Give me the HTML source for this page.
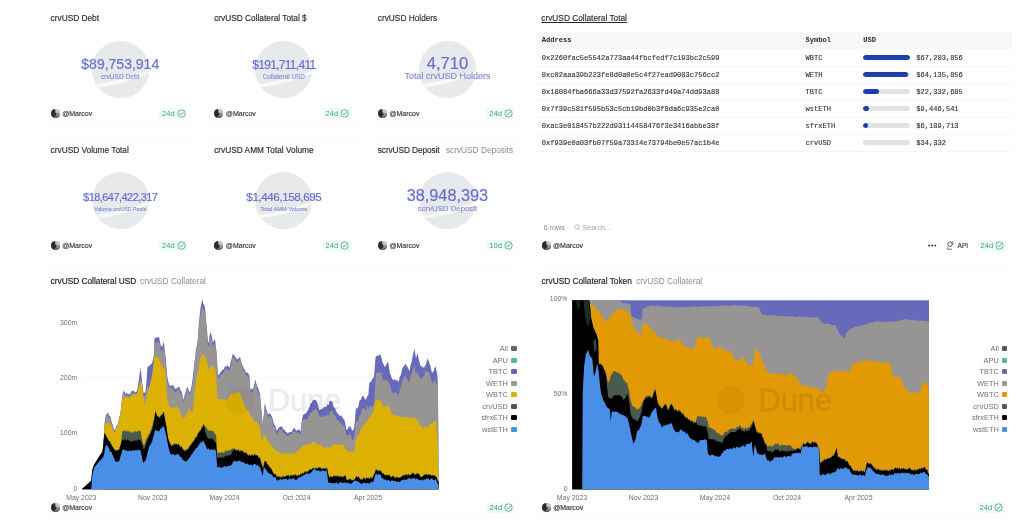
<!DOCTYPE html>
<html lang="en"><head><meta charset="utf-8"><title>crvUSD dashboard</title>
<style>
html,body{margin:0;padding:0;background:#fff;}
body{width:1024px;height:531px;overflow:hidden;font-family:"Liberation Sans",sans-serif;}
#root{position:relative;width:1024px;height:531px;overflow:hidden;background:#fff;}
.abs{position:absolute;}
.t{position:absolute;white-space:nowrap;line-height:1;}
.card{box-sizing:border-box;border:1px solid #fbfbfb;border-radius:3px;background:transparent;}
.pill{background:#f1fbf7;border-radius:2px;}
.bar{background:#e2e2e2;border-radius:3px;overflow:hidden;}
.bar i{display:block;height:100%;background:#1f3fb0;border-radius:3px;}
.m{-webkit-text-stroke:0.12px currentColor;}
.ctitle{-webkit-text-stroke:0.18px currentColor;}
.ktitle{-webkit-text-stroke:0.15px currentColor;}
.u{-webkit-text-stroke:0.15px currentColor;}
.val{-webkit-text-stroke:0.2px currentColor;}
.lab{-webkit-text-stroke:0.1px currentColor;}

</style></head>
<body>
<div id="root">
<svg class="abs" style="left:0;top:0" width="1024" height="531" viewBox="0 0 1024 531">
<line x1="82" x2="438.5" y1="377.7" y2="377.7" stroke="#f4f4f4" stroke-width="0.8"/>
<path d="M81.9,489.3 L81.9,489.2 L82.4,488.7 L82.9,488.3 L83.4,487.8 L83.9,487.4 L84.4,486.9 L84.9,486.5 L85.4,486.0 L85.9,485.6 L86.4,485.1 L86.9,484.7 L87.4,484.2 L87.9,483.8 L88.4,483.3 L88.9,482.9 L89.4,482.4 L89.9,482.0 L90.4,481.5 L90.9,481.1 L91.4,479.5 L91.9,473.8 L92.4,469.7 L92.9,468.2 L93.4,466.8 L93.9,465.3 L94.4,464.2 L94.9,463.4 L95.4,462.6 L95.9,461.8 L96.4,461.0 L96.9,460.2 L97.4,459.4 L97.9,458.6 L98.4,457.7 L98.9,457.0 L99.4,456.2 L99.9,455.5 L100.4,454.7 L100.9,454.0 L101.4,453.3 L101.9,452.5 L102.4,451.8 L102.9,448.0 L103.4,442.3 L103.9,434.9 L104.4,426.3 L104.9,420.7 L105.4,417.3 L105.9,414.7 L106.4,414.9 L106.9,414.2 L107.4,413.3 L107.9,412.2 L108.4,413.6 L108.9,415.5 L109.4,415.4 L109.9,415.9 L110.4,416.7 L110.9,418.8 L111.4,420.9 L111.9,422.9 L112.4,424.1 L112.9,425.2 L113.4,427.1 L113.9,429.1 L114.4,429.7 L114.9,430.0 L115.4,429.4 L115.9,427.3 L116.4,426.3 L116.9,425.6 L117.4,425.3 L117.9,424.0 L118.4,422.1 L118.9,419.5 L119.4,417.1 L119.9,415.2 L120.4,413.0 L120.9,408.8 L121.4,404.0 L121.9,399.7 L122.4,395.7 L122.9,392.3 L123.4,390.2 L123.9,391.6 L124.4,391.8 L124.9,392.4 L125.4,393.7 L125.9,393.7 L126.4,392.1 L126.9,393.4 L127.4,394.0 L127.9,393.8 L128.4,394.2 L128.9,394.5 L129.4,393.5 L129.9,393.5 L130.4,394.4 L130.9,392.3 L131.4,391.1 L131.9,391.3 L132.4,391.2 L132.9,390.9 L133.4,390.6 L133.9,391.1 L134.4,391.4 L134.9,391.9 L135.4,392.6 L135.9,392.2 L136.4,391.7 L136.9,390.9 L137.4,389.1 L137.9,385.9 L138.4,382.8 L138.9,379.4 L139.4,375.7 L139.9,371.8 L140.4,367.2 L140.9,370.7 L141.4,375.4 L141.9,379.9 L142.4,384.5 L142.9,388.5 L143.4,392.8 L143.9,393.0 L144.4,392.8 L144.9,392.6 L145.4,392.1 L145.9,387.3 L146.4,382.3 L146.9,375.1 L147.4,368.0 L147.9,366.0 L148.4,366.3 L148.9,366.4 L149.4,365.8 L149.9,365.3 L150.4,364.8 L150.9,364.0 L151.4,363.7 L151.9,363.4 L152.4,361.7 L152.9,359.9 L153.4,358.1 L153.9,354.2 L154.4,339.3 L154.9,337.8 L155.4,337.4 L155.9,338.5 L156.4,337.6 L156.9,336.6 L157.4,337.6 L157.9,337.8 L158.4,337.5 L158.9,336.9 L159.4,338.4 L159.9,341.8 L160.4,344.1 L160.9,346.3 L161.4,346.5 L161.9,346.3 L162.4,346.2 L162.9,344.2 L163.4,342.6 L163.9,342.4 L164.4,346.4 L164.9,350.7 L165.4,355.1 L165.9,360.0 L166.4,366.4 L166.9,373.6 L167.4,377.1 L167.9,380.3 L168.4,382.1 L168.9,383.5 L169.4,385.0 L169.9,385.7 L170.4,386.6 L170.9,385.5 L171.4,385.1 L171.9,385.8 L172.4,385.3 L172.9,385.0 L173.4,385.9 L173.9,386.8 L174.4,387.9 L174.9,388.5 L175.4,389.0 L175.9,389.3 L176.4,388.5 L176.9,387.6 L177.4,387.9 L177.9,387.6 L178.4,386.9 L178.9,386.4 L179.4,387.1 L179.9,388.5 L180.4,389.8 L180.9,391.0 L181.4,391.6 L181.9,392.8 L182.4,394.9 L182.9,397.8 L183.4,399.9 L183.9,398.4 L184.4,396.1 L184.9,394.1 L185.4,392.6 L185.9,391.2 L186.4,389.3 L186.9,387.7 L187.4,386.8 L187.9,388.1 L188.4,389.5 L188.9,390.8 L189.4,391.5 L189.9,392.2 L190.4,391.2 L190.9,389.2 L191.4,386.8 L191.9,384.1 L192.4,380.3 L192.9,376.3 L193.4,371.5 L193.9,366.8 L194.4,362.3 L194.9,359.5 L195.4,355.5 L195.9,349.9 L196.4,347.8 L196.9,346.0 L197.4,343.0 L197.9,337.8 L198.4,329.7 L198.9,322.9 L199.4,318.2 L199.9,313.0 L200.4,309.0 L200.9,305.9 L201.4,303.5 L201.9,300.4 L202.4,299.4 L202.9,301.8 L203.4,303.9 L203.9,304.4 L204.4,305.5 L204.9,306.9 L205.4,311.7 L205.9,317.3 L206.4,323.6 L206.9,328.9 L207.4,334.4 L207.9,340.3 L208.4,343.3 L208.9,341.5 L209.4,336.8 L209.9,334.4 L210.4,332.0 L210.9,333.5 L211.4,334.8 L211.9,336.7 L212.4,340.1 L212.9,342.7 L213.4,341.6 L213.9,340.6 L214.4,339.7 L214.9,339.9 L215.4,342.0 L215.9,346.8 L216.4,350.5 L216.9,357.6 L217.4,366.5 L217.9,375.4 L218.4,374.7 L218.9,374.6 L219.4,374.1 L219.9,373.0 L220.4,372.3 L220.9,371.9 L221.4,371.6 L221.9,370.7 L222.4,369.4 L222.9,369.6 L223.4,369.6 L223.9,369.2 L224.4,367.4 L224.9,366.0 L225.4,367.0 L225.9,366.8 L226.4,366.4 L226.9,365.4 L227.4,365.1 L227.9,365.9 L228.4,366.4 L228.9,366.9 L229.4,367.5 L229.9,366.3 L230.4,363.1 L230.9,361.3 L231.4,359.5 L231.9,357.9 L232.4,355.6 L232.9,353.3 L233.4,354.6 L233.9,355.1 L234.4,355.2 L234.9,356.5 L235.4,357.4 L235.9,357.5 L236.4,358.8 L236.9,359.4 L237.4,359.3 L237.9,359.0 L238.4,358.4 L238.9,358.3 L239.4,357.7 L239.9,356.5 L240.4,358.2 L240.9,360.8 L241.4,362.5 L241.9,364.0 L242.4,365.6 L242.9,366.3 L243.4,367.5 L243.9,369.3 L244.4,369.4 L244.9,369.5 L245.4,371.3 L245.9,372.4 L246.4,372.9 L246.9,372.6 L247.4,372.5 L247.9,372.7 L248.4,373.8 L248.9,375.1 L249.4,375.9 L249.9,382.3 L250.4,390.0 L250.9,389.5 L251.4,388.8 L251.9,388.0 L252.4,389.0 L252.9,389.8 L253.4,387.9 L253.9,385.6 L254.4,384.3 L254.9,380.5 L255.4,379.8 L255.9,381.8 L256.4,384.1 L256.9,386.2 L257.4,386.6 L257.9,387.8 L258.4,388.9 L258.9,390.5 L259.4,392.1 L259.9,393.4 L260.4,398.4 L260.9,404.2 L261.4,409.7 L261.9,415.6 L262.4,421.8 L262.9,424.4 L263.4,418.5 L263.9,413.7 L264.4,406.9 L264.9,403.0 L265.4,405.1 L265.9,407.4 L266.4,409.8 L266.9,411.2 L267.4,413.1 L267.9,414.2 L268.4,414.1 L268.9,413.7 L269.4,413.4 L269.9,413.5 L270.4,413.9 L270.9,414.8 L271.4,415.7 L271.9,416.6 L272.4,418.0 L272.9,419.7 L273.4,421.9 L273.9,423.7 L274.4,425.1 L274.9,424.9 L275.4,425.8 L275.9,428.1 L276.4,429.7 L276.9,430.8 L277.4,429.8 L277.9,429.0 L278.4,428.6 L278.9,427.4 L279.4,426.7 L279.9,426.8 L280.4,426.4 L280.9,426.3 L281.4,426.9 L281.9,426.9 L282.4,426.3 L282.9,428.6 L283.4,429.8 L283.9,429.5 L284.4,429.6 L284.9,430.1 L285.4,431.4 L285.9,431.9 L286.4,432.0 L286.9,432.3 L287.4,432.9 L287.9,433.8 L288.4,433.1 L288.9,431.9 L289.4,432.4 L289.9,432.2 L290.4,431.5 L290.9,432.1 L291.4,432.3 L291.9,431.8 L292.4,430.4 L292.9,429.1 L293.4,429.1 L293.9,428.4 L294.4,427.9 L294.9,428.6 L295.4,429.4 L295.9,430.3 L296.4,430.7 L296.9,430.8 L297.4,430.2 L297.9,429.8 L298.4,429.6 L298.9,429.6 L299.4,429.9 L299.9,430.8 L300.4,431.6 L300.9,428.8 L301.4,423.6 L301.9,420.0 L302.4,417.5 L302.9,415.6 L303.4,414.4 L303.9,414.2 L304.4,413.8 L304.9,413.6 L305.4,413.9 L305.9,413.4 L306.4,412.2 L306.9,411.7 L307.4,411.1 L307.9,410.6 L308.4,408.9 L308.9,407.4 L309.4,407.5 L309.9,406.3 L310.4,404.1 L310.9,403.8 L311.4,403.3 L311.9,402.0 L312.4,401.0 L312.9,400.2 L313.4,400.0 L313.9,399.8 L314.4,399.7 L314.9,399.8 L315.4,399.9 L315.9,400.1 L316.4,400.5 L316.9,401.9 L317.4,402.9 L317.9,404.3 L318.4,406.1 L318.9,408.6 L319.4,410.3 L319.9,410.0 L320.4,409.5 L320.9,409.2 L321.4,409.4 L321.9,409.1 L322.4,408.3 L322.9,408.5 L323.4,407.9 L323.9,406.4 L324.4,406.6 L324.9,407.1 L325.4,407.0 L325.9,406.9 L326.4,406.8 L326.9,405.4 L327.4,404.5 L327.9,404.3 L328.4,404.9 L328.9,404.8 L329.4,402.0 L329.9,400.9 L330.4,400.9 L330.9,400.8 L331.4,401.4 L331.9,401.2 L332.4,402.3 L332.9,403.9 L333.4,406.0 L333.9,407.1 L334.4,407.5 L334.9,408.0 L335.4,409.1 L335.9,411.3 L336.4,411.8 L336.9,412.1 L337.4,413.6 L337.9,413.9 L338.4,413.5 L338.9,414.8 L339.4,415.7 L339.9,416.5 L340.4,415.8 L340.9,415.0 L341.4,415.6 L341.9,416.5 L342.4,417.6 L342.9,418.2 L343.4,418.7 L343.9,419.4 L344.4,420.3 L344.9,421.4 L345.4,424.3 L345.9,427.1 L346.4,429.7 L346.9,429.8 L347.4,429.2 L347.9,429.0 L348.4,427.9 L348.9,426.6 L349.4,425.9 L349.9,426.3 L350.4,427.0 L350.9,427.6 L351.4,428.6 L351.9,430.2 L352.4,430.8 L352.9,430.3 L353.4,429.9 L353.9,428.9 L354.4,425.5 L354.9,419.9 L355.4,414.2 L355.9,408.5 L356.4,407.9 L356.9,408.4 L357.4,408.2 L357.9,407.7 L358.4,406.3 L358.9,403.4 L359.4,401.2 L359.9,399.8 L360.4,399.9 L360.9,399.8 L361.4,397.8 L361.9,396.7 L362.4,396.2 L362.9,395.5 L363.4,396.0 L363.9,397.1 L364.4,398.1 L364.9,399.0 L365.4,399.7 L365.9,399.3 L366.4,398.7 L366.9,396.7 L367.4,395.7 L367.9,396.1 L368.4,394.5 L368.9,388.1 L369.4,382.8 L369.9,382.0 L370.4,381.9 L370.9,381.9 L371.4,381.3 L371.9,380.1 L372.4,379.1 L372.9,378.2 L373.4,377.5 L373.9,377.3 L374.4,372.0 L374.9,365.1 L375.4,359.3 L375.9,356.1 L376.4,356.2 L376.9,355.9 L377.4,355.6 L377.9,355.6 L378.4,355.8 L378.9,355.3 L379.4,354.8 L379.9,354.2 L380.4,354.3 L380.9,355.9 L381.4,357.3 L381.9,359.4 L382.4,361.9 L382.9,363.2 L383.4,364.2 L383.9,364.8 L384.4,366.7 L384.9,366.9 L385.4,365.8 L385.9,365.0 L386.4,364.3 L386.9,363.6 L387.4,362.6 L387.9,361.1 L388.4,363.2 L388.9,367.1 L389.4,370.2 L389.9,373.1 L390.4,374.1 L390.9,375.5 L391.4,376.9 L391.9,378.2 L392.4,378.9 L392.9,379.6 L393.4,380.3 L393.9,380.0 L394.4,379.0 L394.9,379.6 L395.4,380.2 L395.9,380.6 L396.4,380.1 L396.9,379.8 L397.4,380.6 L397.9,381.3 L398.4,382.0 L398.9,380.4 L399.4,378.5 L399.9,376.2 L400.4,375.5 L400.9,374.9 L401.4,372.7 L401.9,370.6 L402.4,368.3 L402.9,367.4 L403.4,366.7 L403.9,366.0 L404.4,365.4 L404.9,364.8 L405.4,364.0 L405.9,364.1 L406.4,366.1 L406.9,366.3 L407.4,366.8 L407.9,367.8 L408.4,368.7 L408.9,369.8 L409.4,371.1 L409.9,369.7 L410.4,365.6 L410.9,364.3 L411.4,362.7 L411.9,360.6 L412.4,357.6 L412.9,354.8 L413.4,353.1 L413.9,350.9 L414.4,348.3 L414.9,351.5 L415.4,354.7 L415.9,358.0 L416.4,357.0 L416.9,355.1 L417.4,353.8 L417.9,353.9 L418.4,357.6 L418.9,359.4 L419.4,361.4 L419.9,363.8 L420.4,365.6 L420.9,366.4 L421.4,366.0 L421.9,366.5 L422.4,367.6 L422.9,367.2 L423.4,367.2 L423.9,367.8 L424.4,367.1 L424.9,366.1 L425.4,365.4 L425.9,364.3 L426.4,362.9 L426.9,359.9 L427.4,358.1 L427.9,360.0 L428.4,360.7 L428.9,361.1 L429.4,363.2 L429.9,364.7 L430.4,365.6 L430.9,368.2 L431.4,370.6 L431.9,372.8 L432.4,373.3 L432.9,371.5 L433.4,371.8 L433.9,370.6 L434.4,368.3 L434.9,367.2 L435.4,366.0 L435.9,368.1 L436.4,370.5 L436.9,372.8 L437.4,375.4 L437.9,386.3 L438.4,442.6 L438.5,489.3 L438.5,489.3 Z" fill="#676abb" />
<path d="M104.0,489.3 L104.0,433.2 L104.5,425.2 L105.0,421.2 L105.5,417.7 L106.0,415.9 L106.5,416.3 L107.0,416.0 L107.5,415.4 L108.0,414.5 L108.5,416.6 L109.0,418.0 L109.5,417.4 L110.0,417.6 L110.5,418.2 L111.0,419.9 L111.5,422.1 L112.0,424.4 L112.5,425.8 L113.0,427.5 L113.5,429.7 L114.0,431.8 L114.5,432.1 L115.0,432.2 L115.5,430.9 L116.0,428.5 L116.5,427.3 L117.0,426.9 L117.5,426.9 L118.0,425.3 L118.5,423.3 L119.0,420.7 L119.5,418.6 L120.0,416.7 L120.5,413.8 L121.0,409.1 L121.5,405.0 L122.0,401.4 L122.5,397.7 L123.0,394.2 L123.5,392.6 L124.0,393.4 L124.5,393.0 L125.0,393.9 L125.5,395.5 L126.0,395.5 L126.5,395.0 L127.0,395.7 L127.5,395.5 L128.0,395.7 L128.5,396.8 L129.0,396.9 L129.5,395.4 L130.0,395.7 L130.5,396.2 L131.0,394.2 L131.5,393.4 L132.0,393.7 L132.5,393.0 L133.0,392.3 L133.5,392.2 L134.0,392.7 L134.5,393.0 L135.0,393.5 L135.5,394.4 L136.0,394.2 L136.5,394.0 L137.0,393.0 L137.5,392.3 L138.0,389.5 L138.5,387.0 L139.0,385.6 L139.5,384.3 L140.0,382.1 L140.5,379.5 L141.0,380.4 L141.5,382.4 L142.0,384.8 L142.5,388.3 L143.0,391.2 L143.5,395.3 L144.0,396.2 L144.5,395.9 L145.0,395.7 L145.5,394.2 L146.0,389.5 L146.5,390.3 L147.0,388.7 L147.5,386.0 L148.0,386.2 L148.5,387.4 L149.0,388.0 L149.5,386.2 L150.0,384.5 L150.5,382.6 L151.0,380.8 L151.5,378.5 L152.0,375.8 L152.5,371.9 L153.0,368.4 L153.5,364.5 L154.0,357.2 L154.5,344.4 L155.0,342.7 L155.5,342.6 L156.0,343.5 L156.5,342.0 L157.0,341.5 L157.5,342.7 L158.0,342.9 L158.5,342.8 L159.0,342.1 L159.5,344.1 L160.0,346.8 L160.5,348.2 L161.0,350.8 L161.5,350.9 L162.0,350.9 L162.5,350.5 L163.0,348.5 L163.5,346.8 L164.0,347.2 L164.5,351.4 L165.0,355.7 L165.5,360.0 L166.0,365.1 L166.5,371.4 L167.0,378.2 L167.5,380.9 L168.0,384.4 L168.5,385.8 L169.0,386.8 L169.5,388.0 L170.0,388.3 L170.5,388.5 L171.0,387.6 L171.5,387.8 L172.0,388.5 L172.5,387.7 L173.0,388.0 L173.5,389.4 L174.0,390.7 L174.5,391.4 L175.0,391.8 L175.5,392.1 L176.0,392.3 L176.5,391.2 L177.0,390.7 L177.5,390.6 L178.0,389.7 L178.5,389.1 L179.0,389.1 L179.5,390.3 L180.0,391.8 L180.5,393.1 L181.0,393.9 L181.5,394.3 L182.0,395.6 L182.5,397.7 L183.0,400.6 L183.5,402.6 L184.0,400.2 L184.5,398.0 L185.0,396.2 L185.5,395.2 L186.0,393.7 L186.5,391.4 L187.0,389.3 L187.5,388.9 L188.0,390.2 L188.5,391.8 L189.0,393.1 L189.5,394.1 L190.0,395.1 L190.5,393.8 L191.0,391.8 L191.5,389.3 L192.0,386.5 L192.5,382.4 L193.0,378.7 L193.5,373.8 L194.0,368.9 L194.5,364.2 L195.0,361.0 L195.5,356.2 L196.0,351.1 L196.5,350.2 L197.0,348.6 L197.5,345.7 L198.0,339.7 L198.5,331.8 L199.0,324.9 L199.5,321.6 L200.0,317.4 L200.5,314.5 L201.0,311.9 L201.5,310.1 L202.0,307.7 L202.5,306.5 L203.0,308.7 L203.5,309.7 L204.0,310.0 L204.5,311.2 L205.0,312.1 L205.5,316.1 L206.0,321.9 L206.5,328.5 L207.0,334.0 L207.5,339.7 L208.0,345.1 L208.5,348.0 L209.0,344.8 L209.5,340.8 L210.0,338.7 L210.5,336.8 L211.0,338.0 L211.5,339.4 L212.0,342.1 L212.5,345.7 L213.0,346.9 L213.5,345.4 L214.0,344.5 L214.5,343.8 L215.0,343.5 L215.5,345.8 L216.0,350.6 L216.5,354.1 L217.0,362.4 L217.5,371.4 L218.0,378.6 L218.5,378.2 L219.0,378.2 L219.5,376.9 L220.0,375.2 L220.5,374.9 L221.0,374.7 L221.5,374.7 L222.0,374.0 L222.5,373.2 L223.0,373.3 L223.5,372.9 L224.0,372.0 L224.5,369.5 L225.0,368.9 L225.5,370.2 L226.0,369.9 L226.5,369.7 L227.0,368.5 L227.5,368.2 L228.0,368.9 L228.5,369.7 L229.0,370.3 L229.5,371.0 L230.0,369.1 L230.5,366.4 L231.0,364.8 L231.5,362.7 L232.0,360.7 L232.5,358.4 L233.0,356.9 L233.5,358.0 L234.0,358.0 L234.5,358.3 L235.0,360.0 L235.5,360.8 L236.0,360.5 L236.5,361.6 L237.0,362.2 L237.5,362.3 L238.0,361.7 L238.5,361.1 L239.0,360.9 L239.5,360.1 L240.0,358.8 L240.5,361.1 L241.0,363.4 L241.5,365.2 L242.0,366.8 L242.5,368.4 L243.0,369.4 L243.5,370.8 L244.0,372.1 L244.5,371.7 L245.0,372.1 L245.5,374.0 L246.0,375.5 L246.5,376.4 L247.0,375.6 L247.5,375.2 L248.0,375.9 L248.5,377.8 L249.0,378.9 L249.5,379.4 L250.0,386.9 L250.5,392.8 L251.0,392.4 L251.5,392.1 L252.0,391.6 L252.5,393.1 L253.0,393.5 L253.5,390.6 L254.0,388.2 L254.5,386.3 L255.0,382.3 L255.5,383.0 L256.0,385.5 L256.5,388.3 L257.0,390.2 L257.5,390.7 L258.0,392.0 L258.5,392.9 L259.0,394.7 L259.5,396.3 L260.0,397.5 L260.5,402.6 L261.0,407.9 L261.5,413.1 L262.0,418.6 L262.5,423.8 L263.0,423.8 L263.5,418.9 L264.0,414.7 L264.5,407.8 L265.0,406.2 L265.5,408.3 L266.0,410.7 L266.5,412.9 L267.0,414.3 L267.5,416.6 L268.0,417.6 L268.5,417.5 L269.0,416.6 L269.5,415.6 L270.0,415.9 L270.5,416.5 L271.0,417.4 L271.5,418.4 L272.0,419.7 L272.5,421.9 L273.0,423.9 L273.5,425.8 L274.0,427.0 L274.5,427.6 L275.0,427.0 L275.5,429.1 L276.0,432.1 L276.5,433.6 L277.0,434.6 L277.5,433.2 L278.0,432.6 L278.5,431.8 L279.0,430.2 L279.5,429.5 L280.0,430.0 L280.5,429.7 L281.0,429.5 L281.5,429.8 L282.0,429.3 L282.5,429.1 L283.0,431.7 L283.5,433.1 L284.0,433.1 L284.5,433.4 L285.0,433.9 L285.5,434.6 L286.0,434.3 L286.5,435.1 L287.0,436.0 L287.5,436.2 L288.0,436.3 L288.5,435.0 L289.0,434.5 L289.5,435.0 L290.0,434.3 L290.5,433.7 L291.0,434.5 L291.5,434.6 L292.0,434.1 L292.5,432.4 L293.0,431.8 L293.5,432.3 L294.0,431.5 L294.5,430.9 L295.0,431.3 L295.5,432.0 L296.0,432.8 L296.5,433.1 L297.0,433.0 L297.5,432.5 L298.0,432.4 L298.5,432.7 L299.0,433.1 L299.5,433.7 L300.0,434.4 L300.5,435.0 L301.0,430.8 L301.5,425.5 L302.0,423.2 L302.5,421.6 L303.0,419.9 L303.5,419.2 L304.0,419.2 L304.5,419.0 L305.0,419.3 L305.5,420.0 L306.0,419.6 L306.5,419.0 L307.0,419.0 L307.5,418.8 L308.0,418.6 L308.5,416.6 L309.0,415.5 L309.5,415.9 L310.0,414.6 L310.5,413.1 L311.0,413.0 L311.5,412.5 L312.0,411.7 L312.5,411.2 L313.0,410.7 L313.5,410.6 L314.0,410.3 L314.5,409.8 L315.0,409.5 L315.5,409.2 L316.0,409.2 L316.5,409.2 L317.0,410.2 L317.5,410.4 L318.0,411.3 L318.5,413.3 L319.0,415.9 L319.5,417.0 L320.0,416.5 L320.5,416.4 L321.0,416.8 L321.5,417.4 L322.0,416.9 L322.5,416.6 L323.0,417.2 L323.5,416.8 L324.0,415.3 L324.5,415.9 L325.0,416.2 L325.5,416.0 L326.0,416.1 L326.5,415.9 L327.0,414.9 L327.5,414.6 L328.0,414.7 L328.5,415.9 L329.0,415.4 L329.5,412.9 L330.0,412.6 L330.5,411.3 L331.0,410.8 L331.5,410.7 L332.0,410.1 L332.5,411.2 L333.0,412.7 L333.5,414.6 L334.0,415.0 L334.5,415.0 L335.0,415.2 L335.5,416.6 L336.0,418.6 L336.5,418.5 L337.0,419.2 L337.5,420.8 L338.0,420.6 L338.5,420.3 L339.0,421.7 L339.5,422.9 L340.0,424.0 L340.5,422.7 L341.0,422.0 L341.5,422.7 L342.0,423.8 L342.5,424.6 L343.0,425.1 L343.5,425.2 L344.0,425.9 L344.5,426.2 L345.0,427.7 L345.5,430.9 L346.0,433.0 L346.5,435.0 L347.0,435.0 L347.5,435.0 L348.0,435.7 L348.5,435.2 L349.0,434.4 L349.5,433.5 L350.0,434.2 L350.5,434.9 L351.0,435.6 L351.5,437.6 L352.0,440.1 L352.5,440.1 L353.0,439.4 L353.5,439.2 L354.0,438.4 L354.5,434.2 L355.0,428.5 L355.5,424.6 L356.0,420.8 L356.5,421.5 L357.0,421.6 L357.5,421.3 L358.0,421.1 L358.5,419.8 L359.0,417.3 L359.5,415.7 L360.0,414.5 L360.5,414.5 L361.0,413.5 L361.5,411.0 L362.0,409.7 L362.5,408.7 L363.0,408.2 L363.5,408.0 L364.0,408.2 L364.5,408.7 L365.0,409.1 L365.5,409.8 L366.0,409.7 L366.5,409.0 L367.0,406.7 L367.5,406.0 L368.0,406.4 L368.5,409.5 L369.0,408.0 L369.5,405.8 L370.0,405.9 L370.5,406.4 L371.0,407.0 L371.5,406.9 L372.0,406.3 L372.5,406.0 L373.0,405.7 L373.5,405.6 L374.0,404.6 L374.5,397.4 L375.0,388.9 L375.5,379.6 L376.0,373.3 L376.5,372.9 L377.0,372.6 L377.5,372.5 L378.0,373.1 L378.5,373.5 L379.0,373.0 L379.5,372.6 L380.0,371.6 L380.5,371.4 L381.0,372.9 L381.5,374.1 L382.0,376.5 L382.5,379.0 L383.0,379.8 L383.5,379.9 L384.0,379.7 L384.5,380.7 L385.0,379.7 L385.5,378.9 L386.0,379.3 L386.5,380.0 L387.0,380.7 L387.5,380.9 L388.0,380.9 L388.5,382.1 L389.0,383.3 L389.5,384.2 L390.0,385.0 L390.5,386.7 L391.0,388.8 L391.5,390.8 L392.0,392.2 L392.5,392.7 L393.0,393.0 L393.5,393.4 L394.0,392.5 L394.5,392.0 L395.0,392.8 L395.5,393.0 L396.0,393.2 L396.5,393.1 L397.0,393.6 L397.5,394.5 L398.0,395.2 L398.5,395.1 L399.0,393.1 L399.5,390.9 L400.0,388.7 L400.5,388.4 L401.0,387.2 L401.5,384.8 L402.0,382.3 L402.5,380.1 L403.0,378.7 L403.5,377.9 L404.0,377.2 L404.5,376.6 L405.0,375.9 L405.5,375.2 L406.0,376.0 L406.5,378.3 L407.0,379.1 L407.5,379.2 L408.0,379.7 L408.5,380.7 L409.0,381.9 L409.5,382.9 L410.0,380.2 L410.5,376.2 L411.0,375.1 L411.5,374.0 L412.0,372.9 L412.5,370.6 L413.0,368.9 L413.5,367.8 L414.0,366.2 L414.5,365.5 L415.0,368.8 L415.5,372.1 L416.0,375.4 L416.5,373.3 L417.0,371.6 L417.5,370.9 L418.0,372.5 L418.5,374.7 L419.0,375.2 L419.5,376.4 L420.0,378.0 L420.5,379.0 L421.0,379.1 L421.5,377.9 L422.0,377.7 L422.5,377.6 L423.0,376.7 L423.5,376.3 L424.0,376.4 L424.5,374.8 L425.0,372.8 L425.5,370.9 L426.0,370.7 L426.5,371.7 L427.0,370.9 L427.5,371.3 L428.0,373.0 L428.5,372.1 L429.0,372.1 L429.5,373.7 L430.0,375.3 L430.5,376.7 L431.0,379.4 L431.5,381.5 L432.0,383.3 L432.5,382.8 L433.0,381.8 L433.5,382.5 L434.0,381.7 L434.5,380.6 L435.0,380.1 L435.5,379.5 L436.0,383.5 L436.5,384.3 L437.0,384.0 L437.5,384.9 L438.0,393.0 L438.5,489.3 L438.5,489.3 Z" fill="#979594" />
<path d="M103.5,489.3 L103.5,446.1 L104.0,436.1 L104.5,426.2 L105.0,424.1 L105.5,424.0 L106.0,424.1 L106.5,423.8 L107.0,423.1 L107.5,422.5 L108.0,422.0 L108.5,422.9 L109.0,423.8 L109.5,424.7 L110.0,425.3 L110.5,425.4 L111.0,425.3 L111.5,425.0 L112.0,426.3 L112.5,428.0 L113.0,429.4 L113.5,430.6 L114.0,431.8 L114.5,432.1 L115.0,432.2 L115.5,430.9 L116.0,429.3 L116.5,428.1 L117.0,426.9 L117.5,426.9 L118.0,425.3 L118.5,423.3 L119.0,420.7 L119.5,418.6 L120.0,416.7 L120.5,413.8 L121.0,409.3 L121.5,405.6 L122.0,401.4 L122.5,398.8 L123.0,399.1 L123.5,399.0 L124.0,398.2 L124.5,397.1 L125.0,396.3 L125.5,397.0 L126.0,398.1 L126.5,397.4 L127.0,396.9 L127.5,397.4 L128.0,397.7 L128.5,397.8 L129.0,397.8 L129.5,397.2 L130.0,396.8 L130.5,396.4 L131.0,396.3 L131.5,396.1 L132.0,395.4 L132.5,395.2 L133.0,395.9 L133.5,395.4 L134.0,393.9 L134.5,393.8 L135.0,394.1 L135.5,394.4 L136.0,394.2 L136.5,394.0 L137.0,393.0 L137.5,392.3 L138.0,389.5 L138.5,387.0 L139.0,385.6 L139.5,384.3 L140.0,382.1 L140.5,380.4 L141.0,381.6 L141.5,383.0 L142.0,384.8 L142.5,389.3 L143.0,393.7 L143.5,397.1 L144.0,400.4 L144.5,405.6 L145.0,403.7 L145.5,400.9 L146.0,398.6 L146.5,397.2 L147.0,395.0 L147.5,392.7 L148.0,391.5 L148.5,390.6 L149.0,388.5 L149.5,386.2 L150.0,384.5 L150.5,382.6 L151.0,380.8 L151.5,378.5 L152.0,375.8 L152.5,371.9 L153.0,369.0 L153.5,364.5 L154.0,358.2 L154.5,358.0 L155.0,357.4 L155.5,356.5 L156.0,356.4 L156.5,356.7 L157.0,357.6 L157.5,358.5 L158.0,358.1 L158.5,358.0 L159.0,359.0 L159.5,360.3 L160.0,361.3 L160.5,362.6 L161.0,364.0 L161.5,364.7 L162.0,365.2 L162.5,366.7 L163.0,368.0 L163.5,368.2 L164.0,368.7 L164.5,369.7 L165.0,370.6 L165.5,371.5 L166.0,379.0 L166.5,390.8 L167.0,397.4 L167.5,399.8 L168.0,401.3 L168.5,403.2 L169.0,405.8 L169.5,406.3 L170.0,406.9 L170.5,407.5 L171.0,407.9 L171.5,407.7 L172.0,407.5 L172.5,407.3 L173.0,407.6 L173.5,408.6 L174.0,408.5 L174.5,407.7 L175.0,407.4 L175.5,407.2 L176.0,407.3 L176.5,407.3 L177.0,407.4 L177.5,407.8 L178.0,408.9 L178.5,408.8 L179.0,408.1 L179.5,408.7 L180.0,410.6 L180.5,412.1 L181.0,413.7 L181.5,415.2 L182.0,416.5 L182.5,417.6 L183.0,418.6 L183.5,417.9 L184.0,417.5 L184.5,417.3 L185.0,417.1 L185.5,416.8 L186.0,415.6 L186.5,414.3 L187.0,412.7 L187.5,411.9 L188.0,411.5 L188.5,409.9 L189.0,408.1 L189.5,408.8 L190.0,409.8 L190.5,411.2 L191.0,412.0 L191.5,411.8 L192.0,411.9 L192.5,412.1 L193.0,407.7 L193.5,403.5 L194.0,398.2 L194.5,393.4 L195.0,389.4 L195.5,385.6 L196.0,382.2 L196.5,379.0 L197.0,376.1 L197.5,373.5 L198.0,370.8 L198.5,368.7 L199.0,366.4 L199.5,362.7 L200.0,359.6 L200.5,357.6 L201.0,357.3 L201.5,356.7 L202.0,355.6 L202.5,354.3 L203.0,354.5 L203.5,354.7 L204.0,355.4 L204.5,356.1 L205.0,356.7 L205.5,357.4 L206.0,358.1 L206.5,359.9 L207.0,362.1 L207.5,364.7 L208.0,367.1 L208.5,368.7 L209.0,370.2 L209.5,368.3 L210.0,366.8 L210.5,365.5 L211.0,364.6 L211.5,365.4 L212.0,365.6 L212.5,366.0 L213.0,367.1 L213.5,367.7 L214.0,367.6 L214.5,368.5 L215.0,370.1 L215.5,370.3 L216.0,375.5 L216.5,382.9 L217.0,390.5 L217.5,398.6 L218.0,398.9 L218.5,398.6 L219.0,398.9 L219.5,399.8 L220.0,399.5 L220.5,399.1 L221.0,399.2 L221.5,399.3 L222.0,399.8 L222.5,399.8 L223.0,399.0 L223.5,399.1 L224.0,399.9 L224.5,400.0 L225.0,399.9 L225.5,399.6 L226.0,399.6 L226.5,400.3 L227.0,400.2 L227.5,398.2 L228.0,397.6 L228.5,397.9 L229.0,396.7 L229.5,394.9 L230.0,395.1 L230.5,394.9 L231.0,393.7 L231.5,393.0 L232.0,392.8 L232.5,393.1 L233.0,393.6 L233.5,394.2 L234.0,394.7 L234.5,393.7 L235.0,393.0 L235.5,393.3 L236.0,393.5 L236.5,393.6 L237.0,393.3 L237.5,392.8 L238.0,392.9 L238.5,393.2 L239.0,392.5 L239.5,392.0 L240.0,392.5 L240.5,394.3 L241.0,396.2 L241.5,397.6 L242.0,398.6 L242.5,399.9 L243.0,401.3 L243.5,402.6 L244.0,403.8 L244.5,405.3 L245.0,406.3 L245.5,406.6 L246.0,407.5 L246.5,408.9 L247.0,409.5 L247.5,409.9 L248.0,409.7 L248.5,409.9 L249.0,411.7 L249.5,413.0 L250.0,414.0 L250.5,414.9 L251.0,415.8 L251.5,416.7 L252.0,417.7 L252.5,418.5 L253.0,419.4 L253.5,420.2 L254.0,420.7 L254.5,421.1 L255.0,421.5 L255.5,421.9 L256.0,422.1 L256.5,422.1 L257.0,422.5 L257.5,423.1 L258.0,424.5 L258.5,425.6 L259.0,426.0 L259.5,426.2 L260.0,426.1 L260.5,430.5 L261.0,435.2 L261.5,439.1 L262.0,441.7 L262.5,439.2 L263.0,436.8 L263.5,434.7 L264.0,433.8 L264.5,435.0 L265.0,435.5 L265.5,435.9 L266.0,437.5 L266.5,438.8 L267.0,439.4 L267.5,440.2 L268.0,441.0 L268.5,441.6 L269.0,442.0 L269.5,443.2 L270.0,444.5 L270.5,444.5 L271.0,444.8 L271.5,446.1 L272.0,446.9 L272.5,446.7 L273.0,447.3 L273.5,448.3 L274.0,449.2 L274.5,450.0 L275.0,450.2 L275.5,450.4 L276.0,450.4 L276.5,450.5 L277.0,450.6 L277.5,451.0 L278.0,451.6 L278.5,451.8 L279.0,451.9 L279.5,452.6 L280.0,453.1 L280.5,453.2 L281.0,453.5 L281.5,453.9 L282.0,453.7 L282.5,453.2 L283.0,453.1 L283.5,453.2 L284.0,453.6 L284.5,453.9 L285.0,454.3 L285.5,454.3 L286.0,453.5 L286.5,453.4 L287.0,453.5 L287.5,453.4 L288.0,453.2 L288.5,453.3 L289.0,453.4 L289.5,453.3 L290.0,453.6 L290.5,454.4 L291.0,454.0 L291.5,452.9 L292.0,453.4 L292.5,454.3 L293.0,453.4 L293.5,452.6 L294.0,452.4 L294.5,452.6 L295.0,453.6 L295.5,453.2 L296.0,451.9 L296.5,451.6 L297.0,451.6 L297.5,451.5 L298.0,451.1 L298.5,450.5 L299.0,450.0 L299.5,449.8 L300.0,449.3 L300.5,448.5 L301.0,447.8 L301.5,447.1 L302.0,446.3 L302.5,445.8 L303.0,446.1 L303.5,445.9 L304.0,444.8 L304.5,444.4 L305.0,444.5 L305.5,444.7 L306.0,445.0 L306.5,445.2 L307.0,445.3 L307.5,444.9 L308.0,444.5 L308.5,444.4 L309.0,444.3 L309.5,444.1 L310.0,444.0 L310.5,444.0 L311.0,443.8 L311.5,443.5 L312.0,442.4 L312.5,441.6 L313.0,441.3 L313.5,441.6 L314.0,442.4 L314.5,442.7 L315.0,442.9 L315.5,443.2 L316.0,443.5 L316.5,444.1 L317.0,444.3 L317.5,443.8 L318.0,444.1 L318.5,445.1 L319.0,445.3 L319.5,445.2 L320.0,445.4 L320.5,445.7 L321.0,445.7 L321.5,445.9 L322.0,446.2 L322.5,446.6 L323.0,447.0 L323.5,447.1 L324.0,447.2 L324.5,447.7 L325.0,448.0 L325.5,447.2 L326.0,447.0 L326.5,447.6 L327.0,447.4 L327.5,446.6 L328.0,447.1 L328.5,447.9 L329.0,447.3 L329.5,447.0 L330.0,447.7 L330.5,447.8 L331.0,447.5 L331.5,446.4 L332.0,445.0 L332.5,444.9 L333.0,445.6 L333.5,444.9 L334.0,444.2 L334.5,444.4 L335.0,444.3 L335.5,444.1 L336.0,444.2 L336.5,444.7 L337.0,444.4 L337.5,444.0 L338.0,444.8 L338.5,445.4 L339.0,445.2 L339.5,445.0 L340.0,444.8 L340.5,444.9 L341.0,445.3 L341.5,444.9 L342.0,444.3 L342.5,444.4 L343.0,444.7 L343.5,445.5 L344.0,446.1 L344.5,446.4 L345.0,447.6 L345.5,449.6 L346.0,449.8 L346.5,449.5 L347.0,449.7 L347.5,450.0 L348.0,451.1 L348.5,451.8 L349.0,451.9 L349.5,451.8 L350.0,451.4 L350.5,451.4 L351.0,451.5 L351.5,451.2 L352.0,451.0 L352.5,450.9 L353.0,451.2 L353.5,452.0 L354.0,452.2 L354.5,449.7 L355.0,445.9 L355.5,442.1 L356.0,439.5 L356.5,439.2 L357.0,437.1 L357.5,435.7 L358.0,435.3 L358.5,434.9 L359.0,434.6 L359.5,433.8 L360.0,432.8 L360.5,430.7 L361.0,429.0 L361.5,428.6 L362.0,428.1 L362.5,427.1 L363.0,426.4 L363.5,425.8 L364.0,425.5 L364.5,425.2 L365.0,424.3 L365.5,423.4 L366.0,422.4 L366.5,421.7 L367.0,421.2 L367.5,420.4 L368.0,419.3 L368.5,418.6 L369.0,418.0 L369.5,417.7 L370.0,417.3 L370.5,416.4 L371.0,415.5 L371.5,414.6 L372.0,413.6 L372.5,412.5 L373.0,412.6 L373.5,411.4 L374.0,408.6 L374.5,406.0 L375.0,403.9 L375.5,401.7 L376.0,400.1 L376.5,400.2 L377.0,400.4 L377.5,400.2 L378.0,399.9 L378.5,400.4 L379.0,400.7 L379.5,400.3 L380.0,400.0 L380.5,399.9 L381.0,401.2 L381.5,402.6 L382.0,403.4 L382.5,404.1 L383.0,405.4 L383.5,406.4 L384.0,406.6 L384.5,406.7 L385.0,406.5 L385.5,406.4 L386.0,406.3 L386.5,406.4 L387.0,406.5 L387.5,405.9 L388.0,405.5 L388.5,406.4 L389.0,407.3 L389.5,408.0 L390.0,409.0 L390.5,410.2 L391.0,411.5 L391.5,413.0 L392.0,413.8 L392.5,414.2 L393.0,414.9 L393.5,415.0 L394.0,414.0 L394.5,414.0 L395.0,414.6 L395.5,415.3 L396.0,416.0 L396.5,415.8 L397.0,415.8 L397.5,416.5 L398.0,416.6 L398.5,415.9 L399.0,416.2 L399.5,417.2 L400.0,417.0 L400.5,416.6 L401.0,416.8 L401.5,416.9 L402.0,416.3 L402.5,416.1 L403.0,416.6 L403.5,417.1 L404.0,417.7 L404.5,417.8 L405.0,417.7 L405.5,417.5 L406.0,417.3 L406.5,417.2 L407.0,416.9 L407.5,416.4 L408.0,416.8 L408.5,417.7 L409.0,417.7 L409.5,417.4 L410.0,417.8 L410.5,418.1 L411.0,418.0 L411.5,417.9 L412.0,417.7 L412.5,418.0 L413.0,418.7 L413.5,418.2 L414.0,417.2 L414.5,418.4 L415.0,419.2 L415.5,418.1 L416.0,417.9 L416.5,419.5 L417.0,420.5 L417.5,420.9 L418.0,421.5 L418.5,422.2 L419.0,423.7 L419.5,425.0 L420.0,425.3 L420.5,425.4 L421.0,425.8 L421.5,425.9 L422.0,425.7 L422.5,426.7 L423.0,428.1 L423.5,428.3 L424.0,428.1 L424.5,427.3 L425.0,426.7 L425.5,426.3 L426.0,426.2 L426.5,426.4 L427.0,426.7 L427.5,427.2 L428.0,426.8 L428.5,426.4 L429.0,425.6 L429.5,424.8 L430.0,423.9 L430.5,423.9 L431.0,424.6 L431.5,423.8 L432.0,422.6 L432.5,423.0 L433.0,423.1 L433.5,422.4 L434.0,422.1 L434.5,422.4 L435.0,421.6 L435.5,420.2 L436.0,420.3 L436.5,426.9 L437.0,433.9 L437.5,440.9 L438.0,447.1 L438.5,489.3 L438.5,489.3 Z" fill="#ddb103" />
<path d="M81.9,489.3 L81.9,489.2 L82.4,488.7 L82.9,488.3 L83.4,487.8 L83.9,487.4 L84.4,486.9 L84.9,486.5 L85.4,486.0 L85.9,485.6 L86.4,485.1 L86.9,484.7 L87.4,484.2 L87.9,483.8 L88.4,483.3 L88.9,482.9 L89.4,482.4 L89.9,482.0 L90.4,481.5 L90.9,481.1 L91.4,479.5 L91.9,473.8 L92.4,469.7 L92.9,468.2 L93.4,466.8 L93.9,465.3 L94.4,464.2 L94.9,463.4 L95.4,462.6 L95.9,461.8 L96.4,461.0 L96.9,460.2 L97.4,459.4 L97.9,458.6 L98.4,457.7 L98.9,457.0 L99.4,456.2 L99.9,455.5 L100.4,454.7 L100.9,454.0 L101.4,453.3 L101.9,452.5 L102.4,451.8 L102.9,448.3 L103.4,443.3 L103.9,438.4 L104.4,433.4 L104.9,433.2 L105.4,434.1 L105.9,435.3 L106.4,436.8 L106.9,437.1 L107.4,437.7 L107.9,438.9 L108.4,439.9 L108.9,440.7 L109.4,441.0 L109.9,441.6 L110.4,442.6 L110.9,443.2 L111.4,444.3 L111.9,446.0 L112.4,446.3 L112.9,446.5 L113.4,448.1 L113.9,448.8 L114.4,448.8 L114.9,450.1 L115.4,450.4 L115.9,450.3 L116.4,449.8 L116.9,449.5 L117.4,450.3 L117.9,450.3 L118.4,449.8 L118.9,449.5 L119.4,449.0 L119.9,446.7 L120.4,445.2 L120.9,443.8 L121.4,439.4 L121.9,434.7 L122.4,430.2 L122.9,431.0 L123.4,431.5 L123.9,431.5 L124.4,430.5 L124.9,429.7 L125.4,430.7 L125.9,431.5 L126.4,431.9 L126.9,431.4 L127.4,430.8 L127.9,430.1 L128.4,431.0 L128.9,431.9 L129.4,431.3 L129.9,431.6 L130.4,432.6 L130.9,432.5 L131.4,432.4 L131.9,432.4 L132.4,432.6 L132.9,432.5 L133.4,431.1 L133.9,431.4 L134.4,432.6 L134.9,431.9 L135.4,431.3 L135.9,431.1 L136.4,431.5 L136.9,431.7 L137.4,431.8 L137.9,431.1 L138.4,429.9 L138.9,430.4 L139.4,430.8 L139.9,431.1 L140.4,430.9 L140.9,432.0 L141.4,435.4 L141.9,439.1 L142.4,440.6 L142.9,443.1 L143.4,444.7 L143.9,444.9 L144.4,444.4 L144.9,443.5 L145.4,442.1 L145.9,440.0 L146.4,438.0 L146.9,438.7 L147.4,437.8 L147.9,435.2 L148.4,434.5 L148.9,434.3 L149.4,433.2 L149.9,432.1 L150.4,431.1 L150.9,430.0 L151.4,428.7 L151.9,427.0 L152.4,425.9 L152.9,423.4 L153.4,421.2 L153.9,419.9 L154.4,418.2 L154.9,413.8 L155.4,410.9 L155.9,411.7 L156.4,413.4 L156.9,415.0 L157.4,415.4 L157.9,415.8 L158.4,416.3 L158.9,417.3 L159.4,417.2 L159.9,416.0 L160.4,415.8 L160.9,415.5 L161.4,414.4 L161.9,414.1 L162.4,414.3 L162.9,412.5 L163.4,411.4 L163.9,412.2 L164.4,415.2 L164.9,418.1 L165.4,421.2 L165.9,423.8 L166.4,426.2 L166.9,429.7 L167.4,433.2 L167.9,436.7 L168.4,439.1 L168.9,440.1 L169.4,441.2 L169.9,442.4 L170.4,443.6 L170.9,444.9 L171.4,445.4 L171.9,444.7 L172.4,444.4 L172.9,444.3 L173.4,444.4 L173.9,444.0 L174.4,443.3 L174.9,443.4 L175.4,443.5 L175.9,443.4 L176.4,443.4 L176.9,443.6 L177.4,444.5 L177.9,444.2 L178.4,443.6 L178.9,443.8 L179.4,444.6 L179.9,446.2 L180.4,446.5 L180.9,446.3 L181.4,445.8 L181.9,446.5 L182.4,448.0 L182.9,448.5 L183.4,448.9 L183.9,449.4 L184.4,450.0 L184.9,450.5 L185.4,450.4 L185.9,449.7 L186.4,448.9 L186.9,449.2 L187.4,449.1 L187.9,448.4 L188.4,447.9 L188.9,447.4 L189.4,445.9 L189.9,445.0 L190.4,444.6 L190.9,444.4 L191.4,443.8 L191.9,442.5 L192.4,442.0 L192.9,441.5 L193.4,440.5 L193.9,440.0 L194.4,439.7 L194.9,438.3 L195.4,437.2 L195.9,436.7 L196.4,436.4 L196.9,436.0 L197.4,434.3 L197.9,433.1 L198.4,432.1 L198.9,432.1 L199.4,431.5 L199.9,429.9 L200.4,429.9 L200.9,429.8 L201.4,427.8 L201.9,427.1 L202.4,427.1 L202.9,425.5 L203.4,423.4 L203.9,423.8 L204.4,425.1 L204.9,426.2 L205.4,426.9 L205.9,427.2 L206.4,427.3 L206.9,428.9 L207.4,429.7 L207.9,429.5 L208.4,430.4 L208.9,431.1 L209.4,430.0 L209.9,430.3 L210.4,431.5 L210.9,430.5 L211.4,430.2 L211.9,431.2 L212.4,431.1 L212.9,430.9 L213.4,431.4 L213.9,432.2 L214.4,433.3 L214.9,434.1 L215.4,434.4 L215.9,433.7 L216.4,439.5 L216.9,449.0 L217.4,452.9 L217.9,453.0 L218.4,453.1 L218.9,452.6 L219.4,452.2 L219.9,452.1 L220.4,452.7 L220.9,453.1 L221.4,452.6 L221.9,452.1 L222.4,451.6 L222.9,452.3 L223.4,452.7 L223.9,452.9 L224.4,452.2 L224.9,451.2 L225.4,450.4 L225.9,450.3 L226.4,450.7 L226.9,451.5 L227.4,451.5 L227.9,450.3 L228.4,450.0 L228.9,450.1 L229.4,450.9 L229.9,450.6 L230.4,449.4 L230.9,450.1 L231.4,449.4 L231.9,447.3 L232.4,447.9 L232.9,449.2 L233.4,448.9 L233.9,448.5 L234.4,447.8 L234.9,449.0 L235.4,449.5 L235.9,449.1 L236.4,449.5 L236.9,450.1 L237.4,450.2 L237.9,449.6 L238.4,448.6 L238.9,449.9 L239.4,450.8 L239.9,450.9 L240.4,450.2 L240.9,449.7 L241.4,450.4 L241.9,450.4 L242.4,450.0 L242.9,450.8 L243.4,451.5 L243.9,452.2 L244.4,452.0 L244.9,451.9 L245.4,452.4 L245.9,452.4 L246.4,452.0 L246.9,453.5 L247.4,454.3 L247.9,454.2 L248.4,454.7 L248.9,455.0 L249.4,454.1 L249.9,454.5 L250.4,455.9 L250.9,454.7 L251.4,454.3 L251.9,455.0 L252.4,454.6 L252.9,454.3 L253.4,455.3 L253.9,454.8 L254.4,453.5 L254.9,454.0 L255.4,454.4 L255.9,454.7 L256.4,454.9 L256.9,454.9 L257.4,454.7 L257.9,455.4 L258.4,456.6 L258.9,457.4 L259.4,457.6 L259.9,456.8 L260.4,459.0 L260.9,461.6 L261.4,462.7 L261.9,464.3 L262.4,466.3 L262.9,467.7 L263.4,465.7 L263.9,464.1 L264.4,461.5 L264.9,460.2 L265.4,460.9 L265.9,461.2 L266.4,461.3 L266.9,463.0 L267.4,464.1 L267.9,464.0 L268.4,464.5 L268.9,465.3 L269.4,466.4 L269.9,467.0 L270.4,467.4 L270.9,467.7 L271.4,468.4 L271.9,469.7 L272.4,470.8 L272.9,471.7 L273.4,472.6 L273.9,473.3 L274.4,473.9 L274.9,473.7 L275.4,473.7 L275.9,474.0 L276.4,475.5 L276.9,477.0 L277.4,476.2 L277.9,475.8 L278.4,475.6 L278.9,476.4 L279.4,476.7 L279.9,476.2 L280.4,476.6 L280.9,477.0 L281.4,476.6 L281.9,476.6 L282.4,477.0 L282.9,475.7 L283.4,475.4 L283.9,476.7 L284.4,476.4 L284.9,475.9 L285.4,476.1 L285.9,475.8 L286.4,475.2 L286.9,475.0 L287.4,475.0 L287.9,475.1 L288.4,474.9 L288.9,475.0 L289.4,476.2 L289.9,475.9 L290.4,474.5 L290.9,474.7 L291.4,475.0 L291.9,475.6 L292.4,475.2 L292.9,474.6 L293.4,474.6 L293.9,474.6 L294.4,474.7 L294.9,474.6 L295.4,474.4 L295.9,474.0 L296.4,474.9 L296.9,475.8 L297.4,475.6 L297.9,475.1 L298.4,474.3 L298.9,475.0 L299.4,475.1 L299.9,474.3 L300.4,473.5 L300.9,473.1 L301.4,474.0 L301.9,473.6 L302.4,472.1 L302.9,472.8 L303.4,473.1 L303.9,473.0 L304.4,471.7 L304.9,470.7 L305.4,471.9 L305.9,471.9 L306.4,471.0 L306.9,470.9 L307.4,471.1 L307.9,471.6 L308.4,470.9 L308.9,470.0 L309.4,469.5 L309.9,469.0 L310.4,468.5 L310.9,469.6 L311.4,469.6 L311.9,468.5 L312.4,468.2 L312.9,468.0 L313.4,467.4 L313.9,467.4 L314.4,468.1 L314.9,468.1 L315.4,468.1 L315.9,468.2 L316.4,467.8 L316.9,467.4 L317.4,468.2 L317.9,468.0 L318.4,467.1 L318.9,466.9 L319.4,467.1 L319.9,468.1 L320.4,467.5 L320.9,467.1 L321.4,468.8 L321.9,468.8 L322.4,467.9 L322.9,468.1 L323.4,468.2 L323.9,468.1 L324.4,468.0 L324.9,467.9 L325.4,468.1 L325.9,468.3 L326.4,468.6 L326.9,467.1 L327.4,469.0 L327.9,471.9 L328.4,474.3 L328.9,475.8 L329.4,476.9 L329.9,476.9 L330.4,476.0 L330.9,476.0 L331.4,476.3 L331.9,477.0 L332.4,476.4 L332.9,475.7 L333.4,475.7 L333.9,475.7 L334.4,475.6 L334.9,475.4 L335.4,475.5 L335.9,476.2 L336.4,475.8 L336.9,475.3 L337.4,475.6 L337.9,475.8 L338.4,475.9 L338.9,476.2 L339.4,476.3 L339.9,476.2 L340.4,475.9 L340.9,475.6 L341.4,476.4 L341.9,476.7 L342.4,476.6 L342.9,476.6 L343.4,476.4 L343.9,476.0 L344.4,475.6 L344.9,475.2 L345.4,475.0 L345.9,476.2 L346.4,479.1 L346.9,479.3 L347.4,479.2 L347.9,479.7 L348.4,479.4 L348.9,479.0 L349.4,479.1 L349.9,478.8 L350.4,478.3 L350.9,479.5 L351.4,480.0 L351.9,479.4 L352.4,479.6 L352.9,480.0 L353.4,480.1 L353.9,479.7 L354.4,479.1 L354.9,478.6 L355.4,477.7 L355.9,476.6 L356.4,476.0 L356.9,475.9 L357.4,477.2 L357.9,477.1 L358.4,475.9 L358.9,476.7 L359.4,477.6 L359.9,478.7 L360.4,479.0 L360.9,479.0 L361.4,478.9 L361.9,479.1 L362.4,479.5 L362.9,478.4 L363.4,477.6 L363.9,477.3 L364.4,477.5 L364.9,478.0 L365.4,479.0 L365.9,478.5 L366.4,477.1 L366.9,477.5 L367.4,477.8 L367.9,478.1 L368.4,477.7 L368.9,477.5 L369.4,478.6 L369.9,478.2 L370.4,476.9 L370.9,476.8 L371.4,477.4 L371.9,478.8 L372.4,477.8 L372.9,476.5 L373.4,475.7 L373.9,474.5 L374.4,473.3 L374.9,472.5 L375.4,471.1 L375.9,469.0 L376.4,469.3 L376.9,469.8 L377.4,470.3 L377.9,470.4 L378.4,470.2 L378.9,470.7 L379.4,470.5 L379.9,469.6 L380.4,470.5 L380.9,471.5 L381.4,471.2 L381.9,472.1 L382.4,474.0 L382.9,473.1 L383.4,472.9 L383.9,473.5 L384.4,474.4 L384.9,474.9 L385.4,475.3 L385.9,474.9 L386.4,474.0 L386.9,475.1 L387.4,475.4 L387.9,474.6 L388.4,474.7 L388.9,475.0 L389.4,474.6 L389.9,475.2 L390.4,476.3 L390.9,476.6 L391.4,476.7 L391.9,476.7 L392.4,476.1 L392.9,475.6 L393.4,475.5 L393.9,476.2 L394.4,477.5 L394.9,477.3 L395.4,477.3 L395.9,477.6 L396.4,477.0 L396.9,476.5 L397.4,477.3 L397.9,477.5 L398.4,477.2 L398.9,477.5 L399.4,477.5 L399.9,476.9 L400.4,477.0 L400.9,477.0 L401.4,476.4 L401.9,475.8 L402.4,475.3 L402.9,475.5 L403.4,475.2 L403.9,474.3 L404.4,474.8 L404.9,475.4 L405.4,474.7 L405.9,474.3 L406.4,473.9 L406.9,474.8 L407.4,475.1 L407.9,474.6 L408.4,474.1 L408.9,474.0 L409.4,474.8 L409.9,475.2 L410.4,475.1 L410.9,474.1 L411.4,473.6 L411.9,473.7 L412.4,473.0 L412.9,472.3 L413.4,472.7 L413.9,473.5 L414.4,474.4 L414.9,473.8 L415.4,473.9 L415.9,474.8 L416.4,473.9 L416.9,472.9 L417.4,473.0 L417.9,473.3 L418.4,473.5 L418.9,473.8 L419.4,474.4 L419.9,475.7 L420.4,476.4 L420.9,476.8 L421.4,476.7 L421.9,476.5 L422.4,476.2 L422.9,475.7 L423.4,475.3 L423.9,475.1 L424.4,474.6 L424.9,474.2 L425.4,474.4 L425.9,474.1 L426.4,473.5 L426.9,474.5 L427.4,474.8 L427.9,474.3 L428.4,474.1 L428.9,474.1 L429.4,474.9 L429.9,474.7 L430.4,473.9 L430.9,474.9 L431.4,475.4 L431.9,475.2 L432.4,475.1 L432.9,475.0 L433.4,475.0 L433.9,475.1 L434.4,475.2 L434.9,475.7 L435.4,476.1 L435.9,476.3 L436.4,476.7 L436.9,477.7 L437.4,479.9 L437.9,480.9 L438.4,480.0 L438.5,489.3 L438.5,489.3 Z" fill="#4b5a4e" />
<path d="M81.9,489.3 L81.9,489.2 L82.4,488.7 L82.9,488.3 L83.4,487.8 L83.9,487.4 L84.4,486.9 L84.9,486.5 L85.4,486.0 L85.9,485.6 L86.4,485.1 L86.9,484.7 L87.4,484.2 L87.9,483.8 L88.4,483.3 L88.9,482.9 L89.4,482.4 L89.9,482.0 L90.4,481.5 L90.9,481.1 L91.4,479.5 L91.9,473.8 L92.4,469.7 L92.9,468.2 L93.4,466.8 L93.9,465.3 L94.4,464.2 L94.9,463.4 L95.4,462.6 L95.9,461.8 L96.4,461.0 L96.9,460.2 L97.4,459.4 L97.9,458.6 L98.4,457.7 L98.9,457.0 L99.4,456.2 L99.9,455.5 L100.4,454.7 L100.9,454.0 L101.4,453.3 L101.9,452.5 L102.4,451.8 L102.9,448.5 L103.4,443.6 L103.9,438.6 L104.4,433.7 L104.9,433.5 L105.4,434.4 L105.9,435.6 L106.4,437.1 L106.9,437.5 L107.4,438.0 L107.9,439.2 L108.4,440.2 L108.9,441.0 L109.4,441.3 L109.9,442.0 L110.4,442.9 L110.9,443.6 L111.4,444.7 L111.9,446.4 L112.4,446.7 L112.9,446.9 L113.4,448.5 L113.9,449.2 L114.4,449.2 L114.9,450.5 L115.4,450.9 L115.9,450.8 L116.4,450.3 L116.9,450.0 L117.4,450.8 L117.9,450.8 L118.4,450.2 L118.9,450.0 L119.4,449.4 L119.9,447.2 L120.4,445.7 L120.9,444.3 L121.4,442.3 L121.9,440.7 L122.4,439.2 L122.9,440.0 L123.4,440.5 L123.9,440.5 L124.4,439.5 L124.9,438.7 L125.4,439.7 L125.9,440.5 L126.4,440.9 L126.9,440.4 L127.4,439.8 L127.9,439.1 L128.4,440.0 L128.9,440.9 L129.4,440.3 L129.9,440.6 L130.4,441.6 L130.9,441.5 L131.4,441.4 L131.9,441.4 L132.4,441.6 L132.9,441.5 L133.4,440.1 L133.9,440.4 L134.4,441.6 L134.9,440.9 L135.4,440.3 L135.9,440.1 L136.4,440.5 L136.9,440.7 L137.4,440.8 L137.9,440.1 L138.4,438.9 L138.9,439.4 L139.4,439.8 L139.9,440.1 L140.4,439.9 L140.9,441.0 L141.4,442.4 L141.9,443.6 L142.4,444.6 L142.9,447.1 L143.4,448.7 L143.9,448.9 L144.4,448.4 L144.9,447.5 L145.4,446.1 L145.9,444.0 L146.4,441.6 L146.9,441.8 L147.4,440.8 L147.9,438.2 L148.4,437.5 L148.9,437.3 L149.4,436.2 L149.9,435.1 L150.4,434.1 L150.9,433.0 L151.4,431.7 L151.9,430.0 L152.4,428.9 L152.9,426.4 L153.4,423.4 L153.9,421.1 L154.4,419.2 L154.9,414.8 L155.4,411.9 L155.9,412.7 L156.4,414.4 L156.9,416.0 L157.4,416.4 L157.9,416.8 L158.4,417.3 L158.9,418.3 L159.4,418.2 L159.9,417.0 L160.4,416.8 L160.9,416.5 L161.4,415.4 L161.9,415.1 L162.4,415.3 L162.9,413.5 L163.4,412.4 L163.9,413.2 L164.4,416.2 L164.9,419.1 L165.4,422.2 L165.9,424.8 L166.4,427.2 L166.9,430.7 L167.4,434.2 L167.9,437.7 L168.4,440.1 L168.9,441.1 L169.4,442.2 L169.9,443.4 L170.4,444.6 L170.9,445.9 L171.4,446.4 L171.9,445.7 L172.4,445.4 L172.9,445.3 L173.4,445.4 L173.9,445.0 L174.4,444.3 L174.9,444.4 L175.4,444.5 L175.9,444.4 L176.4,444.4 L176.9,444.6 L177.4,445.5 L177.9,445.2 L178.4,444.6 L178.9,444.8 L179.4,445.6 L179.9,447.2 L180.4,447.5 L180.9,447.3 L181.4,446.8 L181.9,447.5 L182.4,449.0 L182.9,449.5 L183.4,449.9 L183.9,450.4 L184.4,451.0 L184.9,451.5 L185.4,451.4 L185.9,450.7 L186.4,449.9 L186.9,450.2 L187.4,450.1 L187.9,449.4 L188.4,448.9 L188.9,448.4 L189.4,446.9 L189.9,446.0 L190.4,445.6 L190.9,445.4 L191.4,444.8 L191.9,443.5 L192.4,443.0 L192.9,442.5 L193.4,441.5 L193.9,441.0 L194.4,440.7 L194.9,439.3 L195.4,438.2 L195.9,437.7 L196.4,437.4 L196.9,437.0 L197.4,435.3 L197.9,434.1 L198.4,433.1 L198.9,433.1 L199.4,432.5 L199.9,430.9 L200.4,430.9 L200.9,430.8 L201.4,428.8 L201.9,428.1 L202.4,428.1 L202.9,426.5 L203.4,424.9 L203.9,426.0 L204.4,428.0 L204.9,430.2 L205.4,432.1 L205.9,433.7 L206.4,435.0 L206.9,436.9 L207.4,437.7 L207.9,437.5 L208.4,438.4 L208.9,439.1 L209.4,438.0 L209.9,438.3 L210.4,439.5 L210.9,438.5 L211.4,438.2 L211.9,439.2 L212.4,439.1 L212.9,438.9 L213.4,439.4 L213.9,440.2 L214.4,441.3 L214.9,442.1 L215.4,442.4 L215.9,441.7 L216.4,447.5 L216.9,455.0 L217.4,457.9 L217.9,458.0 L218.4,458.1 L218.9,457.6 L219.4,457.2 L219.9,457.1 L220.4,457.7 L220.9,458.1 L221.4,457.6 L221.9,457.1 L222.4,456.6 L222.9,457.3 L223.4,457.7 L223.9,457.9 L224.4,457.2 L224.9,456.2 L225.4,455.4 L225.9,455.3 L226.4,455.7 L226.9,456.5 L227.4,456.5 L227.9,455.3 L228.4,455.0 L228.9,455.1 L229.4,455.9 L229.9,455.6 L230.4,454.4 L230.9,455.1 L231.4,454.4 L231.9,452.3 L232.4,451.3 L232.9,450.6 L233.4,449.9 L233.9,449.5 L234.4,448.8 L234.9,450.0 L235.4,450.5 L235.9,450.1 L236.4,450.5 L236.9,451.1 L237.4,451.2 L237.9,450.6 L238.4,449.6 L238.9,450.9 L239.4,451.8 L239.9,451.9 L240.4,451.2 L240.9,450.7 L241.4,451.4 L241.9,451.3 L242.4,451.0 L242.9,451.8 L243.4,452.5 L243.9,453.1 L244.4,453.0 L244.9,452.9 L245.4,453.4 L245.9,453.4 L246.4,453.0 L246.9,454.5 L247.4,455.3 L247.9,455.2 L248.4,455.7 L248.9,456.0 L249.4,455.0 L249.9,455.5 L250.4,456.8 L250.9,455.7 L251.4,455.2 L251.9,455.9 L252.4,455.5 L252.9,455.2 L253.4,456.2 L253.9,455.8 L254.4,454.4 L254.9,454.9 L255.4,455.4 L255.9,455.7 L256.4,455.8 L256.9,455.9 L257.4,455.6 L257.9,456.3 L258.4,457.6 L258.9,458.3 L259.4,458.5 L259.9,457.8 L260.4,460.0 L260.9,462.5 L261.4,463.6 L261.9,465.3 L262.4,467.2 L262.9,468.6 L263.4,466.7 L263.9,465.0 L264.4,462.5 L264.9,461.1 L265.4,461.8 L265.9,462.2 L266.4,462.2 L266.9,463.9 L267.4,465.0 L267.9,464.9 L268.4,465.4 L268.9,466.2 L269.4,467.3 L269.9,467.9 L270.4,468.3 L270.9,468.6 L271.4,469.4 L271.9,470.6 L272.4,471.7 L272.9,472.6 L273.4,473.5 L273.9,474.2 L274.4,474.8 L274.9,474.6 L275.4,474.6 L275.9,474.9 L276.4,476.4 L276.9,477.9 L277.4,477.1 L277.9,476.7 L278.4,476.5 L278.9,477.3 L279.4,477.6 L279.9,477.1 L280.4,477.5 L280.9,477.9 L281.4,477.5 L281.9,477.5 L282.4,477.9 L282.9,476.6 L283.4,476.3 L283.9,477.6 L284.4,477.3 L284.9,476.8 L285.4,477.0 L285.9,476.7 L286.4,476.0 L286.9,475.9 L287.4,475.9 L287.9,475.9 L288.4,475.8 L288.9,475.8 L289.4,477.1 L289.9,476.8 L290.4,475.4 L290.9,475.5 L291.4,475.9 L291.9,476.5 L292.4,476.0 L292.9,475.5 L293.4,475.5 L293.9,475.5 L294.4,475.5 L294.9,475.5 L295.4,475.3 L295.9,474.9 L296.4,475.7 L296.9,476.6 L297.4,476.5 L297.9,476.0 L298.4,475.2 L298.9,475.9 L299.4,476.0 L299.9,475.2 L300.4,474.4 L300.9,473.9 L301.4,474.9 L301.9,474.4 L302.4,472.9 L302.9,473.6 L303.4,474.0 L303.9,473.8 L304.4,472.5 L304.9,471.6 L305.4,472.7 L305.9,472.7 L306.4,471.8 L306.9,471.7 L307.4,471.9 L307.9,472.4 L308.4,471.7 L308.9,470.8 L309.4,470.3 L309.9,469.8 L310.4,469.3 L310.9,470.4 L311.4,470.4 L311.9,469.3 L312.4,469.0 L312.9,468.8 L313.4,468.2 L313.9,468.2 L314.4,468.9 L314.9,468.9 L315.4,468.9 L315.9,469.0 L316.4,468.6 L316.9,468.2 L317.4,469.0 L317.9,468.8 L318.4,467.9 L318.9,467.7 L319.4,467.9 L319.9,468.8 L320.4,468.3 L320.9,467.9 L321.4,469.5 L321.9,469.6 L322.4,468.6 L322.9,468.9 L323.4,469.0 L323.9,468.9 L324.4,468.8 L324.9,468.7 L325.4,468.9 L325.9,469.1 L326.4,469.4 L326.9,467.9 L327.4,469.7 L327.9,472.7 L328.4,475.0 L328.9,476.6 L329.4,477.7 L329.9,477.6 L330.4,476.7 L330.9,476.7 L331.4,477.0 L331.9,477.8 L332.4,477.2 L332.9,476.5 L333.4,476.4 L333.9,476.4 L334.4,476.4 L334.9,476.1 L335.4,476.2 L335.9,477.0 L336.4,476.5 L336.9,476.0 L337.4,476.4 L337.9,476.5 L338.4,476.6 L338.9,476.9 L339.4,477.0 L339.9,477.0 L340.4,476.6 L340.9,476.4 L341.4,477.1 L341.9,477.4 L342.4,477.4 L342.9,477.3 L343.4,477.1 L343.9,476.7 L344.4,476.3 L344.9,475.9 L345.4,475.7 L345.9,476.9 L346.4,479.8 L346.9,480.1 L347.4,479.9 L347.9,480.5 L348.4,480.1 L348.9,479.7 L349.4,479.8 L349.9,479.5 L350.4,479.0 L350.9,480.3 L351.4,480.7 L351.9,480.1 L352.4,480.3 L352.9,480.7 L353.4,480.8 L353.9,480.4 L354.4,479.8 L354.9,479.3 L355.4,478.5 L355.9,477.3 L356.4,476.7 L356.9,476.6 L357.4,477.9 L357.9,477.8 L358.4,476.6 L358.9,477.4 L359.4,478.3 L359.9,479.4 L360.4,479.7 L360.9,479.7 L361.4,479.6 L361.9,479.8 L362.4,480.2 L362.9,479.0 L363.4,478.2 L363.9,478.0 L364.4,478.2 L364.9,478.7 L365.4,479.7 L365.9,479.2 L366.4,477.7 L366.9,478.2 L367.4,478.5 L367.9,478.8 L368.4,478.4 L368.9,478.2 L369.4,479.2 L369.9,478.9 L370.4,477.6 L370.9,477.5 L371.4,478.0 L371.9,479.5 L372.4,478.5 L372.9,477.2 L373.4,476.3 L373.9,475.1 L374.4,473.9 L374.9,473.2 L375.4,471.7 L375.9,469.7 L376.4,469.9 L376.9,470.4 L377.4,471.0 L377.9,471.1 L378.4,470.9 L378.9,471.4 L379.4,471.2 L379.9,470.2 L380.4,471.1 L380.9,472.1 L381.4,471.8 L381.9,472.8 L382.4,474.6 L382.9,473.8 L383.4,473.5 L383.9,474.1 L384.4,475.0 L384.9,475.6 L385.4,475.9 L385.9,475.5 L386.4,474.6 L386.9,475.7 L387.4,476.0 L387.9,475.2 L388.4,475.4 L388.9,475.6 L389.4,475.2 L389.9,475.8 L390.4,477.0 L390.9,477.2 L391.4,477.3 L391.9,477.3 L392.4,476.7 L392.9,476.2 L393.4,476.1 L393.9,476.9 L394.4,478.1 L394.9,477.9 L395.4,477.9 L395.9,478.2 L396.4,477.6 L396.9,477.1 L397.4,477.9 L397.9,478.1 L398.4,477.8 L398.9,478.1 L399.4,478.1 L399.9,477.5 L400.4,477.5 L400.9,477.6 L401.4,477.0 L401.9,476.4 L402.4,475.9 L402.9,476.1 L403.4,475.8 L403.9,474.9 L404.4,475.4 L404.9,476.0 L405.4,475.3 L405.9,474.8 L406.4,474.5 L406.9,475.4 L407.4,475.7 L407.9,475.2 L408.4,474.7 L408.9,474.5 L409.4,475.4 L409.9,475.7 L410.4,475.6 L410.9,474.7 L411.4,474.2 L411.9,474.3 L412.4,473.5 L412.9,472.8 L413.4,473.3 L413.9,474.0 L414.4,475.0 L414.9,474.4 L415.4,474.4 L415.9,475.4 L416.4,474.5 L416.9,473.4 L417.4,473.6 L417.9,473.8 L418.4,474.1 L418.9,474.3 L419.4,474.9 L419.9,476.2 L420.4,477.0 L420.9,477.4 L421.4,477.2 L421.9,477.1 L422.4,476.7 L422.9,476.2 L423.4,475.8 L423.9,475.6 L424.4,475.1 L424.9,474.7 L425.4,474.9 L425.9,474.7 L426.4,474.0 L426.9,475.0 L427.4,475.3 L427.9,474.8 L428.4,474.6 L428.9,474.6 L429.4,475.4 L429.9,475.2 L430.4,474.4 L430.9,475.4 L431.4,475.9 L431.9,475.7 L432.4,475.6 L432.9,475.5 L433.4,475.6 L433.9,475.6 L434.4,475.7 L434.9,476.2 L435.4,476.6 L435.9,476.8 L436.4,477.2 L436.9,478.2 L437.4,480.4 L437.9,481.4 L438.4,480.5 L438.5,489.3 L438.5,489.3 Z" fill="#000000" />
<path d="M91.2,489.3 L91.2,489.2 L91.7,483.2 L92.2,476.0 L92.7,473.8 L93.2,471.5 L93.7,469.3 L94.2,467.4 L94.7,466.8 L95.2,466.2 L95.7,465.6 L96.2,465.0 L96.7,464.4 L97.2,463.8 L97.7,463.2 L98.2,462.6 L98.7,462.0 L99.2,461.5 L99.7,461.0 L100.2,460.5 L100.7,459.9 L101.2,459.4 L101.7,458.9 L102.2,458.4 L102.7,457.8 L103.2,456.9 L103.7,456.0 L104.2,454.0 L104.7,450.3 L105.2,446.8 L105.7,446.0 L106.2,445.3 L106.7,444.9 L107.2,445.4 L107.7,446.0 L108.2,446.8 L108.7,447.7 L109.2,449.0 L109.7,450.6 L110.2,451.4 L110.7,452.0 L111.2,451.9 L111.7,452.3 L112.2,454.1 L112.7,455.6 L113.2,456.4 L113.7,457.2 L114.2,458.1 L114.7,459.7 L115.2,461.5 L115.7,461.7 L116.2,461.3 L116.7,461.4 L117.2,461.6 L117.7,461.8 L118.2,461.6 L118.7,461.4 L119.2,460.7 L119.7,459.4 L120.2,457.5 L120.7,455.8 L121.2,454.5 L121.7,452.8 L122.2,450.3 L122.7,449.7 L123.2,450.3 L123.7,449.7 L124.2,448.9 L124.7,450.0 L125.2,450.7 L125.7,450.0 L126.2,449.9 L126.7,450.6 L127.2,451.1 L127.7,451.3 L128.2,451.2 L128.7,450.9 L129.2,450.8 L129.7,450.8 L130.2,450.7 L130.7,450.8 L131.2,451.1 L131.7,450.9 L132.2,450.4 L132.7,450.2 L133.2,450.0 L133.7,450.4 L134.2,450.7 L134.7,450.7 L135.2,450.4 L135.7,450.0 L136.2,450.1 L136.7,450.5 L137.2,450.4 L137.7,450.2 L138.2,449.7 L138.7,449.4 L139.2,449.9 L139.7,450.2 L140.2,450.2 L140.7,451.6 L141.2,453.3 L141.7,455.9 L142.2,458.8 L142.7,461.1 L143.2,462.9 L143.7,462.3 L144.2,461.7 L144.7,461.3 L145.2,460.8 L145.7,460.5 L146.2,458.8 L146.7,456.3 L147.2,454.1 L147.7,452.1 L148.2,450.6 L148.7,448.3 L149.2,446.2 L149.7,445.4 L150.2,445.4 L150.7,444.5 L151.2,443.2 L151.7,442.3 L152.2,441.2 L152.7,439.1 L153.2,437.0 L153.7,435.8 L154.2,433.9 L154.7,431.5 L155.2,430.0 L155.7,430.3 L156.2,430.6 L156.7,430.8 L157.2,430.8 L157.7,430.8 L158.2,430.7 L158.7,431.0 L159.2,431.5 L159.7,430.4 L160.2,429.1 L160.7,428.5 L161.2,428.1 L161.7,428.5 L162.2,428.1 L162.7,426.6 L163.2,426.0 L163.7,425.9 L164.2,427.3 L164.7,429.1 L165.2,431.3 L165.7,433.4 L166.2,435.5 L166.7,437.9 L167.2,440.8 L167.7,443.5 L168.2,446.1 L168.7,448.4 L169.2,450.1 L169.7,451.8 L170.2,453.5 L170.7,454.2 L171.2,454.3 L171.7,454.4 L172.2,454.4 L172.7,454.2 L173.2,454.1 L173.7,454.1 L174.2,454.7 L174.7,455.2 L175.2,455.3 L175.7,455.0 L176.2,454.1 L176.7,454.3 L177.2,455.1 L177.7,454.4 L178.2,453.5 L178.7,454.3 L179.2,455.2 L179.7,456.4 L180.2,456.9 L180.7,456.4 L181.2,456.9 L181.7,457.9 L182.2,458.8 L182.7,459.7 L183.2,459.9 L183.7,460.2 L184.2,460.7 L184.7,461.1 L185.2,461.3 L185.7,461.5 L186.2,461.4 L186.7,460.9 L187.2,460.4 L187.7,460.1 L188.2,459.8 L188.7,458.7 L189.2,458.0 L189.7,457.7 L190.2,456.9 L190.7,455.7 L191.2,455.1 L191.7,454.6 L192.2,454.0 L192.7,453.3 L193.2,451.8 L193.7,451.0 L194.2,451.2 L194.7,450.5 L195.2,449.3 L195.7,448.6 L196.2,448.0 L196.7,448.0 L197.2,447.8 L197.7,446.8 L198.2,445.8 L198.7,445.2 L199.2,444.4 L199.7,443.4 L200.2,442.7 L200.7,442.2 L201.2,442.4 L201.7,442.4 L202.2,441.6 L202.7,441.0 L203.2,440.7 L203.7,441.3 L204.2,442.5 L204.7,443.6 L205.2,444.7 L205.7,445.4 L206.2,446.4 L206.7,448.2 L207.2,449.3 L207.7,448.9 L208.2,448.6 L208.7,448.4 L209.2,449.1 L209.7,450.0 L210.2,450.1 L210.7,450.1 L211.2,449.2 L211.7,449.1 L212.2,450.1 L212.7,450.3 L213.2,450.1 L213.7,449.6 L214.2,449.1 L214.7,449.5 L215.2,449.9 L215.7,450.3 L216.2,453.4 L216.7,460.6 L217.2,467.1 L217.7,467.6 L218.2,467.3 L218.7,466.7 L219.2,466.5 L219.7,466.5 L220.2,467.4 L220.7,468.0 L221.2,468.0 L221.7,467.7 L222.2,467.2 L222.7,467.1 L223.2,467.2 L223.7,466.7 L224.2,466.2 L224.7,466.2 L225.2,466.3 L225.7,466.4 L226.2,466.6 L226.7,466.8 L227.2,466.6 L227.7,466.4 L228.2,466.1 L228.7,465.8 L229.2,466.0 L229.7,465.9 L230.2,465.6 L230.7,465.7 L231.2,465.3 L231.7,464.7 L232.2,463.9 L232.7,462.9 L233.2,461.9 L233.7,460.9 L234.2,460.6 L234.7,460.8 L235.2,461.3 L235.7,462.1 L236.2,461.7 L236.7,461.0 L237.2,461.4 L237.7,461.6 L238.2,461.0 L238.7,460.6 L239.2,460.7 L239.7,460.9 L240.2,461.1 L240.7,461.6 L241.2,462.2 L241.7,461.7 L242.2,461.5 L242.7,462.2 L243.2,462.5 L243.7,462.0 L244.2,462.4 L244.7,463.4 L245.2,463.7 L245.7,464.0 L246.2,463.7 L246.7,463.4 L247.2,463.6 L247.7,463.8 L248.2,464.1 L248.7,464.5 L249.2,465.0 L249.7,465.0 L250.2,464.8 L250.7,464.8 L251.2,464.8 L251.7,465.3 L252.2,465.6 L252.7,465.6 L253.2,464.9 L253.7,463.7 L254.2,463.7 L254.7,463.9 L255.2,464.0 L255.7,464.5 L256.2,465.1 L256.7,465.4 L257.2,465.3 L257.7,465.3 L258.2,465.6 L258.7,466.1 L259.2,466.7 L259.7,467.0 L260.2,467.9 L260.7,469.5 L261.2,471.1 L261.7,472.6 L262.2,474.4 L262.7,476.3 L263.2,472.2 L263.7,466.5 L264.2,467.1 L264.7,468.4 L265.2,468.5 L265.7,468.9 L266.2,469.8 L266.7,470.7 L267.2,471.5 L267.7,472.2 L268.2,472.7 L268.7,473.1 L269.2,473.5 L269.7,473.9 L270.2,474.1 L270.7,474.1 L271.2,474.3 L271.7,474.7 L272.2,475.3 L272.7,476.0 L273.2,476.7 L273.7,477.3 L274.2,477.1 L274.7,477.0 L275.2,477.0 L275.7,478.0 L276.2,479.5 L276.7,480.2 L277.2,480.5 L277.7,480.5 L278.2,480.3 L278.7,480.1 L279.2,479.8 L279.7,479.5 L280.2,479.1 L280.7,478.7 L281.2,479.4 L281.7,480.4 L282.2,479.8 L282.7,479.2 L283.2,478.8 L283.7,478.8 L284.2,479.4 L284.7,479.2 L285.2,478.5 L285.7,478.7 L286.2,479.1 L286.7,479.3 L287.2,479.5 L287.7,479.8 L288.2,479.7 L288.7,479.1 L289.2,478.7 L289.7,478.5 L290.2,478.6 L290.7,478.8 L291.2,479.3 L291.7,479.6 L292.2,478.7 L292.7,478.1 L293.2,478.2 L293.7,478.3 L294.2,478.6 L294.7,479.2 L295.2,479.9 L295.7,479.8 L296.2,479.7 L296.7,479.8 L297.2,479.4 L297.7,478.3 L298.2,477.8 L298.7,478.0 L299.2,477.4 L299.7,476.7 L300.2,476.9 L300.7,477.0 L301.2,476.9 L301.7,476.6 L302.2,475.9 L302.7,475.5 L303.2,475.4 L303.7,475.3 L304.2,475.1 L304.7,474.7 L305.2,474.3 L305.7,473.9 L306.2,473.6 L306.7,473.2 L307.2,473.3 L307.7,473.7 L308.2,473.9 L308.7,474.0 L309.2,473.8 L309.7,473.6 L310.2,473.4 L310.7,473.1 L311.2,472.6 L311.7,472.0 L312.2,471.2 L312.7,470.6 L313.2,469.9 L313.7,468.9 L314.2,468.8 L314.7,469.7 L315.2,470.0 L315.7,469.4 L316.2,469.7 L316.7,470.7 L317.2,470.9 L317.7,470.9 L318.2,470.3 L318.7,470.0 L319.2,470.9 L319.7,471.3 L320.2,471.2 L320.7,471.3 L321.2,471.5 L321.7,470.9 L322.2,470.1 L322.7,470.4 L323.2,470.6 L323.7,470.6 L324.2,470.9 L324.7,471.6 L325.2,471.3 L325.7,470.3 L326.2,470.2 L326.7,470.2 L327.2,473.4 L327.7,478.3 L328.2,482.6 L328.7,482.5 L329.2,482.8 L329.7,482.9 L330.2,482.9 L330.7,482.7 L331.2,482.4 L331.7,483.1 L332.2,483.6 L332.7,483.3 L333.2,483.2 L333.7,483.3 L334.2,483.3 L334.7,483.3 L335.2,483.2 L335.7,483.1 L336.2,482.6 L336.7,482.3 L337.2,483.2 L337.7,483.8 L338.2,483.9 L338.7,483.3 L339.2,482.3 L339.7,482.3 L340.2,482.7 L340.7,482.5 L341.2,482.3 L341.7,482.2 L342.2,482.4 L342.7,483.0 L343.2,483.1 L343.7,483.0 L344.2,482.6 L344.7,482.3 L345.2,482.7 L345.7,483.1 L346.2,483.3 L346.7,483.1 L347.2,482.4 L347.7,482.5 L348.2,483.1 L348.7,483.2 L349.2,483.2 L349.7,483.4 L350.2,483.5 L350.7,483.7 L351.2,483.8 L351.7,483.6 L352.2,483.1 L352.7,482.5 L353.2,482.0 L353.7,481.3 L354.2,481.2 L354.7,481.1 L355.2,480.5 L355.7,480.3 L356.2,481.0 L356.7,481.3 L357.2,480.9 L357.7,481.3 L358.2,481.8 L358.7,482.2 L359.2,482.6 L359.7,482.5 L360.2,482.8 L360.7,483.7 L361.2,484.0 L361.7,483.8 L362.2,483.6 L362.7,483.5 L363.2,483.0 L363.7,482.5 L364.2,482.6 L364.7,482.8 L365.2,483.3 L365.7,483.3 L366.2,482.9 L366.7,483.0 L367.2,483.1 L367.7,483.4 L368.2,483.6 L368.7,483.3 L369.2,483.2 L369.7,483.4 L370.2,483.0 L370.7,482.4 L371.2,482.0 L371.7,481.6 L372.2,481.8 L372.7,482.1 L373.2,482.2 L373.7,480.9 L374.2,478.6 L374.7,476.6 L375.2,475.0 L375.7,473.4 L376.2,473.1 L376.7,474.4 L377.2,475.2 L377.7,474.4 L378.2,473.9 L378.7,473.8 L379.2,474.1 L379.7,474.6 L380.2,474.9 L380.7,475.0 L381.2,476.3 L381.7,477.5 L382.2,477.9 L382.7,478.3 L383.2,478.5 L383.7,479.1 L384.2,479.9 L384.7,479.5 L385.2,478.7 L385.7,479.7 L386.2,480.5 L386.7,480.3 L387.2,480.3 L387.7,480.5 L388.2,480.2 L388.7,479.5 L389.2,480.2 L389.7,481.3 L390.2,481.4 L390.7,481.4 L391.2,480.8 L391.7,480.4 L392.2,480.3 L392.7,480.4 L393.2,480.7 L393.7,481.0 L394.2,481.3 L394.7,481.1 L395.2,480.9 L395.7,481.1 L396.2,481.4 L396.7,482.0 L397.2,482.0 L397.7,481.8 L398.2,481.5 L398.7,481.2 L399.2,481.9 L399.7,482.3 L400.2,482.0 L400.7,481.3 L401.2,480.2 L401.7,480.0 L402.2,480.4 L402.7,480.2 L403.2,479.8 L403.7,479.6 L404.2,479.5 L404.7,479.4 L405.2,479.5 L405.7,480.0 L406.2,480.0 L406.7,479.7 L407.2,479.2 L407.7,478.7 L408.2,478.4 L408.7,478.2 L409.2,478.2 L409.7,478.3 L410.2,478.5 L410.7,478.7 L411.2,478.8 L411.7,478.7 L412.2,478.6 L412.7,478.4 L413.2,478.3 L413.7,478.4 L414.2,478.3 L414.7,478.1 L415.2,478.6 L415.7,479.5 L416.2,479.1 L416.7,478.3 L417.2,478.7 L417.7,479.0 L418.2,479.5 L418.7,480.0 L419.2,480.3 L419.7,480.3 L420.2,479.9 L420.7,480.1 L421.2,480.6 L421.7,480.2 L422.2,479.8 L422.7,479.4 L423.2,479.5 L423.7,480.5 L424.2,480.2 L424.7,478.9 L425.2,479.2 L425.7,479.9 L426.2,478.8 L426.7,478.0 L427.2,478.2 L427.7,478.4 L428.2,478.7 L428.7,479.1 L429.2,479.7 L429.7,479.7 L430.2,479.6 L430.7,479.1 L431.2,478.6 L431.7,478.3 L432.2,478.5 L432.7,479.4 L433.2,479.8 L433.7,479.9 L434.2,480.1 L434.7,480.4 L435.2,479.5 L435.7,478.9 L436.2,479.8 L436.7,481.4 L437.2,482.6 L437.7,484.0 L438.2,485.1 L438.5,489.3 L438.5,489.3 Z" fill="#4a8fe7" />
<circle cx="239.6" cy="400.5" r="14.2" fill="#000" opacity="0.035"/>
<text x="267.9" y="411.0" font-family="Liberation Sans, sans-serif" font-size="30.7" fill="#000" stroke="#000" stroke-width="0.90" stroke-linejoin="round" opacity="0.072" letter-spacing="0.00">Dune</text>
<rect x="572.2" y="300.3" width="356.8" height="189.0" fill="#676abb"/>
<path d="M572.2,489.3 L572.2,300.3 L572.7,300.3 L573.2,300.3 L573.7,300.3 L574.2,300.3 L574.7,300.3 L575.2,300.3 L575.7,300.3 L576.2,300.3 L576.7,300.3 L577.2,300.3 L577.7,300.3 L578.2,300.3 L578.7,300.3 L579.2,300.3 L579.7,300.3 L580.2,300.3 L580.7,300.3 L581.2,300.3 L581.7,300.3 L582.2,300.3 L582.7,300.3 L583.2,300.3 L583.7,300.3 L584.2,300.3 L584.7,300.3 L585.2,300.3 L585.7,300.3 L586.2,300.3 L586.7,300.3 L587.2,300.3 L587.7,300.3 L588.2,300.3 L588.7,300.3 L589.2,300.3 L589.7,300.3 L590.2,300.3 L590.7,300.3 L591.2,300.3 L591.7,300.3 L592.2,300.3 L592.7,300.3 L593.2,300.3 L593.7,300.3 L594.2,300.3 L594.7,300.3 L595.2,300.3 L595.7,300.3 L596.2,300.3 L596.7,300.3 L597.2,300.3 L597.7,300.3 L598.2,300.3 L598.7,300.3 L599.2,300.3 L599.7,300.3 L600.2,300.3 L600.7,300.3 L601.2,300.3 L601.7,300.3 L602.2,300.3 L602.7,300.3 L603.2,300.3 L603.7,300.3 L604.2,300.3 L604.7,300.3 L605.2,300.3 L605.7,300.3 L606.2,300.3 L606.7,300.3 L607.2,300.3 L607.7,300.3 L608.2,300.3 L608.7,300.3 L609.2,300.3 L609.7,300.3 L610.2,300.3 L610.7,300.3 L611.2,300.3 L611.7,300.3 L612.2,300.3 L612.7,300.3 L613.2,300.3 L613.7,300.3 L614.2,300.3 L614.7,300.3 L615.2,300.3 L615.7,300.3 L616.2,300.7 L616.7,300.9 L617.2,301.1 L617.7,301.2 L618.2,301.3 L618.7,301.3 L619.2,301.3 L619.7,301.3 L620.2,301.3 L620.7,301.6 L621.2,301.9 L621.7,302.2 L622.2,302.6 L622.7,303.0 L623.2,303.2 L623.7,303.1 L624.2,303.1 L624.7,303.1 L625.2,303.2 L625.7,303.3 L626.2,303.4 L626.7,303.5 L627.2,303.5 L627.7,303.7 L628.2,303.9 L628.7,304.1 L629.2,304.2 L629.7,304.3 L630.2,304.4 L630.7,309.0 L631.2,314.8 L631.7,316.2 L632.2,316.6 L632.7,317.0 L633.2,317.2 L633.7,317.5 L634.2,317.7 L634.7,317.9 L635.2,318.0 L635.7,318.2 L636.2,318.4 L636.7,318.7 L637.2,319.0 L637.7,319.4 L638.2,319.5 L638.7,319.6 L639.2,319.5 L639.7,319.4 L640.2,319.4 L640.7,319.4 L641.2,319.4 L641.7,319.0 L642.2,313.5 L642.7,308.2 L643.2,308.3 L643.7,308.4 L644.2,308.4 L644.7,308.2 L645.2,308.1 L645.7,307.7 L646.2,307.2 L646.7,306.7 L647.2,306.5 L647.7,306.4 L648.2,306.3 L648.7,306.3 L649.2,306.3 L649.7,306.2 L650.2,305.8 L650.7,305.4 L651.2,305.3 L651.7,305.6 L652.2,306.0 L652.7,306.0 L653.2,305.8 L653.7,305.6 L654.2,305.7 L654.7,305.9 L655.2,306.1 L655.7,306.0 L656.2,305.9 L656.7,305.8 L657.2,305.8 L657.7,305.8 L658.2,305.8 L658.7,305.8 L659.2,305.8 L659.7,306.0 L660.2,306.1 L660.7,306.3 L661.2,306.4 L661.7,306.5 L662.2,306.7 L662.7,306.5 L663.2,306.3 L663.7,306.2 L664.2,306.5 L664.7,306.7 L665.2,306.8 L665.7,306.7 L666.2,306.6 L666.7,306.6 L667.2,306.8 L667.7,307.0 L668.2,306.9 L668.7,306.8 L669.2,306.8 L669.7,306.7 L670.2,306.7 L670.7,306.7 L671.2,306.7 L671.7,306.7 L672.2,306.7 L672.7,306.7 L673.2,306.7 L673.7,306.8 L674.2,307.1 L674.7,307.3 L675.2,307.3 L675.7,307.2 L676.2,307.0 L676.7,306.9 L677.2,306.7 L677.7,306.7 L678.2,307.0 L678.7,307.3 L679.2,307.5 L679.7,307.4 L680.2,307.3 L680.7,307.0 L681.2,306.8 L681.7,306.5 L682.2,306.6 L682.7,306.9 L683.2,307.2 L683.7,307.2 L684.2,307.1 L684.7,307.0 L685.2,306.9 L685.7,306.9 L686.2,306.8 L686.7,306.8 L687.2,306.9 L687.7,307.0 L688.2,307.2 L688.7,307.3 L689.2,307.2 L689.7,306.9 L690.2,306.6 L690.7,306.7 L691.2,306.8 L691.7,306.9 L692.2,306.9 L692.7,306.9 L693.2,306.8 L693.7,306.7 L694.2,306.6 L694.7,306.5 L695.2,306.5 L695.7,306.5 L696.2,306.6 L696.7,306.8 L697.2,306.9 L697.7,306.9 L698.2,306.8 L698.7,306.7 L699.2,306.6 L699.7,306.6 L700.2,306.5 L700.7,306.5 L701.2,306.5 L701.7,306.5 L702.2,306.3 L702.7,306.2 L703.2,306.3 L703.7,306.6 L704.2,306.8 L704.7,306.5 L705.2,306.1 L705.7,305.9 L706.2,306.2 L706.7,306.4 L707.2,306.5 L707.7,306.4 L708.2,306.3 L708.7,306.2 L709.2,306.1 L709.7,306.0 L710.2,306.1 L710.7,306.2 L711.2,306.4 L711.7,306.4 L712.2,306.4 L712.7,306.3 L713.2,306.1 L713.7,305.8 L714.2,305.8 L714.7,305.9 L715.2,306.1 L715.7,306.1 L716.2,305.9 L716.7,305.8 L717.2,305.9 L717.7,306.2 L718.2,306.5 L718.7,306.2 L719.2,306.0 L719.7,305.8 L720.2,305.8 L720.7,305.8 L721.2,305.8 L721.7,305.7 L722.2,305.7 L722.7,305.6 L723.2,305.5 L723.7,305.4 L724.2,305.4 L724.7,305.5 L725.2,305.5 L725.7,305.5 L726.2,305.5 L726.7,305.5 L727.2,305.7 L727.7,305.9 L728.2,306.0 L728.7,306.1 L729.2,306.2 L729.7,306.0 L730.2,305.8 L730.7,305.5 L731.2,305.4 L731.7,305.3 L732.2,305.2 L732.7,305.4 L733.2,305.6 L733.7,305.7 L734.2,305.5 L734.7,305.3 L735.2,305.2 L735.7,305.3 L736.2,305.4 L736.7,305.6 L737.2,305.7 L737.7,305.8 L738.2,305.7 L738.7,305.4 L739.2,305.2 L739.7,305.4 L740.2,305.6 L740.7,305.8 L741.2,305.8 L741.7,305.8 L742.2,305.7 L742.7,305.6 L743.2,305.4 L743.7,305.5 L744.2,305.6 L744.7,305.7 L745.2,305.9 L745.7,306.1 L746.2,306.3 L746.7,306.2 L747.2,306.0 L747.7,305.9 L748.2,306.0 L748.7,306.1 L749.2,306.2 L749.7,306.5 L750.2,306.7 L750.7,306.9 L751.2,307.0 L751.7,307.2 L752.2,307.2 L752.7,307.1 L753.2,307.0 L753.7,307.1 L754.2,307.2 L754.7,307.3 L755.2,307.1 L755.7,306.9 L756.2,306.8 L756.7,307.0 L757.2,307.2 L757.7,307.3 L758.2,307.3 L758.7,307.4 L759.2,307.7 L759.7,308.6 L760.2,310.6 L760.7,312.0 L761.2,313.5 L761.7,314.4 L762.2,314.6 L762.7,314.8 L763.2,314.8 L763.7,314.6 L764.2,314.3 L764.7,314.3 L765.2,314.5 L765.7,314.8 L766.2,315.0 L766.7,315.2 L767.2,315.4 L767.7,315.4 L768.2,315.4 L768.7,315.3 L769.2,315.3 L769.7,315.2 L770.2,315.2 L770.7,315.0 L771.2,314.9 L771.7,315.1 L772.2,315.4 L772.7,315.8 L773.2,315.6 L773.7,315.3 L774.2,314.9 L774.7,315.3 L775.2,315.8 L775.7,316.1 L776.2,316.0 L776.7,316.0 L777.2,316.0 L777.7,316.0 L778.2,316.0 L778.7,316.0 L779.2,315.9 L779.7,315.9 L780.2,315.8 L780.7,315.7 L781.2,315.5 L781.7,315.7 L782.2,315.8 L782.7,315.9 L783.2,316.1 L783.7,316.2 L784.2,316.4 L784.7,316.4 L785.2,316.4 L785.7,316.4 L786.2,316.3 L786.7,316.2 L787.2,316.4 L787.7,316.6 L788.2,316.8 L788.7,316.5 L789.2,316.2 L789.7,316.0 L790.2,316.1 L790.7,316.2 L791.2,316.3 L791.7,316.2 L792.2,316.2 L792.7,316.2 L793.2,316.3 L793.7,316.4 L794.2,316.6 L794.7,316.9 L795.2,317.1 L795.7,317.1 L796.2,317.1 L796.7,317.0 L797.2,316.8 L797.7,316.5 L798.2,316.4 L798.7,316.5 L799.2,316.6 L799.7,316.6 L800.2,316.5 L800.7,316.5 L801.2,316.6 L801.7,316.9 L802.2,317.2 L802.7,317.1 L803.2,317.0 L803.7,316.9 L804.2,316.8 L804.7,316.8 L805.2,316.8 L805.7,316.8 L806.2,316.9 L806.7,317.1 L807.2,317.3 L807.7,317.5 L808.2,317.4 L808.7,317.3 L809.2,317.1 L809.7,317.2 L810.2,317.4 L810.7,317.5 L811.2,317.5 L811.7,317.5 L812.2,317.4 L812.7,317.4 L813.2,317.3 L813.7,317.3 L814.2,317.4 L814.7,317.4 L815.2,317.4 L815.7,317.3 L816.2,317.3 L816.7,317.2 L817.2,317.2 L817.7,317.1 L818.2,317.4 L818.7,318.3 L819.2,319.1 L819.7,319.8 L820.2,320.4 L820.7,321.1 L821.2,321.9 L821.7,322.6 L822.2,323.1 L822.7,323.1 L823.2,323.1 L823.7,323.5 L824.2,323.9 L824.7,324.1 L825.2,324.0 L825.7,323.9 L826.2,323.8 L826.7,323.8 L827.2,323.7 L827.7,323.7 L828.2,323.7 L828.7,323.7 L829.2,323.9 L829.7,324.0 L830.2,324.2 L830.7,324.5 L831.2,324.9 L831.7,325.1 L832.2,325.0 L832.7,324.8 L833.2,324.8 L833.7,325.0 L834.2,325.2 L834.7,325.2 L835.2,325.1 L835.7,325.0 L836.2,326.2 L836.7,327.5 L837.2,328.8 L837.7,329.9 L838.2,330.9 L838.7,332.0 L839.2,333.2 L839.7,334.3 L840.2,334.9 L840.7,335.3 L841.2,335.7 L841.7,336.1 L842.2,336.6 L842.7,337.0 L843.2,337.5 L843.7,338.0 L844.2,338.4 L844.7,338.1 L845.2,336.5 L845.7,334.8 L846.2,333.1 L846.7,332.2 L847.2,331.9 L847.7,331.5 L848.2,331.1 L848.7,330.6 L849.2,330.2 L849.7,329.8 L850.2,329.3 L850.7,328.9 L851.2,328.5 L851.7,328.4 L852.2,328.3 L852.7,328.1 L853.2,327.7 L853.7,327.5 L854.2,327.3 L854.7,326.8 L855.2,326.4 L855.7,326.3 L856.2,326.4 L856.7,326.5 L857.2,326.5 L857.7,326.4 L858.2,326.3 L858.7,326.1 L859.2,326.0 L859.7,325.8 L860.2,325.8 L860.7,325.8 L861.2,325.8 L861.7,325.6 L862.2,325.5 L862.7,325.2 L863.2,324.8 L863.7,324.4 L864.2,324.5 L864.7,324.6 L865.2,324.8 L865.7,324.4 L866.2,324.0 L866.7,323.7 L867.2,323.6 L867.7,323.5 L868.2,323.5 L868.7,323.6 L869.2,323.7 L869.7,323.5 L870.2,323.0 L870.7,322.6 L871.2,322.4 L871.7,322.4 L872.2,322.4 L872.7,322.4 L873.2,322.3 L873.7,322.3 L874.2,322.0 L874.7,321.7 L875.2,321.5 L875.7,321.4 L876.2,321.2 L876.7,321.3 L877.2,321.5 L877.7,321.7 L878.2,321.7 L878.7,321.6 L879.2,321.5 L879.7,321.6 L880.2,321.6 L880.7,321.7 L881.2,321.7 L881.7,321.7 L882.2,321.8 L882.7,321.8 L883.2,321.8 L883.7,321.9 L884.2,321.9 L884.7,321.9 L885.2,321.8 L885.7,321.8 L886.2,321.8 L886.7,321.9 L887.2,321.9 L887.7,321.9 L888.2,321.7 L888.7,321.5 L889.2,321.4 L889.7,321.5 L890.2,321.6 L890.7,321.6 L891.2,321.5 L891.7,321.4 L892.2,321.6 L892.7,321.8 L893.2,322.0 L893.7,321.8 L894.2,321.7 L894.7,321.6 L895.2,321.5 L895.7,321.4 L896.2,321.4 L896.7,321.4 L897.2,321.4 L897.7,321.2 L898.2,321.0 L898.7,320.7 L899.2,320.5 L899.7,320.3 L900.2,320.2 L900.7,320.2 L901.2,320.2 L901.7,320.1 L902.2,319.9 L902.7,319.7 L903.2,319.5 L903.7,319.4 L904.2,319.2 L904.7,319.1 L905.2,319.0 L905.7,319.0 L906.2,319.1 L906.7,319.3 L907.2,319.5 L907.7,319.7 L908.2,319.8 L908.7,319.9 L909.2,319.7 L909.7,319.4 L910.2,319.4 L910.7,319.7 L911.2,320.0 L911.7,320.0 L912.2,319.8 L912.7,319.7 L913.2,319.8 L913.7,320.0 L914.2,320.2 L914.7,320.2 L915.2,320.2 L915.7,320.2 L916.2,320.3 L916.7,320.4 L917.2,320.5 L917.7,320.6 L918.2,320.8 L918.7,320.8 L919.2,320.7 L919.7,320.6 L920.2,320.6 L920.7,320.7 L921.2,320.7 L921.7,320.9 L922.2,321.0 L922.7,321.1 L923.2,320.9 L923.7,320.7 L924.2,320.6 L924.7,320.8 L925.2,320.9 L925.7,321.1 L926.2,321.2 L926.7,321.4 L927.2,321.6 L927.7,321.6 L928.2,321.7 L928.7,321.8 L929.0,321.9 L929.0,489.3 Z" fill="#979594" />
<path d="M572.2,489.3 L572.2,300.3 L572.7,300.3 L573.2,300.3 L573.7,300.3 L574.2,300.3 L574.7,300.3 L575.2,300.3 L575.7,300.3 L576.2,300.3 L576.7,300.3 L577.2,300.3 L577.7,300.3 L578.2,300.3 L578.7,300.3 L579.2,300.3 L579.7,300.3 L580.2,300.3 L580.7,300.3 L581.2,300.3 L581.7,300.3 L582.2,300.3 L582.7,300.3 L583.2,300.3 L583.7,300.3 L584.2,300.3 L584.7,300.3 L585.2,300.3 L585.7,300.3 L586.2,300.3 L586.7,300.3 L587.2,300.3 L587.7,300.3 L588.2,300.3 L588.7,300.3 L589.2,300.3 L589.7,303.4 L590.2,303.8 L590.7,304.3 L591.2,304.5 L591.7,304.3 L592.2,304.4 L592.7,305.0 L593.2,305.4 L593.7,305.4 L594.2,305.5 L594.7,305.7 L595.2,306.2 L595.7,307.1 L596.2,308.1 L596.7,309.1 L597.2,310.0 L597.7,310.4 L598.2,310.9 L598.7,311.4 L599.2,311.9 L599.7,312.4 L600.2,313.1 L600.7,313.9 L601.2,314.7 L601.7,315.5 L602.2,316.2 L602.7,316.8 L603.2,317.4 L603.7,318.1 L604.2,318.8 L604.7,319.5 L605.2,320.1 L605.7,320.9 L606.2,321.8 L606.7,322.3 L607.2,321.7 L607.7,320.8 L608.2,319.9 L608.7,319.1 L609.2,318.4 L609.7,317.9 L610.2,317.1 L610.7,316.1 L611.2,315.2 L611.7,314.2 L612.2,313.5 L612.7,313.2 L613.2,313.0 L613.7,312.6 L614.2,312.2 L614.7,312.0 L615.2,311.5 L615.7,310.8 L616.2,310.2 L616.7,309.5 L617.2,309.2 L617.7,309.3 L618.2,309.4 L618.7,309.3 L619.2,309.5 L619.7,309.7 L620.2,309.8 L620.7,309.6 L621.2,309.5 L621.7,309.4 L622.2,309.3 L622.7,309.3 L623.2,309.5 L623.7,310.2 L624.2,310.7 L624.7,311.1 L625.2,311.1 L625.7,310.7 L626.2,310.6 L626.7,311.1 L627.2,311.6 L627.7,311.8 L628.2,312.0 L628.7,312.1 L629.2,312.1 L629.7,313.9 L630.2,315.7 L630.7,317.7 L631.2,319.6 L631.7,321.1 L632.2,322.5 L632.7,324.1 L633.2,325.8 L633.7,327.8 L634.2,329.3 L634.7,329.6 L635.2,330.1 L635.7,331.1 L636.2,331.9 L636.7,332.2 L637.2,332.6 L637.7,332.8 L638.2,333.1 L638.7,333.5 L639.2,333.9 L639.7,334.6 L640.2,335.2 L640.7,335.4 L641.2,332.9 L641.7,329.9 L642.2,327.1 L642.7,324.4 L643.2,324.3 L643.7,324.7 L644.2,324.7 L644.7,324.1 L645.2,323.5 L645.7,323.0 L646.2,323.2 L646.7,323.7 L647.2,324.1 L647.7,324.3 L648.2,324.8 L648.7,325.7 L649.2,326.6 L649.7,327.3 L650.2,327.8 L650.7,328.0 L651.2,328.4 L651.7,329.1 L652.2,329.7 L652.7,330.3 L653.2,330.6 L653.7,330.8 L654.2,331.3 L654.7,332.2 L655.2,333.2 L655.7,334.1 L656.2,334.8 L656.7,335.1 L657.2,335.4 L657.7,335.5 L658.2,335.9 L658.7,336.7 L659.2,337.1 L659.7,337.3 L660.2,337.5 L660.7,337.8 L661.2,338.0 L661.7,338.1 L662.2,338.3 L662.7,338.7 L663.2,339.0 L663.7,339.2 L664.2,339.1 L664.7,338.6 L665.2,338.4 L665.7,338.8 L666.2,339.0 L666.7,338.7 L667.2,339.0 L667.7,340.1 L668.2,340.5 L668.7,339.8 L669.2,339.5 L669.7,340.0 L670.2,340.4 L670.7,340.8 L671.2,341.0 L671.7,341.0 L672.2,340.9 L672.7,340.8 L673.2,340.9 L673.7,341.4 L674.2,341.7 L674.7,341.6 L675.2,341.2 L675.7,340.8 L676.2,340.4 L676.7,339.9 L677.2,339.2 L677.7,338.1 L678.2,338.5 L678.7,339.2 L679.2,340.0 L679.7,340.7 L680.2,341.4 L680.7,341.8 L681.2,342.4 L681.7,343.3 L682.2,344.1 L682.7,344.7 L683.2,345.4 L683.7,346.0 L684.2,346.3 L684.7,345.8 L685.2,345.6 L685.7,346.1 L686.2,346.4 L686.7,346.2 L687.2,346.4 L687.7,347.2 L688.2,347.7 L688.7,347.6 L689.2,347.8 L689.7,348.4 L690.2,348.7 L690.7,348.6 L691.2,348.7 L691.7,349.2 L692.2,349.3 L692.7,348.7 L693.2,348.7 L693.7,349.5 L694.2,348.1 L694.7,346.3 L695.2,344.8 L695.7,343.6 L696.2,341.9 L696.7,339.6 L697.2,337.6 L697.7,336.6 L698.2,336.8 L698.7,337.4 L699.2,337.6 L699.7,337.3 L700.2,337.1 L700.7,337.2 L701.2,337.3 L701.7,337.2 L702.2,337.4 L702.7,338.0 L703.2,338.2 L703.7,337.9 L704.2,337.7 L704.7,337.9 L705.2,338.1 L705.7,338.1 L706.2,338.1 L706.7,338.1 L707.2,338.0 L707.7,337.5 L708.2,337.2 L708.7,337.1 L709.2,337.9 L709.7,339.3 L710.2,340.6 L710.7,342.1 L711.2,343.4 L711.7,344.5 L712.2,345.4 L712.7,346.1 L713.2,347.1 L713.7,348.6 L714.2,349.9 L714.7,350.0 L715.2,349.3 L715.7,348.2 L716.2,347.7 L716.7,348.0 L717.2,348.1 L717.7,347.9 L718.2,347.4 L718.7,346.3 L719.2,345.6 L719.7,345.6 L720.2,345.8 L720.7,346.7 L721.2,347.5 L721.7,348.0 L722.2,348.5 L722.7,349.2 L723.2,349.7 L723.7,349.9 L724.2,349.9 L724.7,350.1 L725.2,350.5 L725.7,351.2 L726.2,351.4 L726.7,351.0 L727.2,350.8 L727.7,350.9 L728.2,351.1 L728.7,351.3 L729.2,351.3 L729.7,351.0 L730.2,351.0 L730.7,351.2 L731.2,351.3 L731.7,352.2 L732.2,353.7 L732.7,355.3 L733.2,356.8 L733.7,358.0 L734.2,359.0 L734.7,359.6 L735.2,360.4 L735.7,360.6 L736.2,360.8 L736.7,361.0 L737.2,361.1 L737.7,361.1 L738.2,361.0 L738.7,360.5 L739.2,360.2 L739.7,360.3 L740.2,360.0 L740.7,359.2 L741.2,358.5 L741.7,357.8 L742.2,357.1 L742.7,356.6 L743.2,356.7 L743.7,357.8 L744.2,358.9 L744.7,360.0 L745.2,360.6 L745.7,360.8 L746.2,361.5 L746.7,363.1 L747.2,364.4 L747.7,365.1 L748.2,365.0 L748.7,364.9 L749.2,364.8 L749.7,364.6 L750.2,364.8 L750.7,365.6 L751.2,366.1 L751.7,366.1 L752.2,365.9 L752.7,365.6 L753.2,362.3 L753.7,359.2 L754.2,356.1 L754.7,352.7 L755.2,349.8 L755.7,348.3 L756.2,349.4 L756.7,350.0 L757.2,350.4 L757.7,350.6 L758.2,351.1 L758.7,352.3 L759.2,353.5 L759.7,354.9 L760.2,356.1 L760.7,356.7 L761.2,357.7 L761.7,359.1 L762.2,360.5 L762.7,361.8 L763.2,363.1 L763.7,364.4 L764.2,365.7 L764.7,366.7 L765.2,368.1 L765.7,369.5 L766.2,370.1 L766.7,370.2 L767.2,370.7 L767.7,371.6 L768.2,372.3 L768.7,372.6 L769.2,373.1 L769.7,373.6 L770.2,373.8 L770.7,373.8 L771.2,373.9 L771.7,374.0 L772.2,373.9 L772.7,373.2 L773.2,373.1 L773.7,373.8 L774.2,374.2 L774.7,374.3 L775.2,374.1 L775.7,373.7 L776.2,373.4 L776.7,373.1 L777.2,373.0 L777.7,373.2 L778.2,373.6 L778.7,374.3 L779.2,374.8 L779.7,375.1 L780.2,374.9 L780.7,374.1 L781.2,373.7 L781.7,373.9 L782.2,374.1 L782.7,374.3 L783.2,374.4 L783.7,374.1 L784.2,374.2 L784.7,374.8 L785.2,375.3 L785.7,375.5 L786.2,375.7 L786.7,375.8 L787.2,375.3 L787.7,374.2 L788.2,373.8 L788.7,374.1 L789.2,374.1 L789.7,373.6 L790.2,372.9 L790.7,371.9 L791.2,372.0 L791.7,373.1 L792.2,374.0 L792.7,374.5 L793.2,375.0 L793.7,375.3 L794.2,375.7 L794.7,376.0 L795.2,376.3 L795.7,376.8 L796.2,377.2 L796.7,377.4 L797.2,378.1 L797.7,378.5 L798.2,379.5 L798.7,381.2 L799.2,382.5 L799.7,383.3 L800.2,384.1 L800.7,384.4 L801.2,384.2 L801.7,384.3 L802.2,384.8 L802.7,385.6 L803.2,386.2 L803.7,386.3 L804.2,386.1 L804.7,385.4 L805.2,385.0 L805.7,385.0 L806.2,385.4 L806.7,386.2 L807.2,386.6 L807.7,386.3 L808.2,386.4 L808.7,387.1 L809.2,387.4 L809.7,387.1 L810.2,387.0 L810.7,387.4 L811.2,387.4 L811.7,386.8 L812.2,386.8 L812.7,387.7 L813.2,388.0 L813.7,387.5 L814.2,387.4 L814.7,387.7 L815.2,388.0 L815.7,388.2 L816.2,388.3 L816.7,388.2 L817.2,388.2 L817.7,388.2 L818.2,388.5 L818.7,389.2 L819.2,389.6 L819.7,389.7 L820.2,390.0 L820.7,390.7 L821.2,391.2 L821.7,391.7 L822.2,391.9 L822.7,391.9 L823.2,391.4 L823.7,390.1 L824.2,389.3 L824.7,389.2 L825.2,388.8 L825.7,388.0 L826.2,385.9 L826.7,382.9 L827.2,380.5 L827.7,378.9 L828.2,377.1 L828.7,374.9 L829.2,373.7 L829.7,373.0 L830.2,372.5 L830.7,372.3 L831.2,372.3 L831.7,372.2 L832.2,372.1 L832.7,371.7 L833.2,371.3 L833.7,370.9 L834.2,371.0 L834.7,371.5 L835.2,371.6 L835.7,371.2 L836.2,371.0 L836.7,371.2 L837.2,371.2 L837.7,370.9 L838.2,370.9 L838.7,371.2 L839.2,371.7 L839.7,372.2 L840.2,372.3 L840.7,371.7 L841.2,371.4 L841.7,371.4 L842.2,371.5 L842.7,371.6 L843.2,371.7 L843.7,371.5 L844.2,371.3 L844.7,370.9 L845.2,370.7 L845.7,370.7 L846.2,370.7 L846.7,370.8 L847.2,371.1 L847.7,371.6 L848.2,371.9 L848.7,371.8 L849.2,371.8 L849.7,371.2 L850.2,370.2 L850.7,369.1 L851.2,368.1 L851.7,367.4 L852.2,366.3 L852.7,364.6 L853.2,363.3 L853.7,363.4 L854.2,363.4 L854.7,363.0 L855.2,362.9 L855.7,363.3 L856.2,363.2 L856.7,362.5 L857.2,362.2 L857.7,362.3 L858.2,362.4 L858.7,362.3 L859.2,362.2 L859.7,362.2 L860.2,362.1 L860.7,361.8 L861.2,361.3 L861.7,360.7 L862.2,360.4 L862.7,360.6 L863.2,360.8 L863.7,361.0 L864.2,361.2 L864.7,361.4 L865.2,361.2 L865.7,360.6 L866.2,360.4 L866.7,360.9 L867.2,361.3 L867.7,361.3 L868.2,361.1 L868.7,360.6 L869.2,360.3 L869.7,360.3 L870.2,360.6 L870.7,361.0 L871.2,361.4 L871.7,361.5 L872.2,361.4 L872.7,361.2 L873.2,361.2 L873.7,361.6 L874.2,361.6 L874.7,361.2 L875.2,361.1 L875.7,361.6 L876.2,361.9 L876.7,361.9 L877.2,362.1 L877.7,362.4 L878.2,362.6 L878.7,362.6 L879.2,362.3 L879.7,361.7 L880.2,361.6 L880.7,362.1 L881.2,362.3 L881.7,361.9 L882.2,361.9 L882.7,362.3 L883.2,362.7 L883.7,362.9 L884.2,363.1 L884.7,363.1 L885.2,362.9 L885.7,362.3 L886.2,362.2 L886.7,362.7 L887.2,363.0 L887.7,362.7 L888.2,362.6 L888.7,363.0 L889.2,363.3 L889.7,363.3 L890.2,363.4 L890.7,364.8 L891.2,367.2 L891.7,369.9 L892.2,372.2 L892.7,374.1 L893.2,376.2 L893.7,376.8 L894.2,376.9 L894.7,376.6 L895.2,376.5 L895.7,376.4 L896.2,376.6 L896.7,377.0 L897.2,377.1 L897.7,376.6 L898.2,376.6 L898.7,377.2 L899.2,377.4 L899.7,377.0 L900.2,376.6 L900.7,377.7 L901.2,379.1 L901.7,381.0 L902.2,382.4 L902.7,382.9 L903.2,383.9 L903.7,385.5 L904.2,386.7 L904.7,387.6 L905.2,388.1 L905.7,387.9 L906.2,388.3 L906.7,389.5 L907.2,390.3 L907.7,390.7 L908.2,391.3 L908.7,392.2 L909.2,392.7 L909.7,392.5 L910.2,392.5 L910.7,393.0 L911.2,393.4 L911.7,393.6 L912.2,393.5 L912.7,393.0 L913.2,392.5 L913.7,392.1 L914.2,392.0 L914.7,392.2 L915.2,392.6 L915.7,393.0 L916.2,393.0 L916.7,392.2 L917.2,392.0 L917.7,392.6 L918.2,392.9 L918.7,392.8 L919.2,392.8 L919.7,393.0 L920.2,391.3 L920.7,389.3 L921.2,387.6 L921.7,386.5 L922.2,384.8 L922.7,382.6 L923.2,382.4 L923.7,382.8 L924.2,383.0 L924.7,383.0 L925.2,383.1 L925.7,383.5 L926.2,383.6 L926.7,383.4 L927.2,383.3 L927.7,385.1 L928.2,388.9 L928.7,392.6 L929.0,394.9 L929.0,489.3 Z" fill="#e19905" />
<path d="M572.2,489.3 L572.2,300.3 L572.7,300.3 L573.2,300.3 L573.7,300.3 L574.2,300.3 L574.7,300.3 L575.2,300.3 L575.7,300.3 L576.2,300.3 L576.7,300.3 L577.2,300.3 L577.7,300.3 L578.2,300.3 L578.7,300.3 L579.2,300.3 L579.7,300.3 L580.2,300.3 L580.7,300.3 L581.2,300.3 L581.7,300.3 L582.2,300.3 L582.7,300.3 L583.2,300.3 L583.7,300.3 L584.2,300.3 L584.7,300.3 L585.2,300.3 L585.7,300.3 L586.2,300.3 L586.7,300.3 L587.2,300.3 L587.7,300.3 L588.2,300.3 L588.7,300.3 L589.2,300.3 L589.7,303.4 L590.2,308.1 L590.7,314.0 L591.2,318.5 L591.7,320.5 L592.2,322.4 L592.7,324.4 L593.2,326.9 L593.7,328.7 L594.2,329.3 L594.7,330.6 L595.2,332.2 L595.7,332.6 L596.2,333.5 L596.7,335.1 L597.2,337.1 L597.7,339.0 L598.2,340.6 L598.7,364.4 L599.2,364.5 L599.7,363.8 L600.2,363.7 L600.7,364.4 L601.2,364.5 L601.7,365.1 L602.2,365.7 L602.7,366.4 L603.2,367.0 L603.7,368.9 L604.2,369.9 L604.7,370.2 L605.2,371.7 L605.7,373.4 L606.2,374.4 L606.7,376.4 L607.2,379.4 L607.7,381.0 L608.2,382.4 L608.7,381.8 L609.2,380.8 L609.7,379.9 L610.2,378.0 L610.7,376.1 L611.2,375.0 L611.7,374.3 L612.2,373.6 L612.7,372.7 L613.2,371.8 L613.7,371.0 L614.2,371.5 L614.7,371.6 L615.2,371.6 L615.7,371.3 L616.2,371.5 L616.7,372.6 L617.2,372.8 L617.7,372.7 L618.2,372.3 L618.7,372.6 L619.2,373.7 L619.7,373.5 L620.2,373.7 L620.7,374.5 L621.2,375.0 L621.7,375.5 L622.2,376.4 L622.7,377.8 L623.2,379.5 L623.7,379.5 L624.2,379.9 L624.7,380.9 L625.2,381.8 L625.7,382.5 L626.2,382.8 L626.7,383.0 L627.2,383.1 L627.7,386.2 L628.2,388.3 L628.7,388.9 L629.2,391.1 L629.7,394.4 L630.2,397.7 L630.7,400.5 L631.2,402.8 L631.7,404.4 L632.2,404.8 L632.7,406.0 L633.2,406.5 L633.7,406.8 L634.2,407.2 L634.7,407.1 L635.2,406.8 L635.7,407.9 L636.2,408.7 L636.7,409.1 L637.2,409.7 L637.7,409.5 L638.2,408.6 L638.7,408.4 L639.2,408.7 L639.7,408.0 L640.2,407.1 L640.7,405.9 L641.2,405.5 L641.7,404.5 L642.2,402.5 L642.7,401.4 L643.2,400.7 L643.7,398.9 L644.2,398.2 L644.7,398.7 L645.2,397.3 L645.7,396.0 L646.2,396.0 L646.7,395.8 L647.2,396.1 L647.7,395.5 L648.2,395.4 L648.7,395.9 L649.2,395.7 L649.7,395.4 L650.2,395.8 L650.7,396.2 L651.2,396.5 L651.7,397.1 L652.2,397.4 L652.7,395.8 L653.2,393.7 L653.7,391.8 L654.2,391.0 L654.7,389.5 L655.2,388.6 L655.7,391.2 L656.2,393.7 L656.7,396.2 L657.2,399.3 L657.7,402.3 L658.2,403.5 L658.7,404.1 L659.2,404.9 L659.7,405.4 L660.2,405.9 L660.7,406.5 L661.2,407.2 L661.7,408.1 L662.2,408.0 L662.7,407.4 L663.2,406.5 L663.7,405.4 L664.2,404.7 L664.7,404.4 L665.2,403.8 L665.7,403.6 L666.2,404.6 L666.7,405.9 L667.2,407.4 L667.7,408.5 L668.2,409.5 L668.7,408.9 L669.2,407.5 L669.7,406.0 L670.2,404.9 L670.7,403.9 L671.2,403.5 L671.7,404.1 L672.2,404.8 L672.7,405.6 L673.2,406.8 L673.7,408.0 L674.2,409.3 L674.7,409.7 L675.2,408.9 L675.7,408.8 L676.2,409.0 L676.7,409.7 L677.2,410.4 L677.7,410.9 L678.2,410.5 L678.7,410.1 L679.2,409.6 L679.7,410.6 L680.2,411.0 L680.7,410.9 L681.2,411.7 L681.7,412.7 L682.2,413.4 L682.7,413.4 L683.2,412.9 L683.7,413.9 L684.2,415.1 L684.7,416.5 L685.2,416.5 L685.7,416.5 L686.2,417.7 L686.7,417.6 L687.2,416.6 L687.7,418.3 L688.2,419.3 L688.7,419.1 L689.2,419.1 L689.7,419.3 L690.2,420.3 L690.7,420.6 L691.2,420.4 L691.7,420.6 L692.2,420.7 L692.7,420.6 L693.2,421.6 L693.7,422.5 L694.2,421.8 L694.7,421.8 L695.2,422.4 L695.7,422.0 L696.2,420.0 L696.7,418.2 L697.2,416.8 L697.7,416.1 L698.2,415.7 L698.7,416.0 L699.2,416.8 L699.7,416.6 L700.2,416.3 L700.7,415.9 L701.2,416.4 L701.7,417.0 L702.2,416.7 L702.7,416.6 L703.2,416.5 L703.7,417.1 L704.2,417.3 L704.7,417.0 L705.2,416.6 L705.7,416.6 L706.2,418.1 L706.7,418.7 L707.2,420.3 L707.7,421.6 L708.2,423.6 L708.7,426.8 L709.2,427.6 L709.7,427.7 L710.2,427.4 L710.7,427.8 L711.2,428.6 L711.7,428.5 L712.2,428.5 L712.7,428.9 L713.2,429.4 L713.7,429.8 L714.2,429.5 L714.7,429.7 L715.2,430.3 L715.7,431.8 L716.2,432.8 L716.7,432.7 L717.2,432.4 L717.7,432.4 L718.2,433.8 L718.7,433.9 L719.2,433.2 L719.7,434.4 L720.2,434.9 L720.7,434.3 L721.2,435.2 L721.7,436.2 L722.2,435.5 L722.7,435.1 L723.2,435.2 L723.7,433.5 L724.2,432.5 L724.7,432.4 L725.2,431.9 L725.7,431.4 L726.2,432.0 L726.7,432.1 L727.2,432.1 L727.7,430.7 L728.2,430.0 L728.7,430.2 L729.2,429.8 L729.7,429.3 L730.2,428.9 L730.7,428.7 L731.2,428.7 L731.7,428.4 L732.2,428.3 L732.7,428.5 L733.2,428.5 L733.7,428.7 L734.2,429.2 L734.7,429.1 L735.2,428.5 L735.7,428.5 L736.2,428.1 L736.7,427.2 L737.2,426.9 L737.7,426.7 L738.2,426.7 L738.7,426.4 L739.2,425.9 L739.7,425.4 L740.2,425.4 L740.7,426.1 L741.2,427.4 L741.7,428.3 L742.2,427.2 L742.7,427.4 L743.2,428.5 L743.7,428.4 L744.2,428.5 L744.7,429.2 L745.2,428.3 L745.7,427.3 L746.2,427.9 L746.7,428.3 L747.2,428.5 L747.7,427.9 L748.2,427.2 L748.7,426.5 L749.2,427.2 L749.7,427.8 L750.2,425.3 L750.7,424.4 L751.2,424.7 L751.7,423.3 L752.2,422.0 L752.7,420.9 L753.2,419.6 L753.7,420.7 L754.2,421.8 L754.7,423.7 L755.2,426.0 L755.7,427.7 L756.2,429.6 L756.7,431.3 L757.2,431.4 L757.7,431.6 L758.2,432.7 L758.7,432.7 L759.2,432.1 L759.7,432.8 L760.2,433.1 L760.7,432.6 L761.2,432.7 L761.7,433.6 L762.2,436.1 L762.7,437.3 L763.2,437.7 L763.7,438.9 L764.2,440.5 L764.7,442.5 L765.2,443.2 L765.7,443.6 L766.2,443.5 L766.7,444.4 L767.2,445.9 L767.7,446.0 L768.2,446.0 L768.7,446.2 L769.2,445.8 L769.7,445.4 L770.2,445.4 L770.7,446.1 L771.2,447.2 L771.7,446.6 L772.2,446.2 L772.7,445.8 L773.2,445.6 L773.7,445.4 L774.2,445.1 L774.7,444.3 L775.2,443.0 L775.7,444.0 L776.2,444.5 L776.7,444.0 L777.2,443.6 L777.7,443.3 L778.2,443.6 L778.7,444.4 L779.2,445.6 L779.7,445.4 L780.2,445.4 L780.7,445.5 L781.2,445.1 L781.7,444.7 L782.2,445.0 L782.7,444.9 L783.2,444.6 L783.7,445.2 L784.2,445.4 L784.7,445.2 L785.2,444.9 L785.7,445.0 L786.2,446.0 L786.7,446.1 L787.2,445.3 L787.7,444.7 L788.2,444.8 L788.7,446.1 L789.2,445.5 L789.7,444.7 L790.2,445.0 L790.7,445.4 L791.2,446.3 L791.7,446.7 L792.2,447.3 L792.7,448.5 L793.2,448.6 L793.7,448.6 L794.2,448.7 L794.7,448.9 L795.2,449.1 L795.7,449.1 L796.2,448.8 L796.7,447.7 L797.2,447.8 L797.7,448.0 L798.2,447.8 L798.7,447.9 L799.2,448.3 L799.7,448.5 L800.2,448.8 L800.7,449.1 L801.2,447.2 L801.7,445.4 L802.2,445.7 L802.7,444.6 L803.2,442.6 L803.7,442.9 L804.2,443.5 L804.7,443.7 L805.2,443.9 L805.7,443.9 L806.2,443.2 L806.7,442.3 L807.2,441.5 L807.7,441.8 L808.2,442.1 L808.7,442.3 L809.2,442.6 L809.7,443.0 L810.2,443.4 L810.7,443.5 L811.2,443.3 L811.7,441.9 L812.2,441.1 L812.7,441.2 L813.2,441.9 L813.7,442.3 L814.2,441.6 L814.7,441.6 L815.2,442.2 L815.7,442.0 L816.2,441.9 L816.7,443.0 L817.2,443.8 L817.7,444.7 L818.2,446.6 L818.7,447.4 L819.2,448.7 L819.7,456.7 L820.2,462.8 L820.7,462.1 L821.2,461.8 L821.7,461.5 L822.2,460.8 L822.7,460.7 L823.2,461.1 L823.7,459.7 L824.2,458.8 L824.7,458.8 L825.2,459.2 L825.7,459.5 L826.2,459.3 L826.7,458.6 L827.2,457.6 L827.7,458.0 L828.2,458.3 L828.7,458.2 L829.2,457.8 L829.7,457.4 L830.2,457.2 L830.7,457.1 L831.2,457.1 L831.7,456.3 L832.2,455.6 L832.7,455.5 L833.2,455.2 L833.7,454.9 L834.2,453.7 L834.7,452.7 L835.2,451.8 L835.7,450.5 L836.2,448.9 L836.7,447.0 L837.2,451.7 L837.7,456.4 L838.2,456.3 L838.7,456.4 L839.2,456.8 L839.7,456.7 L840.2,456.9 L840.7,457.7 L841.2,458.1 L841.7,458.3 L842.2,458.2 L842.7,458.4 L843.2,459.0 L843.7,458.9 L844.2,458.8 L844.7,458.6 L845.2,459.7 L845.7,460.9 L846.2,461.3 L846.7,461.0 L847.2,460.3 L847.7,461.2 L848.2,462.3 L848.7,463.7 L849.2,464.6 L849.7,465.2 L850.2,465.1 L850.7,465.7 L851.2,466.8 L851.7,467.5 L852.2,468.4 L852.7,469.4 L853.2,470.5 L853.7,470.8 L854.2,469.8 L854.7,469.6 L855.2,470.0 L855.7,471.0 L856.2,471.1 L856.7,469.9 L857.2,469.7 L857.7,469.9 L858.2,471.0 L858.7,471.2 L859.2,471.0 L859.7,470.8 L860.2,470.7 L860.7,470.7 L861.2,470.3 L861.7,470.0 L862.2,471.0 L862.7,471.0 L863.2,470.4 L863.7,470.8 L864.2,471.3 L864.7,472.1 L865.2,470.9 L865.7,468.1 L866.2,465.7 L866.7,463.4 L867.2,462.1 L867.7,462.1 L868.2,462.5 L868.7,463.2 L869.2,463.6 L869.7,463.7 L870.2,463.1 L870.7,463.1 L871.2,463.4 L871.7,464.5 L872.2,465.2 L872.7,465.3 L873.2,466.3 L873.7,467.2 L874.2,467.0 L874.7,467.6 L875.2,468.3 L875.7,468.5 L876.2,468.9 L876.7,469.9 L877.2,469.4 L877.7,468.7 L878.2,468.8 L878.7,469.0 L879.2,469.3 L879.7,470.0 L880.2,470.2 L880.7,469.7 L881.2,469.5 L881.7,469.7 L882.2,470.4 L882.7,470.6 L883.2,470.3 L883.7,469.5 L884.2,469.6 L884.7,470.8 L885.2,470.2 L885.7,469.3 L886.2,469.6 L886.7,469.9 L887.2,470.3 L887.7,470.2 L888.2,470.3 L888.7,470.8 L889.2,470.1 L889.7,469.4 L890.2,470.3 L890.7,470.0 L891.2,469.1 L891.7,468.8 L892.2,469.0 L892.7,469.7 L893.2,469.9 L893.7,469.6 L894.2,468.3 L894.7,467.7 L895.2,467.4 L895.7,467.5 L896.2,467.7 L896.7,468.3 L897.2,467.7 L897.7,467.3 L898.2,468.8 L898.7,468.5 L899.2,466.9 L899.7,468.1 L900.2,468.9 L900.7,469.0 L901.2,468.4 L901.7,468.0 L902.2,468.7 L902.7,468.4 L903.2,467.4 L903.7,468.3 L904.2,468.8 L904.7,468.5 L905.2,468.8 L905.7,469.1 L906.2,469.0 L906.7,469.0 L907.2,468.9 L907.7,469.1 L908.2,468.8 L908.7,468.0 L909.2,467.7 L909.7,467.6 L910.2,468.0 L910.7,468.8 L911.2,469.9 L911.7,469.7 L912.2,469.7 L912.7,469.8 L913.2,469.9 L913.7,470.0 L914.2,469.1 L914.7,469.5 L915.2,470.8 L915.7,470.1 L916.2,469.6 L916.7,469.4 L917.2,469.2 L917.7,469.0 L918.2,469.5 L918.7,469.1 L919.2,468.3 L919.7,468.2 L920.2,468.4 L920.7,468.7 L921.2,467.9 L921.7,467.1 L922.2,468.1 L922.7,468.3 L923.2,467.9 L923.7,467.3 L924.2,466.8 L924.7,466.6 L925.2,467.7 L925.7,468.7 L926.2,469.0 L926.7,469.2 L927.2,469.4 L927.7,471.4 L928.2,472.8 L928.7,473.4 L929.0,473.8 L929.0,489.3 Z" fill="#4b5a4e" />
<path d="M572.2,489.3 L572.2,300.3 L572.7,300.3 L573.2,300.3 L573.7,300.3 L574.2,300.3 L574.7,300.3 L575.2,300.3 L575.7,300.3 L576.2,300.3 L576.7,300.3 L577.2,300.3 L577.7,300.3 L578.2,300.3 L578.7,300.3 L579.2,300.3 L579.7,300.3 L580.2,300.3 L580.7,300.3 L581.2,300.3 L581.7,300.3 L582.2,300.3 L582.7,300.3 L583.2,300.3 L583.7,300.3 L584.2,300.3 L584.7,300.3 L585.2,300.3 L585.7,300.3 L586.2,300.3 L586.7,300.3 L587.2,300.3 L587.7,300.3 L588.2,300.3 L588.7,300.3 L589.2,300.3 L589.7,303.4 L590.2,308.1 L590.7,314.0 L591.2,318.5 L591.7,320.5 L592.2,322.4 L592.7,324.4 L593.2,326.9 L593.7,328.7 L594.2,329.3 L594.7,330.6 L595.2,332.2 L595.7,332.6 L596.2,333.5 L596.7,335.1 L597.2,337.1 L597.7,339.0 L598.2,340.6 L598.7,364.4 L599.2,364.5 L599.7,363.8 L600.2,363.7 L600.7,364.4 L601.2,364.5 L601.7,365.1 L602.2,365.7 L602.7,366.4 L603.2,367.0 L603.7,368.9 L604.2,369.9 L604.7,370.2 L605.2,371.7 L605.7,373.4 L606.2,375.8 L606.7,381.3 L607.2,387.8 L607.7,392.9 L608.2,396.9 L608.7,397.7 L609.2,398.1 L609.7,398.6 L610.2,398.1 L610.7,397.5 L611.2,397.8 L611.7,398.5 L612.2,398.5 L612.7,397.4 L613.2,396.3 L613.7,395.3 L614.2,395.6 L614.7,395.5 L615.2,395.3 L615.7,394.8 L616.2,394.8 L616.7,395.6 L617.2,395.6 L617.7,395.3 L618.2,394.8 L618.7,394.8 L619.2,395.7 L619.7,395.3 L620.2,395.3 L620.7,395.9 L621.2,396.2 L621.7,396.5 L622.2,397.2 L622.7,398.3 L623.2,399.8 L623.7,399.6 L624.2,399.3 L624.7,398.8 L625.2,398.2 L625.7,397.4 L626.2,396.2 L626.7,394.9 L627.2,393.5 L627.7,395.1 L628.2,396.8 L628.7,398.7 L629.2,402.1 L629.7,406.6 L630.2,410.7 L630.7,413.4 L631.2,415.6 L631.7,417.2 L632.2,417.5 L632.7,418.6 L633.2,419.0 L633.7,419.3 L634.2,419.6 L634.7,419.5 L635.2,419.1 L635.7,420.1 L636.2,420.8 L636.7,421.1 L637.2,421.5 L637.7,420.8 L638.2,419.4 L638.7,418.7 L639.2,418.5 L639.7,417.3 L640.2,415.9 L640.7,414.2 L641.2,413.1 L641.7,411.0 L642.2,408.0 L642.7,405.7 L643.2,404.0 L643.7,401.1 L644.2,400.2 L644.7,400.6 L645.2,399.3 L645.7,397.8 L646.2,397.9 L646.7,397.7 L647.2,397.9 L647.7,397.3 L648.2,397.1 L648.7,397.6 L649.2,397.3 L649.7,397.1 L650.2,397.5 L650.7,397.8 L651.2,398.0 L651.7,398.6 L652.2,398.9 L652.7,397.3 L653.2,395.1 L653.7,393.2 L654.2,392.3 L654.7,390.9 L655.2,389.9 L655.7,392.4 L656.2,394.9 L656.7,397.4 L657.2,400.5 L657.7,403.5 L658.2,404.6 L658.7,405.2 L659.2,405.9 L659.7,406.4 L660.2,406.9 L660.7,407.5 L661.2,408.2 L661.7,409.1 L662.2,409.0 L662.7,408.4 L663.2,407.5 L663.7,406.4 L664.2,405.7 L664.7,405.4 L665.2,404.8 L665.7,404.6 L666.2,405.6 L666.7,406.9 L667.2,408.4 L667.7,409.5 L668.2,410.5 L668.7,409.9 L669.2,408.5 L669.7,407.0 L670.2,405.9 L670.7,404.9 L671.2,404.5 L671.7,405.1 L672.2,405.8 L672.7,406.6 L673.2,407.8 L673.7,409.0 L674.2,410.3 L674.7,410.7 L675.2,409.9 L675.7,409.8 L676.2,410.0 L676.7,410.7 L677.2,411.4 L677.7,411.9 L678.2,411.5 L678.7,411.1 L679.2,410.6 L679.7,411.6 L680.2,412.0 L680.7,411.9 L681.2,412.7 L681.7,413.7 L682.2,414.4 L682.7,414.4 L683.2,413.9 L683.7,414.9 L684.2,416.1 L684.7,417.5 L685.2,417.5 L685.7,417.5 L686.2,418.7 L686.7,418.6 L687.2,417.6 L687.7,419.3 L688.2,420.3 L688.7,420.1 L689.2,420.1 L689.7,420.3 L690.2,421.3 L690.7,421.6 L691.2,421.4 L691.7,421.6 L692.2,421.7 L692.7,421.6 L693.2,422.6 L693.7,423.5 L694.2,422.8 L694.7,422.8 L695.2,423.4 L695.7,423.0 L696.2,422.1 L696.7,422.9 L697.2,424.2 L697.7,425.1 L698.2,424.8 L698.7,425.1 L699.2,425.9 L699.7,425.7 L700.2,425.5 L700.7,425.0 L701.2,425.6 L701.7,426.2 L702.2,426.0 L702.7,425.9 L703.2,425.9 L703.7,426.4 L704.2,426.7 L704.7,426.4 L705.2,426.0 L705.7,426.0 L706.2,427.5 L706.7,428.2 L707.2,430.2 L707.7,432.1 L708.2,434.8 L708.7,438.7 L709.2,439.4 L709.7,439.3 L710.2,438.9 L710.7,439.0 L711.2,439.6 L711.7,439.3 L712.2,439.1 L712.7,439.2 L713.2,439.6 L713.7,439.8 L714.2,439.2 L714.7,439.2 L715.2,439.6 L715.7,441.0 L716.2,441.7 L716.7,441.5 L717.2,441.0 L717.7,440.8 L718.2,442.1 L718.7,442.0 L719.2,441.1 L719.7,442.1 L720.2,442.5 L720.7,441.8 L721.2,442.5 L721.7,443.3 L722.2,442.3 L722.7,441.5 L723.2,441.3 L723.7,439.1 L724.2,437.7 L724.7,437.2 L725.2,436.3 L725.7,435.4 L726.2,435.9 L726.7,436.1 L727.2,436.0 L727.7,434.6 L728.2,433.8 L728.7,434.0 L729.2,433.6 L729.7,433.0 L730.2,432.6 L730.7,432.4 L731.2,432.3 L731.7,432.0 L732.2,431.8 L732.7,432.0 L733.2,432.0 L733.7,432.1 L734.2,432.6 L734.7,432.5 L735.2,431.8 L735.7,431.8 L736.2,431.4 L736.7,430.5 L737.2,430.1 L737.7,429.9 L738.2,429.8 L738.7,429.5 L739.2,429.0 L739.7,428.4 L740.2,428.4 L740.7,429.1 L741.2,430.4 L741.7,431.3 L742.2,430.2 L742.7,430.4 L743.2,431.5 L743.7,431.4 L744.2,431.5 L744.7,432.2 L745.2,431.3 L745.7,430.3 L746.2,430.9 L746.7,431.3 L747.2,431.5 L747.7,430.9 L748.2,430.2 L748.7,429.5 L749.2,430.2 L749.7,430.8 L750.2,428.3 L750.7,427.4 L751.2,427.7 L751.7,426.3 L752.2,424.9 L752.7,423.5 L753.2,422.0 L753.7,422.9 L754.2,423.7 L754.7,425.3 L755.2,427.4 L755.7,428.9 L756.2,430.6 L756.7,432.3 L757.2,432.4 L757.7,432.6 L758.2,433.7 L758.7,433.7 L759.2,433.1 L759.7,433.8 L760.2,434.1 L760.7,433.6 L761.2,433.7 L761.7,434.6 L762.2,437.1 L762.7,438.3 L763.2,438.7 L763.7,439.9 L764.2,441.5 L764.7,443.5 L765.2,444.2 L765.7,444.6 L766.2,445.2 L766.7,447.6 L767.2,450.6 L767.7,451.1 L768.2,451.2 L768.7,451.4 L769.2,451.1 L769.7,450.7 L770.2,450.8 L770.7,451.5 L771.2,452.7 L771.7,452.2 L772.2,451.9 L772.7,451.5 L773.2,451.3 L773.7,451.2 L774.2,451.0 L774.7,450.2 L775.2,449.0 L775.7,450.0 L776.2,450.5 L776.7,450.0 L777.2,449.6 L777.7,449.3 L778.2,449.6 L778.7,450.4 L779.2,451.6 L779.7,451.4 L780.2,451.4 L780.7,451.5 L781.2,451.1 L781.7,450.7 L782.2,451.0 L782.7,450.9 L783.2,450.6 L783.7,451.2 L784.2,451.4 L784.7,451.2 L785.2,450.9 L785.7,451.0 L786.2,452.0 L786.7,452.1 L787.2,451.3 L787.7,450.7 L788.2,450.8 L788.7,452.1 L789.2,451.5 L789.7,450.7 L790.2,450.8 L790.7,450.5 L791.2,450.7 L791.7,450.4 L792.2,450.4 L792.7,450.9 L793.2,450.5 L793.7,450.5 L794.2,450.5 L794.7,450.7 L795.2,450.8 L795.7,450.8 L796.2,450.3 L796.7,449.2 L797.2,449.2 L797.7,449.3 L798.2,449.0 L798.7,449.1 L799.2,449.4 L799.7,449.5 L800.2,449.8 L800.7,450.1 L801.2,448.2 L801.7,446.4 L802.2,446.7 L802.7,445.6 L803.2,443.6 L803.7,443.9 L804.2,444.5 L804.7,444.7 L805.2,444.8 L805.7,444.8 L806.2,444.1 L806.7,443.3 L807.2,442.4 L807.7,442.8 L808.2,443.0 L808.7,443.2 L809.2,443.6 L809.7,443.9 L810.2,444.4 L810.7,444.4 L811.2,444.2 L811.7,442.9 L812.2,442.1 L812.7,442.1 L813.2,442.8 L813.7,443.3 L814.2,442.5 L814.7,442.6 L815.2,443.1 L815.7,443.0 L816.2,442.9 L816.7,443.9 L817.2,444.7 L817.7,445.6 L818.2,447.5 L818.7,448.3 L819.2,449.7 L819.7,457.6 L820.2,463.7 L820.7,463.0 L821.2,462.7 L821.7,462.4 L822.2,461.7 L822.7,461.7 L823.2,462.1 L823.7,460.6 L824.2,459.7 L824.7,459.7 L825.2,460.1 L825.7,460.4 L826.2,460.2 L826.7,459.5 L827.2,458.5 L827.7,458.9 L828.2,459.2 L828.7,459.1 L829.2,458.7 L829.7,458.3 L830.2,458.1 L830.7,458.0 L831.2,458.0 L831.7,457.1 L832.2,456.5 L832.7,456.3 L833.2,456.1 L833.7,455.8 L834.2,454.6 L834.7,453.5 L835.2,452.6 L835.7,451.3 L836.2,449.8 L836.7,447.9 L837.2,452.5 L837.7,457.3 L838.2,457.2 L838.7,457.3 L839.2,457.6 L839.7,457.5 L840.2,457.8 L840.7,458.5 L841.2,458.9 L841.7,459.1 L842.2,459.0 L842.7,459.3 L843.2,459.8 L843.7,459.8 L844.2,459.6 L844.7,459.4 L845.2,460.5 L845.7,461.7 L846.2,462.1 L846.7,461.8 L847.2,461.2 L847.7,462.0 L848.2,463.2 L848.7,464.5 L849.2,465.4 L849.7,466.0 L850.2,465.9 L850.7,466.5 L851.2,467.6 L851.7,468.3 L852.2,469.2 L852.7,470.2 L853.2,471.3 L853.7,471.6 L854.2,470.6 L854.7,470.4 L855.2,470.8 L855.7,471.8 L856.2,471.8 L856.7,470.7 L857.2,470.5 L857.7,470.7 L858.2,471.7 L858.7,472.0 L859.2,471.8 L859.7,471.6 L860.2,471.5 L860.7,471.5 L861.2,471.0 L861.7,470.7 L862.2,471.7 L862.7,471.8 L863.2,471.2 L863.7,471.5 L864.2,472.0 L864.7,472.9 L865.2,471.6 L865.7,468.8 L866.2,466.5 L866.7,464.1 L867.2,462.8 L867.7,462.9 L868.2,463.2 L868.7,463.9 L869.2,464.3 L869.7,464.4 L870.2,463.8 L870.7,463.8 L871.2,464.1 L871.7,465.2 L872.2,466.0 L872.7,466.1 L873.2,467.0 L873.7,468.0 L874.2,467.7 L874.7,468.3 L875.2,469.1 L875.7,469.2 L876.2,469.6 L876.7,470.6 L877.2,470.1 L877.7,469.4 L878.2,469.5 L878.7,469.7 L879.2,470.0 L879.7,470.7 L880.2,470.9 L880.7,470.3 L881.2,470.2 L881.7,470.4 L882.2,471.1 L882.7,471.3 L883.2,471.0 L883.7,470.2 L884.2,470.3 L884.7,471.5 L885.2,470.8 L885.7,470.0 L886.2,470.2 L886.7,470.6 L887.2,471.0 L887.7,470.8 L888.2,470.9 L888.7,471.4 L889.2,470.7 L889.7,470.1 L890.2,470.9 L890.7,470.7 L891.2,469.7 L891.7,469.5 L892.2,469.6 L892.7,470.4 L893.2,470.5 L893.7,470.2 L894.2,469.0 L894.7,468.3 L895.2,468.0 L895.7,468.1 L896.2,468.3 L896.7,468.9 L897.2,468.3 L897.7,467.9 L898.2,469.4 L898.7,469.1 L899.2,467.6 L899.7,468.7 L900.2,469.5 L900.7,469.6 L901.2,469.1 L901.7,468.6 L902.2,469.3 L902.7,469.0 L903.2,468.0 L903.7,468.9 L904.2,469.4 L904.7,469.1 L905.2,469.3 L905.7,469.7 L906.2,469.6 L906.7,469.5 L907.2,469.5 L907.7,469.7 L908.2,469.4 L908.7,468.6 L909.2,468.3 L909.7,468.2 L910.2,468.6 L910.7,469.4 L911.2,470.5 L911.7,470.3 L912.2,470.2 L912.7,470.4 L913.2,470.5 L913.7,470.5 L914.2,469.7 L914.7,470.1 L915.2,471.4 L915.7,470.6 L916.2,470.1 L916.7,470.0 L917.2,469.7 L917.7,469.5 L918.2,470.0 L918.7,469.7 L919.2,468.8 L919.7,468.8 L920.2,468.9 L920.7,469.2 L921.2,468.4 L921.7,467.7 L922.2,468.7 L922.7,468.8 L923.2,468.4 L923.7,467.8 L924.2,467.3 L924.7,467.1 L925.2,468.2 L925.7,469.2 L926.2,469.5 L926.7,469.8 L927.2,469.9 L927.7,471.9 L928.2,473.3 L928.7,473.9 L929.0,474.3 L929.0,489.3 Z" fill="#000000" />
<path d="M583.6,300.3 L588.9,300.3 L590.2,317 L588.6,327 L586.4,322 L584.6,312 Z" fill="#1c2f25"/>
<path d="M575.6,300.3 L580.4,300.3 L580,308 L577.5,309.5 Z" fill="#14231b"/>
<path d="M593.2,341 L596,338.5 L596.6,349 L594.4,352.5 Z" fill="#2f4639"/>
<path d="M582.2,489.3 L582.2,489.3 L582.7,393.2 L583.2,383.2 L583.7,374.3 L584.2,365.4 L584.7,362.5 L585.2,358.9 L585.7,354.5 L586.2,353.3 L586.7,352.7 L587.2,351.5 L587.7,350.1 L588.2,350.6 L588.7,351.8 L589.2,353.6 L589.7,355.0 L590.2,355.9 L590.7,356.9 L591.2,357.8 L591.7,357.7 L592.2,358.6 L592.7,363.1 L593.2,368.2 L593.7,373.9 L594.2,376.5 L594.7,374.5 L595.2,372.9 L595.7,371.4 L596.2,368.8 L596.7,366.0 L597.2,363.8 L597.7,365.7 L598.2,369.0 L598.7,371.9 L599.2,377.1 L599.7,382.3 L600.2,387.6 L600.7,390.9 L601.2,394.1 L601.7,395.5 L602.2,396.5 L602.7,398.5 L603.2,400.1 L603.7,401.1 L604.2,401.8 L604.7,402.3 L605.2,403.8 L605.7,405.0 L606.2,405.7 L606.7,406.5 L607.2,407.3 L607.7,407.9 L608.2,408.3 L608.7,408.6 L609.2,408.8 L609.7,409.1 L610.2,413.5 L610.7,420.8 L611.2,417.7 L611.7,412.2 L612.2,411.2 L612.7,411.5 L613.2,411.5 L613.7,411.4 L614.2,411.8 L614.7,412.3 L615.2,411.7 L615.7,411.3 L616.2,411.5 L616.7,411.8 L617.2,411.9 L617.7,412.2 L618.2,412.5 L618.7,413.0 L619.2,413.4 L619.7,413.8 L620.2,414.1 L620.7,414.2 L621.2,414.3 L621.7,414.3 L622.2,414.8 L622.7,415.6 L623.2,415.4 L623.7,415.0 L624.2,415.4 L624.7,415.8 L625.2,416.2 L625.7,416.6 L626.2,417.2 L626.7,417.7 L627.2,418.1 L627.7,418.6 L628.2,420.4 L628.7,422.6 L629.2,424.8 L629.7,427.3 L630.2,429.8 L630.7,432.2 L631.2,434.4 L631.7,436.4 L632.2,438.7 L632.7,441.2 L633.2,443.3 L633.7,443.4 L634.2,441.9 L634.7,440.9 L635.2,440.6 L635.7,438.6 L636.2,436.0 L636.7,433.3 L637.2,430.7 L637.7,430.7 L638.2,430.6 L638.7,430.2 L639.2,429.4 L639.7,428.0 L640.2,427.0 L640.7,426.3 L641.2,425.1 L641.7,422.6 L642.2,419.8 L642.7,417.0 L643.2,415.9 L643.7,415.9 L644.2,415.8 L644.7,415.8 L645.2,416.0 L645.7,416.3 L646.2,416.7 L646.7,416.4 L647.2,416.4 L647.7,417.0 L648.2,417.7 L648.7,418.0 L649.2,417.4 L649.7,416.7 L650.2,415.8 L650.7,415.0 L651.2,413.5 L651.7,412.2 L652.2,411.8 L652.7,411.2 L653.2,410.4 L653.7,409.8 L654.2,409.4 L654.7,408.7 L655.2,408.0 L655.7,407.5 L656.2,408.6 L656.7,412.4 L657.2,415.6 L657.7,418.0 L658.2,419.9 L658.7,421.4 L659.2,422.3 L659.7,423.0 L660.2,423.7 L660.7,424.6 L661.2,426.1 L661.7,427.3 L662.2,426.9 L662.7,426.4 L663.2,425.8 L663.7,425.6 L664.2,425.5 L664.7,425.6 L665.2,425.5 L665.7,425.0 L666.2,424.7 L666.7,424.8 L667.2,424.7 L667.7,424.3 L668.2,424.6 L668.7,425.1 L669.2,424.0 L669.7,423.2 L670.2,423.7 L670.7,423.7 L671.2,423.0 L671.7,423.6 L672.2,424.4 L672.7,426.2 L673.2,428.1 L673.7,429.0 L674.2,429.9 L674.7,430.4 L675.2,431.0 L675.7,432.0 L676.2,432.1 L676.7,431.7 L677.2,432.0 L677.7,432.4 L678.2,432.3 L678.7,432.1 L679.2,431.4 L679.7,430.7 L680.2,430.2 L680.7,429.6 L681.2,429.2 L681.7,429.7 L682.2,430.5 L682.7,431.1 L683.2,431.6 L683.7,431.7 L684.2,431.7 L684.7,431.5 L685.2,432.1 L685.7,433.2 L686.2,433.5 L686.7,434.0 L687.2,433.6 L687.7,433.6 L688.2,434.7 L688.7,435.8 L689.2,437.0 L689.7,437.7 L690.2,438.1 L690.7,438.6 L691.2,439.0 L691.7,438.9 L692.2,438.7 L692.7,439.9 L693.2,440.5 L693.7,440.0 L694.2,439.9 L694.7,440.1 L695.2,440.9 L695.7,441.7 L696.2,441.7 L696.7,441.8 L697.2,442.7 L697.7,443.1 L698.2,442.7 L698.7,441.9 L699.2,440.9 L699.7,440.5 L700.2,440.3 L700.7,440.3 L701.2,440.3 L701.7,440.0 L702.2,439.9 L702.7,440.0 L703.2,440.0 L703.7,439.9 L704.2,439.5 L704.7,438.9 L705.2,439.6 L705.7,440.2 L706.2,440.1 L706.7,439.8 L707.2,444.2 L707.7,452.5 L708.2,454.3 L708.7,454.5 L709.2,454.7 L709.7,455.3 L710.2,455.7 L710.7,455.5 L711.2,455.1 L711.7,454.5 L712.2,454.6 L712.7,455.1 L713.2,455.0 L713.7,454.8 L714.2,455.6 L714.7,456.2 L715.2,456.3 L715.7,456.1 L716.2,455.7 L716.7,456.0 L717.2,456.6 L717.7,456.7 L718.2,456.5 L718.7,456.7 L719.2,456.7 L719.7,456.2 L720.2,456.0 L720.7,455.8 L721.2,454.8 L721.7,453.2 L722.2,452.9 L722.7,453.0 L723.2,451.7 L723.7,450.6 L724.2,451.0 L724.7,451.0 L725.2,450.3 L725.7,449.8 L726.2,449.4 L726.7,449.1 L727.2,449.0 L727.7,448.9 L728.2,448.9 L728.7,449.4 L729.2,449.4 L729.7,448.8 L730.2,448.4 L730.7,448.1 L731.2,448.6 L731.7,449.3 L732.2,449.0 L732.7,448.6 L733.2,447.6 L733.7,447.2 L734.2,447.6 L734.7,448.1 L735.2,448.5 L735.7,448.0 L736.2,447.3 L736.7,446.7 L737.2,446.4 L737.7,447.0 L738.2,447.4 L738.7,447.5 L739.2,447.5 L739.7,447.4 L740.2,447.2 L740.7,446.9 L741.2,446.5 L741.7,446.2 L742.2,446.1 L742.7,445.8 L743.2,445.3 L743.7,445.6 L744.2,446.5 L744.7,446.6 L745.2,446.5 L745.7,445.4 L746.2,444.4 L746.7,444.3 L747.2,444.1 L747.7,443.8 L748.2,443.7 L748.7,443.8 L749.2,443.9 L749.7,444.0 L750.2,443.2 L750.7,442.4 L751.2,441.9 L751.7,441.6 L752.2,446.7 L752.7,451.7 L753.2,456.8 L753.7,453.6 L754.2,448.3 L754.7,444.4 L755.2,445.9 L755.7,447.4 L756.2,448.9 L756.7,450.6 L757.2,452.3 L757.7,453.9 L758.2,453.7 L758.7,453.3 L759.2,454.2 L759.7,454.9 L760.2,454.5 L760.7,454.4 L761.2,454.7 L761.7,454.7 L762.2,454.6 L762.7,454.9 L763.2,455.4 L763.7,454.3 L764.2,453.4 L764.7,453.8 L765.2,454.2 L765.7,455.5 L766.2,457.4 L766.7,459.4 L767.2,460.6 L767.7,460.4 L768.2,460.2 L768.7,460.1 L769.2,460.7 L769.7,461.3 L770.2,461.9 L770.7,461.5 L771.2,460.4 L771.7,460.3 L772.2,460.5 L772.7,460.2 L773.2,459.6 L773.7,458.1 L774.2,457.1 L774.7,458.0 L775.2,457.7 L775.7,456.6 L776.2,457.0 L776.7,457.8 L777.2,457.3 L777.7,456.9 L778.2,457.3 L778.7,457.5 L779.2,457.5 L779.7,457.4 L780.2,457.2 L780.7,457.0 L781.2,456.7 L781.7,457.5 L782.2,457.9 L782.7,457.2 L783.2,456.7 L783.7,456.4 L784.2,456.1 L784.7,455.8 L785.2,456.4 L785.7,457.1 L786.2,456.6 L786.7,456.2 L787.2,456.6 L787.7,456.6 L788.2,456.2 L788.7,456.0 L789.2,455.8 L789.7,456.1 L790.2,456.5 L790.7,456.7 L791.2,455.9 L791.7,454.6 L792.2,453.7 L792.7,453.4 L793.2,453.6 L793.7,453.5 L794.2,453.2 L794.7,452.9 L795.2,453.0 L795.7,453.1 L796.2,453.3 L796.7,453.2 L797.2,452.7 L797.7,452.8 L798.2,453.4 L798.7,452.9 L799.2,452.0 L799.7,452.9 L800.2,453.6 L800.7,452.9 L801.2,451.0 L801.7,448.6 L802.2,446.7 L802.7,445.7 L803.2,446.3 L803.7,447.0 L804.2,446.8 L804.7,446.6 L805.2,446.6 L805.7,446.5 L806.2,446.0 L806.7,446.1 L807.2,446.6 L807.7,446.8 L808.2,447.1 L808.7,447.2 L809.2,447.3 L809.7,447.1 L810.2,447.0 L810.7,447.2 L811.2,447.0 L811.7,446.7 L812.2,447.2 L812.7,447.8 L813.2,446.9 L813.7,446.3 L814.2,446.6 L814.7,446.7 L815.2,446.6 L815.7,446.9 L816.2,447.5 L816.7,447.1 L817.2,446.6 L817.7,446.5 L818.2,447.5 L818.7,448.3 L819.2,452.7 L819.7,475.5 L820.2,475.1 L820.7,474.6 L821.2,475.0 L821.7,475.8 L822.2,474.6 L822.7,473.6 L823.2,473.9 L823.7,474.3 L824.2,475.0 L824.7,475.2 L825.2,475.1 L825.7,474.7 L826.2,474.3 L826.7,473.9 L827.2,473.5 L827.7,473.2 L828.2,473.2 L828.7,474.0 L829.2,473.8 L829.7,473.0 L830.2,473.6 L830.7,474.6 L831.2,473.5 L831.7,472.7 L832.2,472.7 L832.7,472.6 L833.2,472.3 L833.7,472.4 L834.2,472.4 L834.7,472.0 L835.2,471.6 L835.7,471.5 L836.2,471.2 L836.7,469.9 L837.2,468.9 L837.7,468.3 L838.2,468.3 L838.7,468.5 L839.2,469.1 L839.7,469.7 L840.2,468.8 L840.7,468.1 L841.2,468.1 L841.7,468.3 L842.2,468.9 L842.7,469.0 L843.2,468.8 L843.7,468.2 L844.2,467.6 L844.7,467.9 L845.2,468.0 L845.7,467.5 L846.2,467.2 L846.7,467.7 L847.2,468.4 L847.7,469.0 L848.2,469.1 L848.7,469.0 L849.2,469.2 L849.7,469.8 L850.2,471.2 L850.7,472.3 L851.2,472.9 L851.7,473.7 L852.2,474.5 L852.7,474.4 L853.2,474.1 L853.7,474.7 L854.2,475.1 L854.7,475.1 L855.2,475.0 L855.7,474.7 L856.2,474.7 L856.7,474.9 L857.2,475.1 L857.7,475.3 L858.2,475.7 L858.7,475.8 L859.2,474.8 L859.7,474.3 L860.2,474.3 L860.7,475.0 L861.2,475.9 L861.7,475.7 L862.2,475.1 L862.7,475.0 L863.2,475.1 L863.7,475.5 L864.2,475.9 L864.7,476.1 L865.2,474.9 L865.7,472.2 L866.2,470.7 L866.7,469.5 L867.2,467.9 L867.7,467.4 L868.2,467.3 L868.7,467.3 L869.2,467.6 L869.7,467.6 L870.2,467.8 L870.7,468.5 L871.2,469.3 L871.7,469.1 L872.2,469.3 L872.7,470.8 L873.2,471.6 L873.7,471.5 L874.2,471.8 L874.7,472.5 L875.2,473.1 L875.7,473.7 L876.2,473.8 L876.7,474.0 L877.2,474.1 L877.7,474.0 L878.2,473.8 L878.7,473.8 L879.2,474.2 L879.7,474.7 L880.2,475.3 L880.7,475.1 L881.2,474.9 L881.7,474.4 L882.2,474.3 L882.7,474.5 L883.2,474.8 L883.7,475.1 L884.2,475.2 L884.7,475.3 L885.2,475.8 L885.7,476.1 L886.2,475.6 L886.7,475.4 L887.2,475.8 L887.7,475.9 L888.2,475.9 L888.7,475.2 L889.2,474.3 L889.7,474.2 L890.2,474.3 L890.7,475.2 L891.2,475.4 L891.7,474.7 L892.2,474.5 L892.7,474.6 L893.2,474.8 L893.7,475.1 L894.2,473.7 L894.7,472.7 L895.2,473.0 L895.7,473.3 L896.2,473.5 L896.7,473.4 L897.2,472.9 L897.7,473.2 L898.2,473.6 L898.7,473.0 L899.2,472.7 L899.7,473.4 L900.2,473.8 L900.7,473.5 L901.2,473.0 L901.7,472.3 L902.2,472.7 L902.7,473.3 L903.2,473.0 L903.7,472.7 L904.2,472.5 L904.7,472.8 L905.2,473.7 L905.7,473.5 L906.2,472.5 L906.7,472.7 L907.2,473.2 L907.7,473.0 L908.2,472.9 L908.7,473.3 L909.2,473.6 L909.7,473.6 L910.2,473.7 L910.7,473.8 L911.2,474.3 L911.7,474.8 L912.2,474.3 L912.7,474.1 L913.2,474.8 L913.7,475.2 L914.2,475.2 L914.7,474.8 L915.2,474.3 L915.7,473.8 L916.2,473.4 L916.7,474.0 L917.2,474.5 L917.7,474.1 L918.2,474.0 L918.7,474.2 L919.2,474.1 L919.7,473.9 L920.2,473.1 L920.7,472.2 L921.2,473.0 L921.7,473.6 L922.2,472.7 L922.7,472.2 L923.2,472.3 L923.7,472.1 L924.2,471.8 L924.7,472.1 L925.2,473.0 L925.7,473.7 L926.2,474.2 L926.7,474.3 L927.2,474.5 L927.7,475.0 L928.2,475.8 L928.7,476.8 L929.0,477.2 L929.0,489.3 Z" fill="#4a8fe7" />
<circle cx="730.3" cy="400.5" r="14.2" fill="#000" opacity="0.040"/>
<text x="758.6" y="411.0" font-family="Liberation Sans, sans-serif" font-size="30.7" fill="#000" stroke="#000" stroke-width="0.90" stroke-linejoin="round" opacity="0.075" letter-spacing="0.00">Dune</text>
</svg>
<div class="abs card" style="left:45.0px;top:5.2px;width:150.5px;height:122.0px"></div>
<svg class="abs" style="left:91.7px;top:40.6px" width="57.2" height="57.2" viewBox="0 0 60 60"><circle cx="30" cy="30" r="30" fill="#e8e9ea"/><path d="M3.3,45.1 Q 31,41.8 59.5,31.2 L59.9,34.4 Q 32,45.6 4.8,48.9 Z" fill="#f8f8f8"/></svg>
<div class="t ktitle" style="left:50.60px;top:14px;font-size:8.30px;color:#2b2b2b;">crvUSD Debt</div>
<div class="t val" style="left:81.32px;top:57px;font-size:14.00px;color:#6670d4;">$89,753,914</div>
<div class="t lab" style="left:101.00px;top:74px;font-size:6.60px;color:#7f88dc;">crvUSD Debt</div>
<svg class="abs" style="left:50.8px;top:108.8px" width="9.2" height="9.2" viewBox="0 0 20 20"><defs><clipPath id="av1"><circle cx="10" cy="10" r="10"/></clipPath></defs><g clip-path="url(#av1)"><rect width="20" height="20" fill="#8f918b"/><path d="M0,0 L9,0 C7,3 10,5 9,8 C12,9 13,12 11,14 C9,17 5,18 3,20 L0,20 Z" fill="#2b2b29"/><path d="M9,0 L20,0 L20,9 C17,10 15,8 13,8.5 C11,6 10,3 9,0 Z" fill="#c9cbc6"/><path d="M3,20 C7,17 12,17 20,13 L20,20 Z" fill="#5d5f58"/></g></svg><div class="t u" style="left:62.20px;top:110px;font-size:7.00px;color:#333333;">@Marcov</div>
<div class="abs pill" style="left:159.0px;top:108.0px;width:28.0px;height:10.5px"></div><div class="t" style="left:162.00px;top:110px;font-size:7.60px;color:#3d9f83;">24d</div><svg class="abs" style="left:176.7px;top:108.8px" width="9.0" height="9.0" viewBox="0 0 16 16"><path d="M8.00,1.00 L10.26,2.55 L12.95,3.05 L13.45,5.74 L15.00,8.00 L13.45,10.26 L12.95,12.95 L10.26,13.45 L8.00,15.00 L5.74,13.45 L3.05,12.95 L2.55,10.26 L1.00,8.00 L2.55,5.74 L3.05,3.05 L5.74,2.55 Z" fill="none" stroke="#3d9f83" stroke-width="1.4" stroke-linejoin="round"/><path d="M5,8.2 L7.2,10.3 L11,6" fill="none" stroke="#3d9f83" stroke-width="1.5" stroke-linecap="round" stroke-linejoin="round"/></svg>
<div class="abs card" style="left:208.6px;top:5.2px;width:150.5px;height:122.0px"></div>
<svg class="abs" style="left:255.3px;top:40.6px" width="57.2" height="57.2" viewBox="0 0 60 60"><circle cx="30" cy="30" r="30" fill="#e8e9ea"/><path d="M3.3,45.1 Q 31,41.8 59.5,31.2 L59.9,34.4 Q 32,45.6 4.8,48.9 Z" fill="#f8f8f8"/></svg>
<div class="t ktitle" style="left:214.20px;top:14px;font-size:8.30px;color:#2b2b2b;">crvUSD Collateral Total $</div>
<div class="t val" style="left:252.24px;top:59px;font-size:12.00px;color:#6670d4;letter-spacing:-0.700px;">$191,711,411</div>
<div class="t lab" style="left:262.69px;top:74px;font-size:6.40px;color:#7f88dc;">Collateral USD</div>
<svg class="abs" style="left:214.4px;top:108.8px" width="9.2" height="9.2" viewBox="0 0 20 20"><defs><clipPath id="av2"><circle cx="10" cy="10" r="10"/></clipPath></defs><g clip-path="url(#av2)"><rect width="20" height="20" fill="#8f918b"/><path d="M0,0 L9,0 C7,3 10,5 9,8 C12,9 13,12 11,14 C9,17 5,18 3,20 L0,20 Z" fill="#2b2b29"/><path d="M9,0 L20,0 L20,9 C17,10 15,8 13,8.5 C11,6 10,3 9,0 Z" fill="#c9cbc6"/><path d="M3,20 C7,17 12,17 20,13 L20,20 Z" fill="#5d5f58"/></g></svg><div class="t u" style="left:225.80px;top:110px;font-size:7.00px;color:#333333;">@Marcov</div>
<div class="abs pill" style="left:322.6px;top:108.0px;width:28.0px;height:10.5px"></div><div class="t" style="left:325.60px;top:110px;font-size:7.60px;color:#3d9f83;">24d</div><svg class="abs" style="left:340.3px;top:108.8px" width="9.0" height="9.0" viewBox="0 0 16 16"><path d="M8.00,1.00 L10.26,2.55 L12.95,3.05 L13.45,5.74 L15.00,8.00 L13.45,10.26 L12.95,12.95 L10.26,13.45 L8.00,15.00 L5.74,13.45 L3.05,12.95 L2.55,10.26 L1.00,8.00 L2.55,5.74 L3.05,3.05 L5.74,2.55 Z" fill="none" stroke="#3d9f83" stroke-width="1.4" stroke-linejoin="round"/><path d="M5,8.2 L7.2,10.3 L11,6" fill="none" stroke="#3d9f83" stroke-width="1.5" stroke-linecap="round" stroke-linejoin="round"/></svg>
<div class="abs card" style="left:372.2px;top:5.2px;width:150.5px;height:122.0px"></div>
<svg class="abs" style="left:418.8px;top:40.6px" width="57.2" height="57.2" viewBox="0 0 60 60"><circle cx="30" cy="30" r="30" fill="#e8e9ea"/><path d="M3.3,45.1 Q 31,41.8 59.5,31.2 L59.9,34.4 Q 32,45.6 4.8,48.9 Z" fill="#f8f8f8"/></svg>
<div class="t ktitle" style="left:377.80px;top:14px;font-size:8.30px;color:#2b2b2b;">crvUSD Holders</div>
<div class="t val" style="left:426.68px;top:56px;font-size:16.60px;color:#6670d4;">4,710</div>
<div class="t lab" style="left:404.44px;top:72px;font-size:9.00px;color:#7f88dc;">Total crvUSD Holders</div>
<svg class="abs" style="left:378.0px;top:108.8px" width="9.2" height="9.2" viewBox="0 0 20 20"><defs><clipPath id="av3"><circle cx="10" cy="10" r="10"/></clipPath></defs><g clip-path="url(#av3)"><rect width="20" height="20" fill="#8f918b"/><path d="M0,0 L9,0 C7,3 10,5 9,8 C12,9 13,12 11,14 C9,17 5,18 3,20 L0,20 Z" fill="#2b2b29"/><path d="M9,0 L20,0 L20,9 C17,10 15,8 13,8.5 C11,6 10,3 9,0 Z" fill="#c9cbc6"/><path d="M3,20 C7,17 12,17 20,13 L20,20 Z" fill="#5d5f58"/></g></svg><div class="t u" style="left:389.40px;top:110px;font-size:7.00px;color:#333333;">@Marcov</div>
<div class="abs pill" style="left:486.2px;top:108.0px;width:28.0px;height:10.5px"></div><div class="t" style="left:489.20px;top:110px;font-size:7.60px;color:#3d9f83;">24d</div><svg class="abs" style="left:503.9px;top:108.8px" width="9.0" height="9.0" viewBox="0 0 16 16"><path d="M8.00,1.00 L10.26,2.55 L12.95,3.05 L13.45,5.74 L15.00,8.00 L13.45,10.26 L12.95,12.95 L10.26,13.45 L8.00,15.00 L5.74,13.45 L3.05,12.95 L2.55,10.26 L1.00,8.00 L2.55,5.74 L3.05,3.05 L5.74,2.55 Z" fill="none" stroke="#3d9f83" stroke-width="1.4" stroke-linejoin="round"/><path d="M5,8.2 L7.2,10.3 L11,6" fill="none" stroke="#3d9f83" stroke-width="1.5" stroke-linecap="round" stroke-linejoin="round"/></svg>
<div class="abs card" style="left:45.0px;top:137.0px;width:150.5px;height:122.0px"></div>
<svg class="abs" style="left:91.7px;top:172.4px" width="57.2" height="57.2" viewBox="0 0 60 60"><circle cx="30" cy="30" r="30" fill="#e8e9ea"/><path d="M3.3,45.1 Q 31,41.8 59.5,31.2 L59.9,34.4 Q 32,45.6 4.8,48.9 Z" fill="#f8f8f8"/></svg>
<div class="t ktitle" style="left:50.60px;top:146px;font-size:8.30px;color:#2b2b2b;">crvUSD Volume Total</div>
<div class="t val" style="left:83.08px;top:192px;font-size:11.00px;color:#6670d4;letter-spacing:-0.550px;">$18,647,422,317</div>
<div class="t lab" style="left:94.18px;top:207px;font-size:5.30px;color:#7f88dc;">Volume crvUSD Pools</div>
<svg class="abs" style="left:50.8px;top:240.8px" width="9.2" height="9.2" viewBox="0 0 20 20"><defs><clipPath id="av4"><circle cx="10" cy="10" r="10"/></clipPath></defs><g clip-path="url(#av4)"><rect width="20" height="20" fill="#8f918b"/><path d="M0,0 L9,0 C7,3 10,5 9,8 C12,9 13,12 11,14 C9,17 5,18 3,20 L0,20 Z" fill="#2b2b29"/><path d="M9,0 L20,0 L20,9 C17,10 15,8 13,8.5 C11,6 10,3 9,0 Z" fill="#c9cbc6"/><path d="M3,20 C7,17 12,17 20,13 L20,20 Z" fill="#5d5f58"/></g></svg><div class="t u" style="left:62.20px;top:242px;font-size:7.00px;color:#333333;">@Marcov</div>
<div class="abs pill" style="left:159.0px;top:240.1px;width:28.0px;height:10.5px"></div><div class="t" style="left:162.00px;top:242px;font-size:7.60px;color:#3d9f83;">24d</div><svg class="abs" style="left:176.7px;top:240.8px" width="9.0" height="9.0" viewBox="0 0 16 16"><path d="M8.00,1.00 L10.26,2.55 L12.95,3.05 L13.45,5.74 L15.00,8.00 L13.45,10.26 L12.95,12.95 L10.26,13.45 L8.00,15.00 L5.74,13.45 L3.05,12.95 L2.55,10.26 L1.00,8.00 L2.55,5.74 L3.05,3.05 L5.74,2.55 Z" fill="none" stroke="#3d9f83" stroke-width="1.4" stroke-linejoin="round"/><path d="M5,8.2 L7.2,10.3 L11,6" fill="none" stroke="#3d9f83" stroke-width="1.5" stroke-linecap="round" stroke-linejoin="round"/></svg>
<div class="abs card" style="left:208.6px;top:137.0px;width:150.5px;height:122.0px"></div>
<svg class="abs" style="left:255.3px;top:172.4px" width="57.2" height="57.2" viewBox="0 0 60 60"><circle cx="30" cy="30" r="30" fill="#e8e9ea"/><path d="M3.3,45.1 Q 31,41.8 59.5,31.2 L59.9,34.4 Q 32,45.6 4.8,48.9 Z" fill="#f8f8f8"/></svg>
<div class="t ktitle" style="left:214.20px;top:146px;font-size:8.30px;color:#2b2b2b;">crvUSD AMM Total Volume</div>
<div class="t val" style="left:246.33px;top:191px;font-size:11.60px;color:#6670d4;letter-spacing:-0.400px;">$1,446,158,695</div>
<div class="t lab" style="left:260.25px;top:207px;font-size:5.70px;color:#7f88dc;">Total AMM Volume</div>
<svg class="abs" style="left:214.4px;top:240.8px" width="9.2" height="9.2" viewBox="0 0 20 20"><defs><clipPath id="av5"><circle cx="10" cy="10" r="10"/></clipPath></defs><g clip-path="url(#av5)"><rect width="20" height="20" fill="#8f918b"/><path d="M0,0 L9,0 C7,3 10,5 9,8 C12,9 13,12 11,14 C9,17 5,18 3,20 L0,20 Z" fill="#2b2b29"/><path d="M9,0 L20,0 L20,9 C17,10 15,8 13,8.5 C11,6 10,3 9,0 Z" fill="#c9cbc6"/><path d="M3,20 C7,17 12,17 20,13 L20,20 Z" fill="#5d5f58"/></g></svg><div class="t u" style="left:225.80px;top:242px;font-size:7.00px;color:#333333;">@Marcov</div>
<div class="abs pill" style="left:322.6px;top:240.1px;width:28.0px;height:10.5px"></div><div class="t" style="left:325.60px;top:242px;font-size:7.60px;color:#3d9f83;">24d</div><svg class="abs" style="left:340.3px;top:240.8px" width="9.0" height="9.0" viewBox="0 0 16 16"><path d="M8.00,1.00 L10.26,2.55 L12.95,3.05 L13.45,5.74 L15.00,8.00 L13.45,10.26 L12.95,12.95 L10.26,13.45 L8.00,15.00 L5.74,13.45 L3.05,12.95 L2.55,10.26 L1.00,8.00 L2.55,5.74 L3.05,3.05 L5.74,2.55 Z" fill="none" stroke="#3d9f83" stroke-width="1.4" stroke-linejoin="round"/><path d="M5,8.2 L7.2,10.3 L11,6" fill="none" stroke="#3d9f83" stroke-width="1.5" stroke-linecap="round" stroke-linejoin="round"/></svg>
<div class="abs card" style="left:372.2px;top:137.0px;width:150.5px;height:122.0px"></div>
<svg class="abs" style="left:418.8px;top:172.4px" width="57.2" height="57.2" viewBox="0 0 60 60"><circle cx="30" cy="30" r="30" fill="#e8e9ea"/><path d="M3.3,45.1 Q 31,41.8 59.5,31.2 L59.9,34.4 Q 32,45.6 4.8,48.9 Z" fill="#f8f8f8"/></svg>
<div class="t ktitle" style="left:377.80px;top:146px;font-size:8.30px;color:#2b2b2b;letter-spacing:-0.100px;">scrvUSD Deposit</div>
<div class="t" style="left:445.90px;top:146px;font-size:8.30px;color:#8c8c8c;">scrvUSD Deposits</div>
<div class="t val" style="left:406.66px;top:187px;font-size:16.30px;color:#6670d4;">38,948,393</div>
<div class="t lab" style="left:417.76px;top:205px;font-size:7.80px;color:#7f88dc;">scrvUSD Deposit</div>
<svg class="abs" style="left:378.0px;top:240.8px" width="9.2" height="9.2" viewBox="0 0 20 20"><defs><clipPath id="av6"><circle cx="10" cy="10" r="10"/></clipPath></defs><g clip-path="url(#av6)"><rect width="20" height="20" fill="#8f918b"/><path d="M0,0 L9,0 C7,3 10,5 9,8 C12,9 13,12 11,14 C9,17 5,18 3,20 L0,20 Z" fill="#2b2b29"/><path d="M9,0 L20,0 L20,9 C17,10 15,8 13,8.5 C11,6 10,3 9,0 Z" fill="#c9cbc6"/><path d="M3,20 C7,17 12,17 20,13 L20,20 Z" fill="#5d5f58"/></g></svg><div class="t u" style="left:389.40px;top:242px;font-size:7.00px;color:#333333;">@Marcov</div>
<div class="abs pill" style="left:486.2px;top:240.1px;width:28.0px;height:10.5px"></div><div class="t" style="left:489.20px;top:242px;font-size:7.60px;color:#3d9f83;">10d</div><svg class="abs" style="left:503.9px;top:240.8px" width="9.0" height="9.0" viewBox="0 0 16 16"><path d="M8.00,1.00 L10.26,2.55 L12.95,3.05 L13.45,5.74 L15.00,8.00 L13.45,10.26 L12.95,12.95 L10.26,13.45 L8.00,15.00 L5.74,13.45 L3.05,12.95 L2.55,10.26 L1.00,8.00 L2.55,5.74 L3.05,3.05 L5.74,2.55 Z" fill="none" stroke="#3d9f83" stroke-width="1.4" stroke-linejoin="round"/><path d="M5,8.2 L7.2,10.3 L11,6" fill="none" stroke="#3d9f83" stroke-width="1.5" stroke-linecap="round" stroke-linejoin="round"/></svg>
<div class="abs card" style="left:536.0px;top:5.2px;width:476.0px;height:254.0px"></div>
<div class="t ktitle" style="left:541.30px;top:14px;font-size:8.30px;color:#2b2b2b;text-decoration:underline;text-decoration-thickness:0.5px;text-underline-offset:0.6px;">crvUSD Collateral Total</div>
<div class="abs" style="left:536.8px;top:31.5px;width:475.2px;height:17.5px;background:#f7f7f7"></div>
<div class="t" style="left:541.80px;top:37px;font-size:7.05px;color:#2a2a2a;font-weight:bold;font-family:'Liberation Mono',monospace;">Address</div>
<div class="t" style="left:805.60px;top:37px;font-size:7.05px;color:#2a2a2a;font-weight:bold;font-family:'Liberation Mono',monospace;">Symbol</div>
<div class="t" style="left:863.20px;top:37px;font-size:7.05px;color:#2a2a2a;font-weight:bold;font-family:'Liberation Mono',monospace;">USD</div>
<div class="t m" style="left:541.80px;top:55px;font-size:7.05px;color:#303030;font-family:'Liberation Mono',monospace;">0x2260fac5e5542a773aa44fbcfedf7c193bc2c599</div>
<div class="t m" style="left:805.60px;top:55px;font-size:7.05px;color:#303030;font-family:'Liberation Mono',monospace;">WBTC</div>
<div class="abs bar" style="left:863.2px;top:55.3px;width:46.5px;height:4.6px"><i style="width:46.5px"></i></div>
<div class="t m" style="left:916.30px;top:55px;font-size:7.05px;color:#303030;font-family:'Liberation Mono',monospace;">$67,203,856</div>
<div class="abs" style="left:536.8px;top:65.9px;width:475.2px;height:1px;background:#f5f5f5"></div>
<div class="t m" style="left:541.80px;top:72px;font-size:7.05px;color:#303030;font-family:'Liberation Mono',monospace;">0xc02aaa39b223fe8d0a0e5c4f27ead9083c756cc2</div>
<div class="t m" style="left:805.60px;top:72px;font-size:7.05px;color:#303030;font-family:'Liberation Mono',monospace;">WETH</div>
<div class="abs bar" style="left:863.2px;top:72.3px;width:46.5px;height:4.6px"><i style="width:44.8px"></i></div>
<div class="t m" style="left:916.30px;top:72px;font-size:7.05px;color:#303030;font-family:'Liberation Mono',monospace;">$64,135,856</div>
<div class="abs" style="left:536.8px;top:82.9px;width:475.2px;height:1px;background:#f5f5f5"></div>
<div class="t m" style="left:541.80px;top:89px;font-size:7.05px;color:#303030;font-family:'Liberation Mono',monospace;">0x18084fba666a33d37592fa2633fd49a74dd93a88</div>
<div class="t m" style="left:805.60px;top:89px;font-size:7.05px;color:#303030;font-family:'Liberation Mono',monospace;">TBTC</div>
<div class="abs bar" style="left:863.2px;top:89.3px;width:46.5px;height:4.6px"><i style="width:15.4px"></i></div>
<div class="t m" style="left:916.30px;top:89px;font-size:7.05px;color:#303030;font-family:'Liberation Mono',monospace;">$22,332,685</div>
<div class="abs" style="left:536.8px;top:99.9px;width:475.2px;height:1px;background:#f5f5f5"></div>
<div class="t m" style="left:541.80px;top:106px;font-size:7.05px;color:#303030;font-family:'Liberation Mono',monospace;">0x7f39c581f595b53c5cb19bd0b3f8da6c935e2ca0</div>
<div class="t m" style="left:805.60px;top:106px;font-size:7.05px;color:#303030;font-family:'Liberation Mono',monospace;">wstETH</div>
<div class="abs bar" style="left:863.2px;top:106.3px;width:46.5px;height:4.6px"><i style="width:6.2px"></i></div>
<div class="t m" style="left:916.30px;top:106px;font-size:7.05px;color:#303030;font-family:'Liberation Mono',monospace;">$9,446,541</div>
<div class="abs" style="left:536.8px;top:116.9px;width:475.2px;height:1px;background:#f5f5f5"></div>
<div class="t m" style="left:541.80px;top:123px;font-size:7.05px;color:#303030;font-family:'Liberation Mono',monospace;">0xac3e018457b222d93114458476f3e3416abbe38f</div>
<div class="t m" style="left:805.60px;top:123px;font-size:7.05px;color:#303030;font-family:'Liberation Mono',monospace;">sfrxETH</div>
<div class="abs bar" style="left:863.2px;top:123.3px;width:46.5px;height:4.6px"><i style="width:4.4px"></i></div>
<div class="t m" style="left:916.30px;top:123px;font-size:7.05px;color:#303030;font-family:'Liberation Mono',monospace;">$6,189,713</div>
<div class="abs" style="left:536.8px;top:133.9px;width:475.2px;height:1px;background:#f5f5f5"></div>
<div class="t m" style="left:541.80px;top:140px;font-size:7.05px;color:#303030;font-family:'Liberation Mono',monospace;">0xf939e0a03fb07f59a73314e73794be0e57ac1b4e</div>
<div class="t m" style="left:805.60px;top:140px;font-size:7.05px;color:#303030;font-family:'Liberation Mono',monospace;">crvUSD</div>
<div class="abs bar" style="left:863.2px;top:140.3px;width:46.5px;height:4.6px"><i style="width:0.0px"></i></div>
<div class="t m" style="left:916.30px;top:140px;font-size:7.05px;color:#303030;font-family:'Liberation Mono',monospace;">$34,332</div>
<div class="abs" style="left:536.8px;top:150.9px;width:475.2px;height:1px;background:#f5f5f5"></div>
<div class="t" style="left:543.70px;top:224px;font-size:7.20px;color:#8a8a8a;">6 rows</div>
<svg class="abs" style="left:574.3px;top:224.0px" width="7" height="7" viewBox="0 0 14 14"><circle cx="6" cy="6" r="4.3" fill="none" stroke="#9a9a9a" stroke-width="1.3"/><path d="M9.2,9.2 L12.5,12.5" stroke="#9a9a9a" stroke-width="1.3" stroke-linecap="round"/></svg>
<div class="t" style="left:582.60px;top:224px;font-size:7.00px;color:#a2a2a2;">Search...</div>
<svg class="abs" style="left:541.6px;top:240.8px" width="9.2" height="9.2" viewBox="0 0 20 20"><defs><clipPath id="av7"><circle cx="10" cy="10" r="10"/></clipPath></defs><g clip-path="url(#av7)"><rect width="20" height="20" fill="#8f918b"/><path d="M0,0 L9,0 C7,3 10,5 9,8 C12,9 13,12 11,14 C9,17 5,18 3,20 L0,20 Z" fill="#2b2b29"/><path d="M9,0 L20,0 L20,9 C17,10 15,8 13,8.5 C11,6 10,3 9,0 Z" fill="#c9cbc6"/><path d="M3,20 C7,17 12,17 20,13 L20,20 Z" fill="#5d5f58"/></g></svg><div class="t u" style="left:553.00px;top:242px;font-size:7.00px;color:#333333;">@Marcov</div>
<div class="abs pill" style="left:977.5px;top:240.1px;width:28.0px;height:10.5px"></div><div class="t" style="left:980.50px;top:242px;font-size:7.60px;color:#3d9f83;">24d</div><svg class="abs" style="left:995.2px;top:240.8px" width="9.0" height="9.0" viewBox="0 0 16 16"><path d="M8.00,1.00 L10.26,2.55 L12.95,3.05 L13.45,5.74 L15.00,8.00 L13.45,10.26 L12.95,12.95 L10.26,13.45 L8.00,15.00 L5.74,13.45 L3.05,12.95 L2.55,10.26 L1.00,8.00 L2.55,5.74 L3.05,3.05 L5.74,2.55 Z" fill="none" stroke="#3d9f83" stroke-width="1.4" stroke-linejoin="round"/><path d="M5,8.2 L7.2,10.3 L11,6" fill="none" stroke="#3d9f83" stroke-width="1.5" stroke-linecap="round" stroke-linejoin="round"/></svg>
<svg class="abs" style="left:927.6px;top:243.8px" width="9" height="3" viewBox="0 0 9 3"><circle cx="1.1" cy="1.5" r="0.95" fill="#333"/><circle cx="4.2" cy="1.5" r="0.95" fill="#333"/><circle cx="7.3" cy="1.5" r="0.95" fill="#333"/></svg>
<svg class="abs" style="left:945.8px;top:240.7px" width="8" height="9" viewBox="0 0 16 18"><circle cx="8" cy="6.5" r="4.6" fill="none" stroke="#444" stroke-width="1.7"/><path d="M3.5,12.5 C2,14 2,16.5 4,16.5 L11,16.5" fill="none" stroke="#444" stroke-width="1.7" stroke-linecap="round"/><path d="M11.5,2.5 L14,0.8 M13,5 L15.5,4.6" stroke="#444" stroke-width="1.5" stroke-linecap="round"/></svg>
<div class="t u" style="left:957.50px;top:243px;font-size:6.60px;color:#333;">API</div>
<div class="abs card" style="left:45.0px;top:270.0px;width:476.0px;height:247.0px"></div>
<div class="t ctitle" style="left:50.60px;top:277px;font-size:8.30px;color:#1f1f1f;">crvUSD Collateral USD</div>
<div class="t" style="left:140.00px;top:277px;font-size:8.30px;color:#8c8c8c;">crvUSD Collateral</div>
<div class="t" style="left:73.46px;top:486px;font-size:6.90px;color:#6f6f6f;">0</div>
<div class="t" style="left:60.04px;top:430px;font-size:6.90px;color:#6f6f6f;">100m</div>
<div class="t" style="left:60.04px;top:375px;font-size:6.90px;color:#6f6f6f;">200m</div>
<div class="t" style="left:60.04px;top:320px;font-size:6.90px;color:#6f6f6f;">300m</div>
<div class="t" style="left:66.15px;top:495px;font-size:6.90px;color:#6f6f6f;">May 2023</div>
<div class="t" style="left:137.93px;top:495px;font-size:6.90px;color:#6f6f6f;">Nov 2023</div>
<div class="t" style="left:209.45px;top:495px;font-size:6.90px;color:#6f6f6f;">May 2024</div>
<div class="t" style="left:282.50px;top:495px;font-size:6.90px;color:#6f6f6f;">Oct 2024</div>
<div class="t" style="left:354.00px;top:495px;font-size:6.90px;color:#6f6f6f;">Apr 2025</div>
<div class="t" style="left:499.68px;top:345px;font-size:7.40px;color:#707070;">All</div>
<div class="abs" style="left:511.2px;top:345.7px;width:5.4px;height:5.4px;border-radius:1.2px;background:#666666"></div>
<div class="t" style="left:492.68px;top:357px;font-size:7.40px;color:#707070;">APU</div>
<div class="abs" style="left:511.2px;top:357.7px;width:5.4px;height:5.4px;border-radius:1.2px;background:#4fb9a2"></div>
<div class="t" style="left:488.58px;top:368px;font-size:7.40px;color:#707070;">TBTC</div>
<div class="abs" style="left:511.2px;top:368.7px;width:5.4px;height:5.4px;border-radius:1.2px;background:#6468bf"></div>
<div class="t" style="left:486.12px;top:380px;font-size:7.40px;color:#707070;">WETH</div>
<div class="abs" style="left:511.2px;top:380.7px;width:5.4px;height:5.4px;border-radius:1.2px;background:#9a9a9a"></div>
<div class="t" style="left:486.12px;top:391px;font-size:7.40px;color:#707070;">WBTC</div>
<div class="abs" style="left:511.2px;top:391.7px;width:5.4px;height:5.4px;border-radius:1.2px;background:#d9b40a"></div>
<div class="t" style="left:482.41px;top:403px;font-size:7.40px;color:#707070;">crvUSD</div>
<div class="abs" style="left:511.2px;top:403.7px;width:5.4px;height:5.4px;border-radius:1.2px;background:#555555"></div>
<div class="t" style="left:481.18px;top:414px;font-size:7.40px;color:#707070;">sfrxETH</div>
<div class="abs" style="left:511.2px;top:414.7px;width:5.4px;height:5.4px;border-radius:1.2px;background:#000000"></div>
<div class="t" style="left:482.00px;top:426px;font-size:7.40px;color:#707070;">wstETH</div>
<div class="abs" style="left:511.2px;top:426.7px;width:5.4px;height:5.4px;border-radius:1.2px;background:#4a8fe7"></div>
<svg class="abs" style="left:50.8px;top:502.8px" width="9.2" height="9.2" viewBox="0 0 20 20"><defs><clipPath id="av8"><circle cx="10" cy="10" r="10"/></clipPath></defs><g clip-path="url(#av8)"><rect width="20" height="20" fill="#8f918b"/><path d="M0,0 L9,0 C7,3 10,5 9,8 C12,9 13,12 11,14 C9,17 5,18 3,20 L0,20 Z" fill="#2b2b29"/><path d="M9,0 L20,0 L20,9 C17,10 15,8 13,8.5 C11,6 10,3 9,0 Z" fill="#c9cbc6"/><path d="M3,20 C7,17 12,17 20,13 L20,20 Z" fill="#5d5f58"/></g></svg><div class="t u" style="left:62.20px;top:504px;font-size:7.00px;color:#333333;">@Marcov</div>
<div class="abs pill" style="left:486.5px;top:502.1px;width:28.0px;height:10.5px"></div><div class="t" style="left:489.50px;top:504px;font-size:7.60px;color:#3d9f83;">24d</div><svg class="abs" style="left:504.2px;top:502.8px" width="9.0" height="9.0" viewBox="0 0 16 16"><path d="M8.00,1.00 L10.26,2.55 L12.95,3.05 L13.45,5.74 L15.00,8.00 L13.45,10.26 L12.95,12.95 L10.26,13.45 L8.00,15.00 L5.74,13.45 L3.05,12.95 L2.55,10.26 L1.00,8.00 L2.55,5.74 L3.05,3.05 L5.74,2.55 Z" fill="none" stroke="#3d9f83" stroke-width="1.4" stroke-linejoin="round"/><path d="M5,8.2 L7.2,10.3 L11,6" fill="none" stroke="#3d9f83" stroke-width="1.5" stroke-linecap="round" stroke-linejoin="round"/></svg>
<div class="abs card" style="left:536.0px;top:270.0px;width:475.0px;height:247.0px"></div>
<div class="t ctitle" style="left:541.60px;top:277px;font-size:8.30px;color:#1f1f1f;">crvUSD Collateral Token</div>
<div class="t" style="left:636.20px;top:277px;font-size:8.30px;color:#8c8c8c;">crvUSD Collateral</div>
<div class="t" style="left:563.66px;top:486px;font-size:6.90px;color:#6f6f6f;">0</div>
<div class="t" style="left:553.69px;top:391px;font-size:6.90px;color:#6f6f6f;">50%</div>
<div class="t" style="left:549.85px;top:296px;font-size:6.90px;color:#6f6f6f;">100%</div>
<div class="t" style="left:556.85px;top:495px;font-size:6.90px;color:#6f6f6f;">May 2023</div>
<div class="t" style="left:628.73px;top:495px;font-size:6.90px;color:#6f6f6f;">Nov 2023</div>
<div class="t" style="left:699.85px;top:495px;font-size:6.90px;color:#6f6f6f;">May 2024</div>
<div class="t" style="left:773.00px;top:495px;font-size:6.90px;color:#6f6f6f;">Oct 2024</div>
<div class="t" style="left:844.50px;top:495px;font-size:6.90px;color:#6f6f6f;">Apr 2025</div>
<div class="t" style="left:990.58px;top:345px;font-size:7.40px;color:#707070;">All</div>
<div class="abs" style="left:1002.1px;top:345.7px;width:5.4px;height:5.4px;border-radius:1.2px;background:#555555"></div>
<div class="t" style="left:983.58px;top:357px;font-size:7.40px;color:#707070;">APU</div>
<div class="abs" style="left:1002.1px;top:357.7px;width:5.4px;height:5.4px;border-radius:1.2px;background:#4fb9a2"></div>
<div class="t" style="left:979.48px;top:368px;font-size:7.40px;color:#707070;">TBTC</div>
<div class="abs" style="left:1002.1px;top:368.7px;width:5.4px;height:5.4px;border-radius:1.2px;background:#6468bf"></div>
<div class="t" style="left:977.02px;top:380px;font-size:7.40px;color:#707070;">WETH</div>
<div class="abs" style="left:1002.1px;top:380.7px;width:5.4px;height:5.4px;border-radius:1.2px;background:#9a9a9a"></div>
<div class="t" style="left:977.02px;top:391px;font-size:7.40px;color:#707070;">WBTC</div>
<div class="abs" style="left:1002.1px;top:391.7px;width:5.4px;height:5.4px;border-radius:1.2px;background:#e19905"></div>
<div class="t" style="left:973.31px;top:403px;font-size:7.40px;color:#707070;">crvUSD</div>
<div class="abs" style="left:1002.1px;top:403.7px;width:5.4px;height:5.4px;border-radius:1.2px;background:#555555"></div>
<div class="t" style="left:972.08px;top:414px;font-size:7.40px;color:#707070;">sfrxETH</div>
<div class="abs" style="left:1002.1px;top:414.7px;width:5.4px;height:5.4px;border-radius:1.2px;background:#000000"></div>
<div class="t" style="left:972.90px;top:426px;font-size:7.40px;color:#707070;">wstETH</div>
<div class="abs" style="left:1002.1px;top:426.7px;width:5.4px;height:5.4px;border-radius:1.2px;background:#4a8fe7"></div>
<svg class="abs" style="left:541.8px;top:502.8px" width="9.2" height="9.2" viewBox="0 0 20 20"><defs><clipPath id="av9"><circle cx="10" cy="10" r="10"/></clipPath></defs><g clip-path="url(#av9)"><rect width="20" height="20" fill="#8f918b"/><path d="M0,0 L9,0 C7,3 10,5 9,8 C12,9 13,12 11,14 C9,17 5,18 3,20 L0,20 Z" fill="#2b2b29"/><path d="M9,0 L20,0 L20,9 C17,10 15,8 13,8.5 C11,6 10,3 9,0 Z" fill="#c9cbc6"/><path d="M3,20 C7,17 12,17 20,13 L20,20 Z" fill="#5d5f58"/></g></svg><div class="t u" style="left:553.20px;top:504px;font-size:7.00px;color:#333333;">@Marcov</div>
<div class="abs pill" style="left:976.5px;top:502.1px;width:28.0px;height:10.5px"></div><div class="t" style="left:979.50px;top:504px;font-size:7.60px;color:#3d9f83;">24d</div><svg class="abs" style="left:994.2px;top:502.8px" width="9.0" height="9.0" viewBox="0 0 16 16"><path d="M8.00,1.00 L10.26,2.55 L12.95,3.05 L13.45,5.74 L15.00,8.00 L13.45,10.26 L12.95,12.95 L10.26,13.45 L8.00,15.00 L5.74,13.45 L3.05,12.95 L2.55,10.26 L1.00,8.00 L2.55,5.74 L3.05,3.05 L5.74,2.55 Z" fill="none" stroke="#3d9f83" stroke-width="1.4" stroke-linejoin="round"/><path d="M5,8.2 L7.2,10.3 L11,6" fill="none" stroke="#3d9f83" stroke-width="1.5" stroke-linecap="round" stroke-linejoin="round"/></svg>
</div>
</body></html>
